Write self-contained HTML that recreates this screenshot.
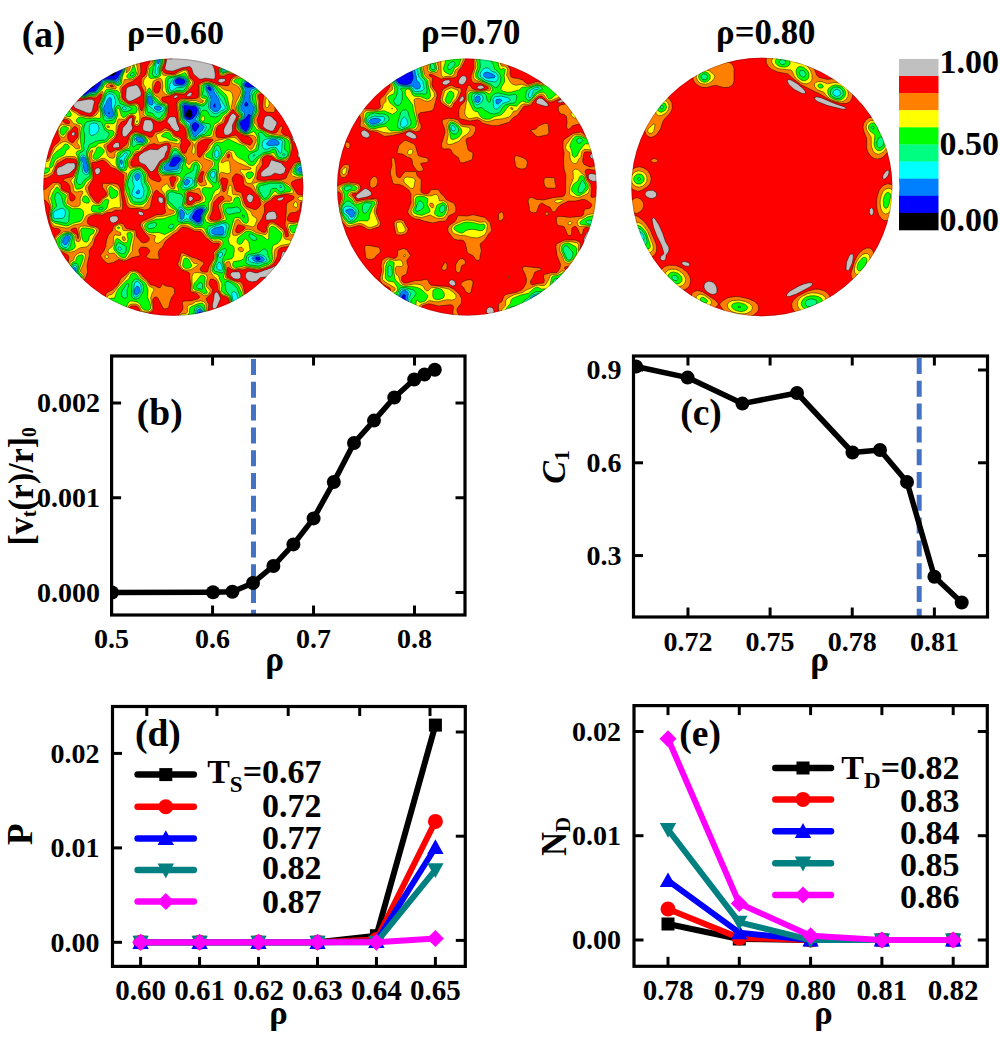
<!DOCTYPE html>
<html><head><meta charset="utf-8"><style>
html,body{margin:0;padding:0;background:#fff;width:1000px;height:1037px;overflow:hidden}
svg{display:block}
</style></head><body>
<svg width="1000" height="1037" viewBox="0 0 1000 1037">
<text x="21.8" y="47.3" font-family="Liberation Serif" font-weight="bold" font-size="37.5" text-anchor="start" >(a)</text><text x="175.5" y="44" font-family="Liberation Serif" font-weight="bold" font-size="34" text-anchor="middle" >ρ=0.60</text><text x="470.7" y="44" font-family="Liberation Serif" font-weight="bold" font-size="34.8" text-anchor="middle" >ρ=0.70</text><text x="765.8" y="44" font-family="Liberation Serif" font-weight="bold" font-size="34.8" text-anchor="middle" >ρ=0.80</text><rect x="899" y="58.90" width="39.5" height="17.41" fill="#C0C0C0"/><rect x="899" y="76.01" width="39.5" height="17.41" fill="#FF0000"/><rect x="899" y="93.12" width="39.5" height="17.41" fill="#FF8000"/><rect x="899" y="110.23" width="39.5" height="17.41" fill="#FFFF00"/><rect x="899" y="127.34" width="39.5" height="17.41" fill="#00FF00"/><rect x="899" y="144.45" width="39.5" height="17.41" fill="#00FF80"/><rect x="899" y="161.56" width="39.5" height="17.41" fill="#00FFFF"/><rect x="899" y="178.67" width="39.5" height="17.41" fill="#0080FF"/><rect x="899" y="195.78" width="39.5" height="17.41" fill="#0000FF"/><rect x="899" y="212.89" width="39.5" height="17.41" fill="#000000"/><text x="999" y="73" font-family="Liberation Serif" font-weight="bold" font-size="34" text-anchor="end" >1.00</text><text x="999" y="155" font-family="Liberation Serif" font-weight="bold" font-size="34" text-anchor="end" >0.50</text><text x="999" y="230.5" font-family="Liberation Serif" font-weight="bold" font-size="34" text-anchor="end" >0.00</text><clipPath id="k1"><ellipse cx="173.3" cy="187.2" rx="131.5" ry="130.1"/></clipPath><g clip-path="url(#k1)"><circle cx="173.3" cy="187.2" r="132.0" fill="#000000"/><path d="M189.3 109.3 191.3 110.9 192.3 115.2 191.0 117.1 188.3 117.8 186.4 116.5 185.9 114.2 187.6 110.2ZM41.5 55.4 41.5 319.0 199.6 319.2 200.9 318.3 202.0 319.2 305.1 319.0 305.1 55.4 282.7 55.3 280.9 59.7 272.3 63.1 269.0 67.2 265.3 69.5 262.4 74.5 260.9 80.2 259.3 81.7 257.3 82.4 256.4 81.5 256.8 72.9 261.0 69.5 262.8 66.5 264.2 55.6 263.6 55.2 112.3 55.2 111.7 55.6 113.2 67.2 116.5 71.9 115.5 73.9 113.6 75.3 111.6 75.9 105.0 75.7 100.6 76.6 98.1 78.9 96.9 82.2 93.3 87.2 92.3 87.8 88.0 88.4 83.6 90.8 80.4 89.2 78.9 81.9 73.2 75.5 71.3 74.1 67.0 73.0 65.8 72.2 64.2 69.2 61.0 66.2 59.5 62.9 56.4 59.9 55.4 55.4Z" fill="#0000FF" stroke="#000" stroke-width="0.55" stroke-opacity="0.85" fill-rule="evenodd"/><path d="M68.9 272.5 70.0 271.9 72.3 271.9 72.9 272.5 72.9 273.5 72.3 274.3 71.0 274.4 69.3 273.5ZM255.4 258.2 256.3 257.1 257.6 256.9 259.6 257.6 260.5 258.9 259.6 259.9 257.6 260.2 256.0 259.5ZM202.0 208.9 202.9 209.5 203.2 210.5 200.8 215.2 200.2 220.9 199.0 222.1 197.3 222.0 193.3 219.2 192.4 217.9 192.4 216.5 195.1 211.5 196.6 210.0 199.3 209.0ZM180.2 158.2 180.6 159.5 180.2 160.5 175.3 166.0 173.3 166.5 169.4 166.1 169.4 165.2 171.9 159.5 173.3 157.7 175.6 156.9 178.0 156.9ZM195.6 122.5 198.3 124.2 199.2 126.2 195.9 130.9 194.6 131.5 192.6 129.2 192.0 125.9 193.3 123.0ZM249.6 114.3 250.5 115.5 249.6 119.2 249.1 125.9 247.0 130.2 245.6 131.1 244.6 131.1 241.7 128.2 240.1 124.2 240.1 122.5 241.3 121.0 245.3 118.5 248.0 114.9ZM108.5 112.7 109.3 112.7 109.5 113.4 108.7 113.4ZM184.6 105.1 190.0 106.2 195.0 106.5 197.0 107.9 197.5 109.9 196.4 113.9 194.0 117.2 192.0 118.9 190.0 119.5 187.6 119.5 186.3 119.1 185.0 117.5 184.3 115.2 184.3 109.9 183.6 106.5ZM214.9 103.6 215.3 106.5 214.6 107.4 213.8 106.9 213.6 105.5ZM246.0 102.0 246.9 102.2 248.1 104.5 247.9 105.5 247.0 106.1 245.3 106.1 244.7 105.5 244.8 103.9ZM208.3 86.7 209.6 86.8 210.8 87.9 211.3 89.2 210.9 90.8 209.6 90.7 208.1 88.9 207.7 87.5ZM175.0 81.5 175.4 80.2 177.0 78.8 180.3 78.5 184.0 79.7 185.2 81.9 183.3 84.2 180.0 84.5 176.0 83.5ZM41.5 55.4 41.5 319.0 196.0 319.2 196.6 318.8 198.3 312.9 200.0 311.5 203.8 314.2 204.6 316.5 204.7 318.8 205.3 319.2 305.1 319.0 305.1 55.4 286.0 55.3 285.2 59.5 283.3 62.5 281.3 63.7 275.0 65.7 273.4 67.2 272.0 70.2 267.8 72.5 265.4 76.9 264.6 81.2 262.6 83.5 257.3 86.3 247.6 87.5 245.2 86.2 244.8 85.2 245.0 83.9 246.3 82.7 251.3 82.2 253.2 80.2 253.8 70.5 258.3 67.5 260.1 64.9 261.2 55.6 260.6 55.2 115.6 55.2 115.0 55.9 115.0 59.5 116.3 65.5 118.0 67.3 121.0 67.7 121.9 68.9 121.3 70.9 117.2 78.2 115.3 79.5 107.3 78.9 103.0 79.5 101.4 80.9 100.0 84.2 96.0 90.2 94.6 91.1 89.6 91.7 85.3 94.5 84.0 94.9 82.6 94.6 77.4 91.5 76.4 83.9 72.5 80.2 70.6 77.6 68.3 76.4 64.3 75.6 63.1 74.5 61.8 71.5 58.4 68.5 56.8 64.9 53.3 61.2 52.4 55.4Z" fill="#0080FF" stroke="#000" stroke-width="0.55" stroke-opacity="0.85" fill-rule="evenodd"/><path d="M137.3 286.0 139.2 287.5 140.0 290.2 138.7 293.2 136.0 295.3 134.5 294.2 134.0 291.9 134.9 288.5 136.3 286.5ZM251.9 258.5 252.6 257.2 254.6 255.9 258.3 255.5 262.6 257.0 264.6 259.5 263.6 260.7 262.3 261.3 256.6 261.9 253.6 260.7ZM68.3 235.4 69.7 236.9 68.8 240.5 66.6 244.5 64.6 245.1 62.6 242.9 62.6 240.2 64.6 236.9 67.0 235.4ZM223.3 227.5 224.2 232.9 222.6 234.9 214.3 234.5 212.3 233.7 211.6 232.9 211.2 230.5 214.0 228.3 221.6 226.3 222.6 226.6ZM181.0 209.1 183.8 211.5 184.6 213.9 183.7 218.2 182.0 219.7 180.6 218.9 180.0 215.2 179.8 210.5ZM203.0 207.7 204.5 208.9 204.8 210.2 201.8 215.5 201.3 218.2 201.6 220.5 200.6 222.8 199.0 223.5 197.0 223.3 189.7 219.2 189.2 218.2 189.7 215.9 194.6 209.2 198.3 207.9ZM138.6 189.7 139.5 190.5 139.4 193.2 138.3 193.9 136.6 193.6 136.0 192.9 136.2 191.9ZM187.6 179.3 189.5 180.5 189.8 181.9 188.0 184.5 185.6 185.5 184.4 184.2 184.4 181.9 186.0 179.7ZM137.6 173.3 139.2 174.2 139.9 176.5 138.8 179.5 137.0 180.9 135.4 179.5 134.6 176.2 135.6 174.2ZM121.3 159.3 122.3 160.9 122.1 163.9 121.4 164.8 120.3 162.2 120.4 160.2ZM82.6 156.7 84.0 157.0 85.3 158.5 87.4 164.9 88.3 169.9 87.0 172.6 85.6 172.4 84.3 170.9 83.6 168.2 83.4 163.2 81.1 159.5 81.2 157.9ZM181.8 158.2 182.2 160.9 179.2 164.2 178.5 168.2 177.6 169.3 169.3 170.5 165.6 170.3 164.4 169.5 163.8 168.2 164.4 165.9 169.3 161.9 173.0 156.3 175.3 155.3 178.0 155.3 180.0 156.3ZM266.4 143.5 269.0 140.4 272.0 139.2 275.6 139.5 278.3 141.2 279.3 142.9 278.8 144.5 277.6 145.2 268.6 145.5 267.0 144.8ZM135.7 138.2 137.3 136.9 141.0 137.4 143.3 138.9 143.9 140.9 142.3 142.4 139.3 142.0 136.3 140.5ZM154.4 106.9 155.6 105.9 158.6 106.1 161.3 107.5 161.7 108.9 159.3 110.3 157.0 110.3 154.8 108.9ZM184.0 103.6 186.0 103.7 190.3 105.2 196.3 105.7 198.8 108.2 198.4 114.2 195.0 119.5 200.0 123.7 203.6 125.9 204.3 127.2 203.0 129.5 195.3 136.7 193.7 136.5 190.9 129.2 190.1 122.9 186.0 120.5 183.8 117.5 182.3 105.5 183.0 104.2ZM109.6 97.2 110.6 97.6 111.4 98.9 111.6 106.9 113.9 113.9 113.2 116.2 111.3 117.2 108.3 117.0 106.0 115.5 104.5 113.2 103.6 109.2 103.8 106.9 106.2 102.5 107.6 98.9ZM149.0 95.7 150.5 96.5 152.8 101.2 153.2 103.9 152.0 105.1 149.6 104.7 148.1 102.5 147.6 99.5 148.1 97.2ZM207.3 85.3 209.3 85.4 211.9 86.9 213.0 88.5 214.4 92.5 218.5 98.5 221.2 107.2 218.6 110.5 216.6 111.7 213.3 111.3 210.4 108.2 210.0 106.2 211.0 99.5 210.2 96.5 206.1 88.2 206.2 86.2ZM173.2 81.2 175.3 78.4 179.0 77.3 184.6 78.7 185.8 79.9 186.6 81.9 185.0 84.9 183.6 85.7 181.3 86.2 174.0 85.3 173.0 83.5ZM223.1 69.5 224.3 68.6 225.2 69.2 224.0 70.3ZM41.5 55.4 41.3 290.2 41.7 290.8 43.0 290.7 48.3 287.9 50.0 285.9 51.6 282.2 55.2 280.2 57.4 275.5 58.6 274.7 62.3 274.3 64.1 271.2 66.0 269.7 71.3 269.3 74.3 267.5 75.2 267.6 76.6 277.9 76.2 280.5 73.0 282.7 70.3 286.5 67.0 289.2 64.3 294.5 58.3 296.9 55.6 300.1 51.6 303.2 48.6 307.5 44.8 310.5 43.8 314.2 45.4 319.0 194.6 319.2 195.4 318.5 197.6 309.9 199.0 308.9 200.6 309.5 204.5 313.5 205.2 314.9 205.7 318.8 206.3 319.2 305.1 319.0 305.3 172.5 304.6 171.9 299.6 172.1 297.8 170.2 298.2 168.5 299.6 167.1 304.6 166.9 305.3 166.2 305.1 55.4 287.4 55.3 285.9 60.9 284.0 63.5 282.0 64.7 275.6 66.7 273.0 71.2 268.7 73.5 266.8 76.9 265.7 81.9 263.3 84.5 259.6 86.8 252.3 88.7 250.8 89.7 250.0 92.5 249.3 99.2 250.0 101.9 253.6 106.9 254.0 108.5 250.9 118.5 250.1 126.5 248.5 130.2 247.0 131.7 245.6 132.2 244.0 131.9 241.6 130.2 240.0 127.9 239.0 124.2 239.6 121.2 243.6 118.2 244.6 115.5 244.3 112.9 241.4 109.9 241.0 108.5 241.2 106.2 243.8 99.5 245.6 91.5 245.6 89.9 243.3 84.9 243.9 82.9 245.0 81.8 250.6 81.4 252.4 79.9 253.0 77.2 252.8 70.5 254.0 68.9 257.6 67.0 259.0 65.2 260.3 57.5 259.9 55.3 159.6 55.2 159.0 55.9 159.6 60.9 159.0 63.2 158.0 64.1 157.0 62.5 157.3 55.9 156.6 55.2 116.6 55.2 116.0 55.9 116.0 59.9 117.2 64.9 119.0 66.3 122.3 66.8 123.2 68.2 122.6 70.5 119.7 75.5 117.8 80.9 116.6 81.5 112.3 80.2 108.0 79.9 103.6 80.6 102.4 81.5 100.8 85.2 96.0 91.7 89.6 93.0 86.3 95.1 84.0 95.9 78.0 93.2 76.4 91.9 75.4 84.2 72.0 81.2 70.0 78.3 68.3 77.3 64.3 76.7 62.4 75.5 60.8 71.9 57.7 69.2 55.8 65.2 52.6 61.9 51.4 55.4Z" fill="#00FFFF" stroke="#000" stroke-width="0.55" stroke-opacity="0.85" fill-rule="evenodd"/><path d="M233.3 291.7 235.3 292.1 236.7 293.9 239.8 303.5 239.8 306.9 238.0 308.8 235.6 308.5 234.2 305.9 231.6 293.9 232.0 292.5ZM137.3 281.3 139.0 282.3 140.6 284.5 141.5 289.2 140.7 292.2 139.4 294.2 137.0 296.7 135.6 297.2 134.3 296.7 133.6 295.9 133.0 292.2 134.4 283.9 135.6 281.9ZM219.0 262.0 220.5 262.9 222.1 266.5 222.5 269.2 221.3 270.4 218.3 269.8 216.7 268.2 217.2 264.2ZM248.3 258.5 248.8 257.2 250.0 256.1 258.0 254.5 262.0 255.1 264.0 256.0 265.8 257.9 266.6 259.9 266.0 261.2 264.6 262.0 257.0 263.4 250.3 261.9 248.6 260.2ZM222.0 252.3 222.6 253.2 222.2 255.5 221.0 257.2 219.6 257.7 218.4 256.2 218.6 254.2 220.3 252.5ZM118.4 247.3 119.3 246.9 120.6 247.5 121.6 248.9 121.2 249.9 120.0 250.4 118.6 249.5 118.0 248.2ZM69.0 234.6 70.5 235.6 71.0 237.2 68.4 244.9 66.6 247.4 64.3 247.4 62.6 246.2 61.5 244.2 61.0 241.9 61.4 239.9 62.5 237.9 65.0 235.4 66.3 234.7ZM226.2 225.2 226.7 227.2 225.8 229.5 225.4 233.9 223.6 235.9 212.3 235.7 211.0 234.9 209.7 232.9 209.1 229.9 211.0 227.9 222.0 223.5 224.0 223.7ZM64.3 209.5 65.2 210.9 65.5 212.9 64.8 216.2 64.0 217.5 62.0 218.5 58.6 218.3 55.0 218.9 53.8 218.2 53.0 213.9 54.3 211.3 61.3 208.2 63.0 208.5ZM178.9 207.5 180.0 206.9 182.3 208.2 185.0 211.2 187.4 215.0 195.0 207.9 200.0 206.9 204.3 207.3 205.4 208.5 205.6 209.9 202.4 215.9 202.0 218.2 202.3 221.2 201.6 223.2 199.0 224.4 196.6 224.1 190.0 220.8 186.6 218.5 182.6 221.1 180.3 220.7 179.0 217.5ZM280.0 185.5 281.6 186.2 281.8 186.9 281.3 187.7 280.3 187.6 279.6 186.9ZM191.6 178.3 193.0 180.5 192.8 182.5 192.0 183.9 187.6 187.5 186.0 188.0 184.0 187.5 183.1 186.2 182.8 184.2 183.7 180.9 185.0 178.9 187.3 177.5ZM137.3 171.5 139.6 172.5 141.1 174.9 141.0 181.2 144.0 190.5 143.3 195.9 142.0 197.7 140.0 198.5 137.0 198.3 134.3 197.1 132.4 195.2 131.7 193.2 134.2 186.5 132.6 180.5 132.8 176.2 134.4 173.2ZM213.6 171.4 215.0 172.5 215.3 174.5 214.5 177.2 213.0 178.1 211.3 177.2 210.3 174.9 211.4 172.5ZM82.3 154.9 84.0 155.1 85.6 156.9 88.4 165.2 89.0 171.9 88.2 173.9 87.0 174.7 84.3 174.1 82.4 171.5 82.0 164.5 80.0 158.9 80.3 156.9ZM254.6 154.7 254.3 155.8 253.2 156.1 253.4 155.0ZM182.5 157.9 183.2 159.9 183.0 161.2 180.2 164.9 179.8 168.9 178.6 170.7 177.0 171.3 165.6 171.9 164.3 171.5 162.7 170.2 162.3 167.9 163.1 165.5 169.0 161.2 171.5 156.9 173.6 154.7 175.6 153.9 177.3 154.1 180.3 155.7ZM282.5 154.3 284.3 153.7 285.3 154.9 283.6 155.8 282.7 155.2ZM126.3 152.6 127.2 153.2 127.5 154.2 124.4 158.5 123.2 166.9 122.3 168.0 121.3 168.1 120.1 167.2 119.5 165.9 119.1 158.9 120.0 157.6 122.8 155.8 124.3 153.3ZM217.0 149.7 218.8 152.2 219.0 154.9 218.2 156.9 216.3 157.8 214.8 155.9 214.6 152.9 215.4 150.5ZM263.1 140.9 265.0 139.5 271.6 138.2 274.6 138.2 281.3 139.9 282.3 141.5 281.4 152.8 280.6 153.1 279.6 152.5 276.9 148.5 275.0 147.3 272.0 147.3 267.0 149.2 264.6 149.1 263.3 148.4 262.3 146.5 262.3 143.2ZM134.6 137.5 135.3 136.6 137.3 135.9 141.3 136.7 144.2 138.5 144.8 141.2 143.0 143.1 137.6 142.7 135.6 141.7 134.6 140.5ZM95.6 123.1 97.0 123.7 98.4 125.5 99.0 127.9 98.8 130.2 97.6 132.2 95.6 134.1 93.0 135.3 91.3 135.3 90.0 134.5 89.3 133.2 89.4 125.5 90.3 124.2 92.3 123.1ZM122.4 107.9 123.0 106.9 124.3 106.5 125.6 107.2 126.2 108.5 125.6 109.4 124.3 109.9 123.0 109.2ZM183.3 103.0 186.0 103.1 190.3 104.5 196.6 105.0 199.0 106.5 200.2 109.2 199.2 115.2 197.3 118.5 197.4 119.9 200.3 123.0 204.3 124.6 206.2 126.5 206.0 128.2 203.6 132.2 195.0 138.0 193.6 137.9 192.2 136.5 188.7 124.9 184.6 120.5 183.2 117.9 181.6 104.9 182.0 103.9ZM148.3 94.5 149.6 94.1 150.8 95.2 155.3 103.8 162.0 106.1 163.8 107.2 164.2 108.5 163.3 110.8 159.0 112.2 156.6 112.0 154.6 110.9 152.0 108.2 149.0 106.2 147.5 103.5 147.0 100.9 147.5 95.9ZM109.6 93.7 112.0 94.1 113.8 95.5 115.6 100.5 115.5 103.5 114.0 107.5 114.5 115.9 113.0 117.8 110.6 118.5 106.6 117.9 104.8 116.2 103.5 113.2 102.0 106.9 105.7 96.9 107.3 94.6ZM207.0 84.7 210.6 85.3 213.3 87.2 225.2 106.9 225.2 108.2 224.3 109.5 221.0 110.8 217.0 113.4 215.0 113.5 212.6 112.7 209.8 109.9 208.5 107.2 209.3 98.5 205.0 87.5 205.2 85.9ZM186.5 79.5 187.2 80.9 187.2 82.9 186.1 84.9 184.3 86.7 182.0 87.5 176.6 87.7 172.6 90.5 171.3 90.8 170.4 90.2 169.6 88.2 169.8 84.5 172.1 80.2 174.0 78.3 176.6 77.1 181.0 76.9 184.6 77.8ZM227.1 68.2 226.6 69.5 224.6 71.1 223.0 71.4 222.0 70.5 222.2 69.2 223.6 67.8 226.0 67.3ZM41.5 55.4 41.3 287.5 42.0 288.2 45.6 286.7 47.9 284.2 49.6 279.9 54.3 278.1 57.6 274.1 61.6 273.1 64.6 269.3 71.6 268.3 74.6 265.0 75.9 265.3 76.8 266.9 76.8 274.2 79.3 277.9 78.2 282.2 74.7 284.9 72.3 288.7 69.0 290.9 66.6 296.5 65.3 297.4 60.3 298.7 57.6 302.1 53.3 305.2 50.6 309.2 47.2 312.2 46.6 314.9 48.2 319.0 194.0 319.2 194.6 318.5 196.4 309.2 197.3 307.9 198.3 307.5 200.6 308.2 204.8 312.9 205.8 314.9 206.0 318.8 206.6 319.2 305.1 319.0 305.3 173.5 304.6 172.9 299.0 173.1 297.3 172.1 296.6 170.9 296.8 168.5 298.3 166.0 301.6 165.2 304.6 165.2 305.3 164.5 305.1 55.4 287.8 55.4 287.1 60.2 285.8 62.9 283.0 65.2 276.3 67.3 274.2 71.5 269.2 74.5 267.5 77.5 266.2 82.5 264.6 84.5 260.6 87.3 252.4 90.6 250.6 96.5 250.6 100.2 251.4 102.2 254.4 106.2 255.0 109.5 251.5 118.5 251.3 123.5 250.1 128.5 248.0 131.9 245.6 132.9 242.6 131.7 240.3 129.5 238.8 126.9 238.3 124.5 239.1 120.9 242.8 117.9 243.3 116.5 242.9 113.9 240.6 110.9 239.6 108.5 240.5 104.9 243.0 98.9 244.5 91.5 242.8 86.2 242.6 84.2 243.3 82.2 244.3 81.1 250.0 81.1 251.9 79.5 252.3 78.2 252.2 70.5 253.3 68.7 256.6 67.1 258.4 65.2 259.3 61.9 260.0 55.9 259.6 55.3 161.0 55.2 160.3 55.9 160.4 62.9 157.8 67.9 157.9 73.2 157.3 74.1 156.3 74.5 155.1 73.2 156.3 60.2 156.3 55.9 155.9 55.3 117.0 55.2 116.4 55.6 116.3 57.9 117.6 64.2 119.3 65.7 123.0 66.3 124.0 68.2 119.5 77.9 118.5 82.2 116.6 82.7 113.3 81.1 110.6 80.5 104.3 81.1 103.0 82.2 101.7 85.2 98.2 90.5 96.3 92.4 90.0 93.7 84.6 96.2 82.3 96.1 76.3 92.9 75.3 90.2 75.6 87.5 74.6 83.9 72.0 81.9 69.0 78.3 63.6 77.1 62.3 76.2 60.5 72.2 57.3 69.5 55.5 65.9 52.3 62.5 51.3 58.9 51.1 55.4Z" fill="#00FF80" stroke="#000" stroke-width="0.55" stroke-opacity="0.85" fill-rule="evenodd"/><path d="M128.3 283.6 128.8 284.9 127.0 290.2 127.4 296.5 126.3 297.9 124.3 298.1 122.4 296.9 121.3 293.9 121.8 291.5 126.2 284.5 127.0 283.8ZM200.3 282.7 201.6 283.0 202.4 284.2 202.6 288.2 202.0 289.3 198.0 288.5 196.4 286.9 197.4 284.5ZM226.0 281.8 228.6 281.7 231.3 283.1 235.6 286.7 237.0 288.5 239.1 293.5 242.3 304.2 242.1 307.9 240.6 309.9 236.6 310.5 234.6 309.8 233.9 308.9 232.2 303.5 231.0 296.9 226.1 290.9 225.0 284.2 225.2 282.5ZM135.6 278.9 137.6 279.1 139.6 280.5 142.4 283.5 143.6 286.5 143.4 290.9 142.2 293.5 139.0 298.1 136.3 299.2 133.0 298.4 131.6 296.2 131.8 283.2 133.6 280.2ZM266.8 250.2 267.6 252.5 267.8 255.5 270.0 259.5 269.5 261.2 268.0 262.7 262.6 264.4 259.0 266.2 249.3 264.9 246.0 263.2 245.6 262.2 246.8 256.2 248.0 254.6 258.6 252.7 263.3 249.1 265.3 249.1ZM225.0 248.3 226.2 249.5 226.1 251.5 222.3 260.2 222.6 263.2 224.0 268.2 223.7 271.5 222.6 272.7 221.3 272.9 215.3 271.3 213.9 269.9 213.6 268.2 217.4 259.2 217.7 253.5 221.6 249.7ZM117.6 242.7 119.6 242.9 126.1 246.2 126.3 250.5 125.0 253.0 122.6 253.9 121.3 253.7 118.6 252.3 116.4 250.2 115.6 247.2ZM249.0 234.5 250.0 233.9 251.3 234.1 255.3 236.4 256.8 238.2 256.6 239.9 254.0 240.5 252.0 239.7 248.9 236.2ZM68.6 233.5 71.6 234.9 72.6 237.2 70.0 247.2 68.6 248.8 66.6 249.5 62.6 248.3 60.6 246.9 59.4 244.9 59.0 241.9 60.1 238.5 63.0 235.5 66.0 233.7ZM173.0 224.3 173.8 225.5 173.2 227.5 171.3 228.7 169.3 228.4 168.6 227.2 169.3 225.5 171.3 224.1ZM156.4 223.5 156.2 225.9 154.6 227.4 152.6 228.3 149.3 228.7 148.0 227.9 147.1 226.5 148.0 224.5 150.3 223.4 154.6 222.5ZM229.0 224.5 229.3 226.5 227.8 230.9 227.2 234.5 226.0 236.5 224.3 237.8 218.0 236.9 211.6 237.1 209.1 235.2 207.4 231.5 207.2 228.2 208.0 226.9 209.3 226.0 212.6 225.3 222.6 221.9 227.6 223.3ZM242.4 214.9 243.3 214.9 244.2 215.9 244.2 217.5 243.3 217.5 242.4 216.5ZM98.6 208.9 99.0 208.1 102.3 207.2 103.2 207.9 102.6 209.1 101.3 209.7 99.6 209.7ZM240.6 210.2 240.4 211.9 239.3 212.7 235.6 212.9 229.3 214.4 227.0 213.5 225.6 210.9 225.9 209.2 227.3 208.0 232.0 207.9 236.6 206.9 239.3 207.9ZM57.0 192.3 58.6 192.9 61.4 195.9 63.2 203.2 64.4 205.9 69.4 211.2 68.8 221.2 67.0 223.1 65.3 223.2 54.3 221.0 53.0 220.2 52.1 218.5 51.6 215.9 52.1 211.5 53.4 209.5 56.2 206.9 56.6 205.5 54.6 198.2 55.4 194.2ZM168.6 193.2 170.3 192.0 173.0 191.9 177.0 193.4 180.6 194.0 182.0 194.9 183.6 198.2 182.2 205.5 184.0 208.0 187.3 210.1 190.0 209.9 194.3 206.9 196.6 206.2 204.0 205.5 206.0 206.5 206.8 207.9 207.0 209.5 203.5 215.9 203.1 217.9 203.5 222.5 202.9 224.2 201.0 225.4 198.3 225.8 195.3 225.1 188.3 221.7 186.0 221.5 182.0 222.5 178.6 221.7 177.3 219.2 178.0 212.5 177.2 209.5 171.6 203.7 169.3 202.2 168.2 200.5 168.0 194.5ZM258.6 188.2 259.1 186.9 260.3 185.8 270.3 183.2 280.6 183.2 282.0 183.7 284.0 185.5 285.2 188.5 283.6 191.1 280.6 192.1 276.6 188.6 275.3 188.2 272.3 188.5 270.7 190.2 269.5 194.2 266.6 197.5 264.6 198.5 263.1 197.2 259.4 191.2ZM214.0 169.2 215.6 169.6 216.6 171.5 216.3 181.9 215.3 183.1 213.6 182.4 210.6 179.9 208.6 176.2 208.8 174.2 209.8 172.2 212.0 170.0ZM137.3 169.5 140.3 170.1 142.2 172.5 143.8 176.2 144.4 182.2 147.2 186.9 148.0 189.9 147.8 192.5 145.6 198.9 143.3 201.4 140.6 202.2 134.6 202.1 132.4 200.2 129.8 194.2 129.2 189.2 127.3 185.2 128.5 179.5 131.4 173.5 134.3 170.7ZM196.0 164.4 197.4 165.9 197.6 167.9 194.6 179.9 194.8 185.2 193.3 186.7 190.0 188.3 184.6 189.9 182.6 189.6 181.2 187.9 180.6 185.9 184.0 177.2 186.6 174.0 191.0 172.2 192.6 170.9 193.5 169.5 194.2 165.2 195.0 164.5ZM129.6 150.7 130.6 151.9 130.4 153.2 125.8 160.5 125.6 164.5 124.7 168.2 123.0 169.7 121.0 169.5 119.1 167.9 118.2 165.9 117.6 159.5 118.4 157.2 121.7 152.9 123.6 151.5 127.0 150.5ZM176.6 150.6 179.6 154.2 183.0 156.9 184.1 158.9 183.8 162.9 182.2 166.2 182.0 169.5 181.2 171.9 180.0 173.1 178.0 173.8 172.3 172.9 165.0 173.2 162.0 172.1 160.4 169.9 161.8 165.2 164.0 163.1 167.3 161.4 169.2 159.5 173.4 150.7 174.6 150.2ZM217.0 144.9 218.3 145.3 219.7 147.2 221.0 150.5 221.4 153.5 220.9 155.5 218.0 159.7 216.3 160.3 214.3 159.2 212.7 156.9 212.3 153.5 215.0 146.5ZM132.0 144.5 132.8 137.9 134.0 136.0 135.6 135.1 137.0 134.9 142.6 136.3 144.6 137.5 145.8 139.2 145.8 142.2 143.0 144.3 136.6 144.7 133.6 147.1 132.7 146.5ZM248.3 156.9 248.8 155.2 250.3 153.7 257.0 150.8 258.2 149.5 259.6 140.2 258.6 133.5 260.0 132.1 262.3 132.7 265.0 135.9 267.0 137.0 273.3 136.9 280.6 137.9 283.0 138.7 284.2 139.9 285.0 141.9 284.6 148.9 285.3 150.1 287.5 151.5 288.0 152.9 287.6 155.2 286.0 157.1 282.6 158.2 279.0 157.4 277.7 155.9 275.6 149.9 274.3 149.1 273.0 149.1 269.3 151.6 264.6 152.3 262.3 153.4 255.6 158.4 252.3 162.1 251.3 161.8 249.5 159.9ZM100.3 121.7 102.0 123.2 104.5 129.9 108.9 132.9 109.2 134.9 106.5 138.9 105.0 140.2 101.0 140.2 96.6 141.1 89.4 144.5 86.4 151.5 86.3 154.5 89.6 167.2 89.8 175.5 88.6 177.1 85.0 179.2 81.6 184.0 80.3 184.5 78.6 184.4 77.1 183.2 76.3 180.9 80.0 165.2 79.0 159.2 79.0 154.2 80.0 152.7 83.3 151.1 84.1 149.5 83.6 145.2 84.6 141.9 84.6 134.2 83.3 129.9 84.9 123.9 85.6 122.5 87.0 121.7 93.3 120.5ZM148.6 92.3 149.6 92.2 150.6 92.9 153.5 97.9 157.0 102.4 160.6 104.4 164.0 105.2 165.4 106.5 165.6 108.9 164.9 111.9 160.0 118.2 158.3 118.5 157.0 118.1 155.0 116.5 152.6 113.3 148.3 112.4 147.2 111.5 146.3 97.2 147.2 93.9ZM100.6 106.2 106.2 93.2 108.3 91.7 110.6 91.5 114.0 92.6 116.5 94.9 120.4 103.8 125.3 105.3 131.6 108.1 132.0 108.9 131.0 109.9 126.3 111.7 123.3 111.7 121.4 109.9 119.8 105.9 119.0 105.5 117.3 105.8 116.0 106.9 115.3 108.9 116.0 115.2 114.8 118.2 112.3 120.1 107.0 121.2 105.0 120.7 103.9 119.5ZM210.0 84.1 215.3 87.2 219.3 92.9 224.2 97.5 227.4 107.2 227.5 108.9 225.3 111.4 221.3 113.3 218.0 116.4 215.6 117.2 211.0 116.4 209.4 114.9 207.8 111.5 207.0 110.8 203.6 110.2 202.0 110.9 201.1 112.2 199.2 118.5 199.4 120.5 202.0 122.7 209.3 123.7 210.4 125.2 210.2 127.9 205.0 134.1 200.3 135.6 195.3 139.2 193.3 139.3 192.0 138.7 190.6 136.9 187.9 127.2 182.2 119.2 180.3 106.2 180.4 104.2 182.3 102.1 185.0 101.9 190.3 103.5 196.0 103.8 201.3 106.2 203.0 106.1 205.0 105.0 206.9 102.5 207.6 98.5 206.3 96.3 203.6 95.8 202.6 94.9 202.6 93.5 203.6 90.5 203.4 86.2 204.3 84.9 206.0 84.0ZM186.2 77.5 187.9 80.2 188.6 82.5 184.3 90.1 182.6 90.9 177.0 90.5 171.0 92.5 168.7 91.9 168.0 89.5 167.6 82.5 168.1 79.9 169.0 78.3 178.0 75.9 184.3 76.3ZM133.9 72.9 134.2 74.2 133.3 75.4 131.3 76.2 130.4 75.8 130.3 74.9 131.3 73.5 132.6 72.7ZM41.5 55.4 41.3 286.2 41.7 286.8 43.0 286.7 45.3 285.3 46.7 283.5 47.9 279.9 49.3 278.3 54.0 276.8 56.3 273.9 61.0 272.1 64.3 268.4 70.6 267.5 71.5 266.9 72.8 264.3 74.3 263.5 76.3 263.4 78.0 264.5 78.3 267.2 77.6 270.2 77.8 272.9 80.5 275.6 81.0 276.9 79.2 283.5 75.4 286.2 73.6 289.5 70.0 291.9 67.8 297.5 66.0 298.7 62.3 299.3 61.0 300.2 58.6 303.1 54.6 305.5 51.3 310.5 48.4 313.2 48.0 314.5 49.5 319.0 192.0 319.2 192.8 318.5 194.9 307.9 196.0 306.7 198.0 305.9 200.3 306.0 202.5 307.5 205.9 313.2 206.6 315.5 206.6 318.5 207.3 319.2 305.1 319.0 305.3 174.9 304.9 174.4 298.3 174.3 296.3 173.2 295.0 171.2 296.2 166.5 297.3 165.0 299.3 164.2 304.6 164.2 305.3 163.5 305.1 55.4 289.8 55.4 288.8 60.5 286.6 64.5 284.0 66.5 277.6 68.9 275.6 72.9 271.3 75.3 270.1 76.5 268.2 81.9 266.6 84.5 263.0 87.7 256.6 90.6 253.8 92.9 252.8 94.9 252.3 98.5 253.0 101.2 255.8 106.5 256.3 109.5 255.2 113.2 252.2 119.2 252.0 127.2 251.4 129.2 249.3 132.2 246.3 133.5 243.0 132.8 240.0 130.5 238.2 128.2 237.6 125.9 237.6 122.9 238.2 120.9 241.5 117.8 242.1 116.5 241.6 114.2 239.1 111.2 238.3 109.2 238.5 106.2 241.8 98.9 243.3 92.5 243.1 89.9 241.5 85.9 241.3 82.9 241.8 81.5 243.6 79.9 249.3 80.4 250.9 79.5 251.6 77.5 251.5 69.9 252.3 68.5 256.3 66.4 257.9 64.5 259.0 58.9 258.9 55.3 239.0 55.3 237.6 60.2 234.8 65.5 233.9 69.5 232.6 70.2 228.3 70.4 224.3 72.4 222.6 72.5 221.1 71.2 221.2 68.9 222.6 67.3 226.6 65.5 227.7 63.5 227.6 58.5 226.9 55.3 162.6 55.2 162.0 55.9 161.8 62.5 159.3 68.5 159.5 74.2 157.6 76.1 155.0 76.8 153.3 76.1 152.3 74.2 153.2 68.2 155.0 62.5 155.3 55.9 154.9 55.3 118.0 55.2 117.3 55.9 117.3 59.5 118.2 63.5 119.6 64.7 123.6 65.6 124.8 67.5 124.5 69.5 120.5 78.2 120.3 81.5 119.5 83.5 117.3 84.3 112.6 81.7 106.0 81.7 104.1 82.9 100.8 88.5 96.6 93.3 94.6 94.3 90.3 94.7 84.6 96.9 82.0 96.7 76.0 93.5 74.8 91.9 74.9 87.5 74.1 84.5 70.8 81.9 68.6 78.9 63.3 77.7 61.6 76.5 59.8 72.5 56.5 69.9 54.8 66.2 51.6 62.9 50.4 55.4Z" fill="#00FF00" stroke="#000" stroke-width="0.55" stroke-opacity="0.85" fill-rule="evenodd"/><path d="M201.3 275.3 203.6 275.4 205.2 277.2 204.6 285.9 205.2 288.2 207.3 292.2 206.6 293.5 205.6 294.1 204.0 293.8 199.6 291.1 195.0 289.9 193.4 288.2 193.6 285.2 194.4 282.9 196.9 280.5 200.0 276.2ZM184.6 258.3 186.6 258.0 188.8 259.5 191.5 264.9 191.6 266.2 190.6 267.4 188.6 268.3 186.0 268.5 183.1 266.9 182.6 264.9 183.8 259.5ZM131.0 232.6 132.2 233.9 132.3 236.9 128.8 251.9 125.6 257.2 124.3 257.9 122.3 257.7 119.3 255.9 114.0 249.9 113.6 248.2 115.2 240.5 116.0 239.2 117.3 238.6 119.0 239.3 123.0 242.5 124.3 242.9 126.3 242.5 127.3 241.5 128.0 239.2 126.8 233.5 128.0 232.7ZM57.1 238.5 61.0 235.1 65.3 232.7 68.6 232.5 71.6 233.5 74.2 236.2 74.3 241.2 75.3 245.5 75.0 247.5 73.0 249.6 68.6 250.9 64.3 250.3 59.3 248.3 57.4 246.5 56.9 245.2 56.3 240.9ZM82.3 228.0 85.6 227.9 92.6 229.1 94.5 230.5 93.6 233.2 89.5 235.9 88.6 240.5 86.6 242.1 84.0 241.7 82.4 239.5 80.6 230.5 81.0 228.9ZM117.5 227.5 119.0 226.7 119.7 228.2 118.3 228.8 117.5 228.2ZM281.5 232.9 282.0 235.9 280.5 240.2 277.6 243.4 273.4 245.3 272.5 246.9 272.0 250.9 272.6 258.9 271.1 262.5 269.3 264.3 259.0 268.1 244.3 265.9 235.3 267.8 232.9 266.5 232.6 263.9 233.6 261.6 240.0 260.6 243.0 259.3 243.9 258.2 245.4 253.5 250.2 250.2 248.8 242.2 246.3 239.1 245.3 239.0 244.3 239.6 242.0 243.2 240.3 244.3 238.6 244.2 237.1 242.5 237.0 240.2 237.8 237.9 245.0 232.1 247.0 231.1 250.0 231.1 256.3 234.3 262.3 235.8 267.3 239.7 268.6 238.9 269.0 230.5 269.7 227.9 271.0 226.5 272.6 226.2 275.3 227.3ZM108.8 199.9 108.8 201.5 106.9 208.2 103.6 211.3 100.3 212.5 93.3 211.9 91.5 210.9 91.5 206.9 92.6 205.3 93.6 204.9 97.3 205.5 99.6 205.3 101.3 204.2 103.4 200.9 105.3 199.5 107.6 199.2ZM83.6 196.3 85.6 195.7 87.9 197.2 89.6 200.5 89.0 202.8 86.3 203.2 83.3 201.9 82.4 200.5 82.3 198.9ZM109.6 186.7 111.6 186.7 114.0 189.3 117.2 190.9 118.0 194.2 116.3 197.1 112.6 198.5 111.0 198.3 110.2 197.5 108.6 188.9ZM56.6 186.9 57.9 187.2 61.0 192.0 64.6 194.0 66.1 195.5 66.3 196.9 65.1 199.9 65.0 201.9 67.0 205.5 72.6 208.7 80.0 208.5 81.3 209.0 82.8 210.5 83.6 212.9 83.4 215.9 82.2 219.2 80.3 221.4 73.6 223.1 68.3 225.7 65.6 225.9 55.0 223.3 51.8 220.9 50.6 216.5 50.6 212.5 52.6 206.2 50.6 198.2 53.2 191.9ZM256.6 185.9 258.6 183.5 270.6 181.5 281.0 181.9 283.6 183.0 289.0 186.9 290.7 189.2 291.0 190.5 290.0 191.8 286.0 192.1 279.6 194.1 277.6 193.6 275.6 191.6 274.3 191.3 269.0 198.2 266.3 200.1 264.0 200.5 262.1 199.2 257.4 191.2 256.6 188.9ZM252.0 171.9 253.4 173.5 253.0 175.9 250.3 178.5 248.3 178.6 246.7 176.9 246.0 174.5 246.2 173.5 248.3 172.1ZM137.3 167.9 141.0 168.7 143.3 170.9 145.4 173.9 146.2 181.5 148.9 185.9 150.6 191.5 150.2 193.5 146.5 201.2 144.0 203.7 140.6 204.9 134.3 204.6 130.8 202.5 126.2 191.5 125.6 188.5 125.6 184.5 126.5 179.9 129.4 172.2 131.3 170.3ZM100.6 147.2 103.8 149.9 104.3 151.2 104.0 152.5 99.0 158.0 96.6 159.3 94.3 159.3 93.1 157.9 93.0 155.9 95.6 150.9 96.6 147.9 98.0 146.9ZM68.0 144.7 69.2 146.5 69.2 148.2 65.8 150.9 64.8 154.2 63.3 155.5 59.0 157.3 56.0 159.2 54.7 160.9 52.8 166.2 51.3 167.6 50.0 167.7 49.6 166.9 49.9 164.2 53.2 154.9 56.6 151.5 62.0 147.7 64.6 144.3 66.0 143.9ZM144.6 136.3 147.5 139.9 147.5 141.9 146.7 143.2 144.3 145.1 140.7 146.3 138.6 149.4 135.3 150.3 133.5 151.9 131.1 156.5 128.6 158.9 127.5 160.9 127.3 167.2 126.3 170.1 124.6 171.0 122.6 171.2 119.6 170.0 117.3 167.2 116.0 163.2 116.0 159.9 117.5 152.9 122.0 150.6 129.2 148.1 130.0 146.2 130.9 138.2 133.0 135.1 135.0 134.1 137.0 133.9 142.0 135.1ZM161.5 135.5 165.0 132.5 168.6 132.3 170.2 133.5 172.6 137.8 177.0 139.8 177.4 140.8 176.3 141.2 169.6 140.0 165.6 137.5 162.3 137.0ZM67.3 126.9 68.6 128.2 68.2 129.2 64.0 134.8 63.0 135.2 61.6 134.8 60.6 133.5 60.0 131.2 60.8 127.9 63.6 126.2ZM137.4 120.7 137.4 121.9 136.7 122.3 136.5 121.2ZM203.3 115.5 201.8 116.5 200.8 118.9 201.4 120.7 202.6 121.2 204.0 120.8 204.6 119.5 204.4 117.2ZM117.6 90.7 119.2 92.5 119.8 98.5 120.8 100.5 128.3 105.4 134.6 105.5 136.0 106.0 137.3 109.2 136.6 112.2 135.3 113.4 129.3 113.7 124.6 117.3 123.0 117.4 121.4 115.9 119.4 109.2 117.7 108.3 116.8 109.5 117.6 115.2 114.8 122.9 113.0 123.9 106.3 123.5 105.2 124.0 104.9 126.2 106.3 128.8 108.6 130.0 112.3 130.4 113.8 131.5 114.2 132.9 113.6 134.9 112.3 136.5 109.0 138.9 106.6 142.0 98.6 143.6 96.0 146.5 91.3 147.8 89.8 149.2 88.1 152.9 87.6 155.2 90.6 168.2 91.3 173.5 91.2 177.2 90.0 178.9 86.4 181.5 82.6 187.7 79.6 188.9 76.6 189.3 75.5 187.9 74.0 181.9 78.6 165.2 77.8 157.9 76.0 153.2 77.0 151.3 81.0 149.9 81.8 148.9 80.3 140.9 80.6 131.5 82.3 125.9 81.6 124.1 78.3 123.4 77.0 122.5 76.3 120.9 76.6 119.5 78.0 117.8 80.6 116.9 87.6 118.5 95.0 117.9 99.9 118.3 100.6 116.9 100.6 112.9 99.5 106.2 105.4 90.5 106.6 89.5 108.6 89.2ZM149.3 87.8 150.2 88.5 154.1 96.5 157.3 98.9 160.6 103.0 165.0 104.2 166.8 106.2 166.3 111.9 165.2 115.2 163.3 118.1 160.3 120.1 158.3 120.2 156.3 119.6 151.6 116.5 146.6 115.3 145.1 113.5 145.0 110.2 145.6 107.2 145.3 98.2 146.5 92.5 148.0 89.2ZM210.0 83.1 217.0 86.4 226.1 94.9 227.1 96.9 229.4 106.5 229.4 109.2 227.0 112.5 223.0 115.5 219.0 121.4 214.1 124.5 211.1 134.2 210.3 135.4 201.0 136.7 195.6 140.6 193.6 141.0 191.0 139.6 189.2 137.9 188.0 131.2 186.9 128.2 184.8 124.9 181.4 121.9 180.5 120.2 180.0 111.9 179.0 106.9 179.1 103.5 180.6 101.7 184.0 100.5 191.0 102.2 196.6 102.5 201.0 104.3 204.0 103.4 205.2 101.9 205.9 99.5 205.0 98.3 202.0 97.9 200.8 96.2 201.1 86.5 202.3 84.9 205.3 83.1ZM185.6 72.9 190.6 82.9 185.6 91.2 182.6 92.5 176.6 91.9 170.3 93.9 168.3 93.7 167.0 92.9 166.0 90.5 165.3 83.9 165.4 79.5 166.6 77.2 168.6 76.1 174.3 75.9 182.0 74.0 184.3 72.7ZM41.5 55.4 41.4 83.1 44.6 84.3 47.7 89.0 53.3 92.3 54.6 94.2 56.0 97.9 59.6 100.0 62.0 103.4 65.6 104.3 66.8 105.2 68.7 109.5 71.0 113.2 71.3 114.9 71.0 115.9 70.0 116.7 66.6 116.3 64.9 114.5 63.2 109.9 54.0 104.7 50.3 99.9 42.0 97.2 41.3 97.9 41.3 167.2 42.0 167.9 49.0 167.9 49.8 168.5 49.4 170.9 47.6 172.7 45.0 173.5 42.0 173.5 41.3 174.2 41.3 285.2 42.3 285.7 44.9 284.2 47.0 279.2 48.6 277.3 53.3 275.9 56.3 272.7 60.6 271.1 63.6 267.6 70.0 266.5 72.0 262.7 75.7 260.8 76.7 257.2 77.6 256.1 81.6 254.7 82.8 255.3 83.3 256.5 83.1 258.9 79.0 270.2 79.2 272.5 81.9 274.5 82.6 276.2 80.6 283.5 79.6 284.8 76.5 286.9 74.3 290.5 70.7 292.9 68.3 298.9 67.0 299.7 62.6 300.5 59.6 303.8 55.0 306.9 52.8 310.5 49.4 314.2 49.5 315.9 50.7 319.0 106.9 319.1 107.2 318.5 106.7 315.5 105.0 310.2 105.0 307.5 107.7 300.2 109.6 298.4 114.6 298.1 115.8 293.9 118.1 289.2 125.6 281.2 129.0 278.9 130.8 274.5 132.6 273.1 134.6 273.3 136.6 274.5 140.0 278.9 145.0 282.5 146.0 283.9 148.0 289.9 147.3 296.9 150.0 302.9 150.6 305.5 150.5 308.5 149.6 309.7 148.3 310.3 144.0 310.1 142.1 308.5 140.1 304.5 138.0 302.4 134.0 301.2 130.3 301.0 128.2 303.2 125.2 309.2 120.4 312.5 119.3 315.5 119.0 318.5 119.4 319.1 180.0 319.2 180.7 318.8 182.3 315.8 186.3 316.0 188.2 314.9 189.4 312.5 189.8 308.2 190.6 307.0 197.0 304.1 200.6 303.2 203.0 303.5 204.3 304.9 205.1 309.2 207.1 313.9 207.3 318.5 208.0 319.2 305.1 319.0 305.3 229.5 304.9 228.9 303.6 229.1 295.6 232.7 292.6 232.9 290.7 231.2 289.6 227.2 289.8 225.9 291.0 225.1 295.0 224.9 304.6 221.9 305.3 221.2 305.2 176.3 303.6 175.9 299.0 176.3 294.0 174.1 292.8 172.5 293.1 170.5 296.0 164.5 298.0 163.3 304.6 163.2 305.3 162.5 305.1 55.4 297.5 55.4 296.8 61.2 295.6 63.0 292.0 64.5 288.3 67.8 284.0 69.9 281.3 74.7 276.7 76.3 275.6 78.5 275.2 81.5 274.3 82.7 270.0 84.3 267.5 87.9 265.3 89.5 257.3 92.3 255.6 94.9 257.3 111.2 256.6 113.5 253.2 119.2 253.0 122.2 253.6 124.9 256.6 129.5 262.6 130.9 269.3 135.2 282.0 136.8 287.6 139.2 288.8 140.9 290.0 146.2 289.6 152.5 288.2 156.5 285.6 158.8 281.0 159.5 278.6 159.1 277.3 158.2 273.6 152.5 270.0 153.5 265.3 153.8 262.6 155.1 258.3 158.9 254.6 164.5 253.3 165.4 251.6 165.5 248.6 164.8 245.0 161.1 238.3 157.6 236.1 155.5 234.5 151.9 233.0 150.6 228.3 149.9 226.3 150.7 223.8 154.9 220.2 159.5 218.3 163.9 218.6 170.5 218.0 174.5 218.0 179.9 219.6 186.2 219.4 187.5 218.3 189.1 216.0 190.1 214.8 191.2 213.0 194.5 211.3 199.5 208.6 203.2 208.7 209.9 205.1 216.2 204.8 218.5 205.7 221.2 207.0 222.3 210.3 223.2 213.3 223.2 221.6 220.8 225.6 220.3 226.3 218.9 223.8 212.5 222.6 206.5 222.9 204.9 223.6 204.0 225.6 203.2 232.0 203.2 233.4 201.9 234.4 198.2 236.6 196.9 238.0 197.1 239.6 198.5 241.2 205.5 245.8 210.9 247.4 214.2 248.3 217.9 248.3 221.2 247.6 222.5 246.3 223.4 243.6 222.7 241.3 219.5 239.0 217.7 235.6 217.7 233.9 219.2 230.5 231.2 229.8 235.5 228.3 239.5 229.4 244.2 233.0 246.0 234.1 247.9 234.3 250.9 233.4 256.2 232.0 258.7 225.6 260.1 224.4 261.2 224.0 262.5 225.3 268.9 225.3 271.2 223.8 275.5 223.8 278.2 225.0 279.3 229.6 280.4 237.3 284.2 239.2 287.2 242.1 293.9 245.3 305.2 245.1 309.2 243.6 313.5 242.6 314.4 239.6 312.1 235.0 311.4 233.1 309.9 229.6 296.9 227.6 295.3 224.0 293.7 221.7 291.2 221.2 288.5 222.0 286.2 221.8 283.5 219.7 279.5 218.6 275.9 217.3 274.5 214.0 273.5 212.2 271.2 212.2 266.9 216.1 258.5 216.4 253.5 222.8 244.5 223.0 242.2 222.0 240.2 219.0 238.9 213.6 239.2 211.0 238.5 207.5 235.5 204.7 229.2 203.6 228.0 202.3 227.5 194.6 227.4 189.6 224.3 187.3 223.5 183.6 223.5 178.3 224.6 173.6 230.1 164.6 234.5 159.0 232.5 151.6 232.9 148.3 232.1 147.0 231.2 145.4 228.9 144.4 225.5 145.6 223.5 148.3 222.1 157.0 219.1 164.0 218.7 166.6 217.4 174.3 215.1 175.8 214.1 176.4 212.9 175.8 210.2 171.3 207.5 167.2 203.2 166.0 193.2 167.0 190.9 169.0 189.9 172.3 189.9 177.3 191.1 178.4 190.7 178.6 189.5 177.0 185.2 180.2 180.9 181.0 178.9 180.8 177.5 179.3 176.3 174.0 174.5 164.6 174.5 162.3 174.0 160.0 172.5 159.0 170.2 159.9 166.5 161.6 163.5 168.4 159.2 170.4 154.5 171.1 150.9 172.3 149.0 174.3 148.2 177.6 149.0 180.6 153.5 184.3 156.9 185.3 159.2 185.5 164.9 188.3 168.7 190.2 168.7 192.0 164.2 195.0 162.1 196.3 162.0 197.6 162.7 199.8 165.5 199.8 168.2 196.0 179.5 197.1 186.2 194.0 188.5 186.3 190.8 184.4 192.9 185.3 199.5 184.0 205.5 185.0 206.7 186.3 207.3 189.6 207.5 205.0 201.8 205.6 200.5 205.4 197.2 202.1 192.2 202.2 188.9 204.0 187.5 211.3 187.9 212.9 186.9 212.4 185.5 207.6 179.5 206.7 176.5 207.6 173.2 208.8 171.2 214.2 165.9 214.5 162.5 212.0 159.4 206.3 157.1 205.5 155.2 206.2 153.9 210.8 149.9 214.3 143.5 217.0 142.2 222.0 142.4 226.6 139.7 229.6 139.5 239.0 144.1 244.3 145.9 246.0 147.2 248.3 150.5 249.6 151.3 252.6 150.8 255.5 148.9 257.0 144.2 257.6 138.5 256.9 135.9 254.8 132.2 253.3 131.7 247.6 134.2 244.0 134.0 240.3 131.9 237.1 127.9 236.6 124.9 237.2 121.9 238.0 119.9 240.7 117.2 241.0 115.9 240.5 114.5 236.9 110.5 236.3 107.9 236.8 104.9 239.9 99.2 241.8 93.9 242.0 90.5 241.0 87.9 238.9 84.5 234.3 82.1 233.7 80.9 235.3 79.2 239.3 78.2 243.3 78.2 248.6 79.5 250.2 78.9 251.0 76.9 250.8 69.5 252.3 67.3 255.6 65.9 257.0 64.5 258.3 58.2 258.1 55.4 240.4 55.3 239.8 58.9 236.5 65.5 235.8 70.2 235.2 71.2 233.0 72.2 228.3 71.8 222.6 73.9 220.4 72.5 220.0 69.9 221.0 67.5 225.0 65.1 226.1 63.5 226.0 55.9 225.6 55.3 164.0 55.2 163.3 55.9 163.0 62.5 160.3 68.9 161.0 72.9 160.8 75.5 159.0 77.1 156.6 78.0 151.0 78.5 149.1 77.5 148.6 74.9 149.9 67.9 152.7 64.9 153.8 62.5 153.8 55.4 132.3 55.2 131.8 55.6 132.2 58.9 136.6 73.2 135.9 75.2 134.3 77.0 131.6 78.3 129.3 78.5 127.3 77.8 126.6 75.9 131.4 70.2 133.0 66.2 132.5 63.9 129.8 57.9 129.6 55.6 129.0 55.2 118.6 55.2 118.0 56.2 119.0 62.5 120.0 63.6 124.3 64.7 125.4 65.9 126.0 67.9 122.5 76.2 121.5 83.2 120.6 84.5 118.3 85.9 116.3 85.2 112.3 82.7 107.3 82.7 104.8 84.5 102.3 89.2 96.0 95.1 94.0 95.9 89.6 96.1 84.6 97.5 81.6 97.4 75.0 93.9 74.0 91.5 74.0 86.5 73.2 84.9 70.3 82.5 68.3 79.7 62.6 78.4 61.3 77.5 59.2 73.2 56.0 70.5 54.2 66.9 50.9 63.2 50.0 59.5 49.8 55.4Z" fill="#FFFF00" stroke="#000" stroke-width="0.55" stroke-opacity="0.85" fill-rule="evenodd"/><path d="M194.3 272.8 198.0 272.5 203.3 273.5 205.6 274.3 207.0 275.9 207.3 277.9 206.3 282.9 206.4 286.5 209.6 289.9 210.2 291.2 208.5 294.2 206.6 295.6 204.3 295.7 199.6 292.6 193.6 291.1 192.2 289.9 192.0 276.5 193.1 273.9ZM181.9 256.9 183.0 255.7 184.3 255.5 188.3 256.9 190.0 258.2 193.0 262.5 194.3 263.4 197.3 263.8 198.0 264.5 197.9 265.2 191.0 269.7 186.6 270.2 183.6 269.5 181.4 267.5 180.3 264.5ZM106.6 255.1 107.9 255.3 108.6 256.9 108.2 257.9 107.0 258.5 105.6 258.1 105.0 256.9 105.4 255.9ZM238.2 248.2 238.3 249.9 240.0 251.6 242.3 251.7 243.4 250.9 243.4 248.9 242.0 247.5 240.0 247.2ZM122.4 236.7 122.2 237.9 122.8 239.9 124.0 240.8 124.9 240.7 125.6 239.2 125.0 237.5 124.0 236.7ZM96.4 229.5 96.5 231.9 93.4 236.9 91.9 241.2 87.0 246.8 80.6 247.7 78.6 248.5 74.6 251.2 70.6 252.2 65.0 251.7 57.6 248.9 56.0 246.9 55.0 242.5 55.6 238.2 58.3 235.4 63.6 231.9 68.0 231.5 73.6 233.7 75.5 235.9 76.2 240.9 78.3 241.9 79.9 240.9 80.6 238.9 79.0 230.2 79.1 227.9 80.3 226.3 85.0 225.9 94.3 227.8ZM119.3 224.5 121.8 225.9 122.5 229.2 123.4 230.5 132.3 231.1 133.8 231.9 134.3 233.2 134.0 238.9 132.3 247.2 132.4 250.9 127.2 258.2 124.6 259.5 122.0 259.1 117.6 257.1 115.3 253.9 114.0 253.0 109.0 253.5 108.0 251.5 108.4 249.5 111.6 247.2 113.2 244.5 113.7 235.9 115.3 234.9 119.0 235.5 121.1 234.9 120.6 232.6 116.3 230.7 115.0 228.5 115.2 227.2 116.3 225.9ZM295.6 201.7 297.0 202.5 297.6 205.2 297.4 206.9 296.3 207.6 294.6 207.1 293.3 205.2 294.1 202.9ZM199.6 188.4 198.0 188.3 193.0 190.3 188.0 191.1 186.4 192.0 185.6 193.9 186.0 200.5 185.2 203.9 186.0 205.7 187.3 206.2 191.3 206.0 196.3 202.9 199.3 202.3 202.2 200.5 203.0 198.5 202.8 196.9 200.8 192.9ZM252.5 184.2 253.3 183.3 258.6 181.9 263.3 181.9 271.0 180.5 281.6 180.9 289.3 185.0 293.0 190.2 293.5 192.2 292.0 193.5 286.3 193.2 278.6 195.2 274.3 195.0 267.6 200.7 265.3 201.7 263.3 201.9 261.4 200.5 259.6 196.2 256.0 191.2 254.6 187.5ZM156.0 135.2 157.3 133.9 161.6 132.5 165.3 130.4 169.0 130.7 171.0 132.2 173.6 136.4 179.0 138.7 180.2 140.5 180.2 141.9 179.3 143.2 178.0 143.9 166.3 141.2 159.6 142.7 158.2 141.5ZM107.1 125.7 107.0 126.9 107.6 127.7 109.4 127.5 109.0 125.9ZM70.0 125.9 71.0 126.9 70.7 128.9 67.4 132.2 65.0 136.5 63.3 137.4 61.0 136.7 59.1 133.9 58.3 129.5 59.6 126.2 62.6 124.5ZM42.0 99.2 41.3 99.9 41.3 159.5 41.7 160.1 47.3 161.5 48.6 161.1 49.6 159.9 51.2 155.2 55.2 147.9 59.6 143.8 62.3 142.3 65.0 141.5 67.0 142.0 72.3 145.4 75.6 148.6 78.3 148.9 79.6 148.4 79.8 146.5 77.2 142.9 77.1 141.9 79.0 138.2 79.3 131.5 80.3 126.5 79.6 125.5 73.3 123.4 71.0 119.9 69.6 118.9 64.3 117.0 63.3 115.9 61.3 111.0 52.3 106.4 48.6 101.3ZM266.6 97.8 268.3 99.2 269.3 103.2 268.7 106.5 267.0 107.9 265.7 107.2 265.1 105.2 265.4 99.2ZM105.8 86.2 106.6 87.4 114.3 88.9 116.0 88.5 116.8 87.5 113.6 84.3 110.6 83.2 107.3 84.0ZM210.3 82.4 220.0 86.6 224.3 89.8 229.6 91.0 231.3 92.2 232.4 94.2 233.0 98.9 231.1 108.2 230.2 110.5 228.3 113.2 223.8 117.2 222.0 121.9 217.0 124.7 215.5 126.2 213.5 131.9 213.2 135.2 212.2 136.7 210.3 137.5 204.6 137.2 201.6 137.7 199.6 138.9 195.6 142.9 194.5 144.9 195.2 149.9 194.8 152.9 194.0 154.1 193.0 154.2 192.1 153.2 192.0 150.9 193.5 143.9 192.5 142.2 187.6 137.9 187.1 131.2 184.8 126.2 180.6 122.9 179.5 121.2 179.0 113.2 177.6 105.2 177.8 103.5 179.6 101.0 183.6 99.5 190.0 100.5 196.0 100.5 201.0 102.6 203.0 102.1 203.4 100.6 200.7 99.4 199.6 96.9 199.8 85.9 201.3 84.1 205.6 82.1ZM304.6 55.2 299.2 55.4 299.0 60.2 297.8 63.9 296.3 65.1 292.6 66.5 289.6 69.4 285.6 71.3 284.0 75.2 283.0 76.5 278.3 77.9 277.5 79.2 277.2 82.5 276.0 84.5 271.3 86.0 269.0 89.2 266.3 91.1 258.6 92.9 257.4 93.9 257.0 95.2 258.2 101.9 258.3 111.9 257.7 113.9 254.4 118.9 254.0 120.9 254.6 123.2 256.5 125.2 258.3 128.4 263.3 130.3 269.6 133.8 282.3 135.8 288.6 138.0 289.8 139.9 291.3 145.9 290.4 153.5 288.8 157.2 285.3 160.1 279.6 160.2 276.6 159.0 272.3 155.0 266.3 154.5 263.3 155.7 260.8 158.2 259.4 162.9 256.4 166.9 255.6 174.5 254.9 176.9 251.8 182.9 250.0 183.5 247.3 183.1 246.0 182.2 244.2 175.9 240.4 171.5 240.0 170.5 241.6 169.2 244.3 169.9 249.6 169.6 250.9 169.1 251.1 168.0 238.3 162.8 235.3 161.0 232.6 158.2 231.2 152.6 229.0 151.5 227.3 152.0 225.2 155.9 222.1 159.5 221.2 162.2 221.4 162.8 222.3 162.9 226.3 160.9 228.3 161.0 229.6 161.9 230.5 171.9 229.6 173.1 227.6 173.8 221.3 172.2 219.7 173.5 219.0 179.5 221.0 186.2 220.7 190.5 219.2 193.5 215.6 195.3 214.4 196.9 211.1 203.9 210.7 210.2 207.8 216.2 207.6 218.2 208.4 220.2 210.0 221.5 214.3 221.9 218.6 221.0 223.7 218.5 223.7 216.9 220.9 207.2 220.8 204.9 223.6 201.9 226.3 201.2 229.6 201.5 231.4 200.5 231.4 196.9 228.0 195.6 227.1 194.5 228.8 186.9 229.6 185.5 230.6 185.1 231.8 186.5 232.3 192.5 233.0 194.5 238.3 195.1 240.0 196.2 241.4 198.9 243.4 205.9 246.0 208.3 250.8 211.5 252.4 215.5 256.0 217.9 257.0 219.9 254.8 225.5 252.6 226.9 243.3 224.5 241.6 223.2 239.3 220.0 238.0 219.5 236.4 219.8 235.2 221.5 232.5 230.9 232.3 233.2 233.0 235.1 234.3 235.5 237.0 235.3 240.6 233.7 245.6 229.9 248.0 229.2 251.0 229.6 256.3 232.7 264.6 234.5 266.0 234.4 267.4 232.5 267.8 228.2 268.8 225.9 270.6 224.1 272.6 223.8 275.3 225.1 282.3 230.9 283.2 232.2 283.8 237.2 284.7 238.7 286.6 239.6 290.0 240.1 291.3 241.2 291.2 242.2 289.3 243.9 281.0 245.4 275.6 248.6 274.3 251.2 274.1 259.2 272.4 262.9 269.6 265.5 262.0 268.4 257.0 268.9 246.6 267.2 234.6 269.1 232.6 268.5 231.4 267.5 229.6 261.8 228.0 261.5 225.8 262.5 225.6 265.2 226.3 270.5 225.3 275.2 225.7 277.9 238.3 283.0 240.1 284.9 241.8 288.2 246.6 304.9 246.6 308.2 244.6 316.5 244.6 318.5 245.3 319.2 304.6 319.2 305.3 318.5 305.3 231.5 304.9 230.9 303.6 231.1 295.6 234.7 291.6 234.7 289.6 232.9 287.6 226.2 287.8 224.5 289.3 223.4 294.3 223.5 304.9 220.5 305.3 219.9 305.2 201.3 299.3 200.3 297.8 198.9 298.4 197.5 299.6 196.7 305.2 196.1 305.2 177.3 304.3 176.9 300.0 177.9 298.0 177.7 292.6 175.9 291.4 174.9 291.0 173.5 291.6 170.2 295.3 163.9 297.3 162.7 304.6 162.2 305.3 161.5 305.3 55.9ZM134.4 55.3 134.0 55.9 134.5 58.5 136.7 64.9 138.0 71.9 137.4 75.2 134.3 78.3 131.6 79.7 124.4 79.6 123.3 83.2 120.1 87.2 119.7 88.5 121.0 93.9 120.8 97.9 122.3 100.3 129.0 104.7 135.3 104.2 136.6 104.7 138.0 106.2 140.0 116.2 139.4 122.2 137.6 124.7 135.3 124.4 134.4 122.2 135.8 116.9 134.3 115.2 131.6 114.5 128.3 115.7 124.3 119.4 118.6 118.9 117.8 120.2 116.2 126.5 116.0 132.2 114.9 135.5 113.6 137.5 110.3 139.9 108.0 142.8 104.3 144.7 103.7 145.9 106.2 150.5 107.4 155.9 109.6 157.6 113.0 158.4 115.0 156.9 115.0 153.2 116.0 151.3 121.0 150.0 127.9 147.1 130.0 137.2 131.3 135.2 133.6 133.6 136.0 132.9 143.0 134.7 145.6 136.1 149.6 139.6 150.4 140.9 150.0 141.9 146.0 145.3 142.4 147.3 140.6 150.2 139.3 151.1 135.6 151.8 134.4 152.9 132.5 156.9 128.9 160.9 128.6 166.2 130.0 168.4 138.6 166.9 141.0 167.5 143.6 169.5 146.8 173.9 147.5 180.9 150.4 185.5 152.2 190.2 152.2 193.2 147.1 203.2 143.3 207.3 136.0 206.9 129.6 204.7 128.1 202.5 126.8 197.2 124.9 192.2 124.3 187.9 125.0 181.5 126.8 175.2 126.8 173.3 119.3 170.7 115.6 167.1 112.0 165.2 108.6 161.2 104.6 158.3 102.0 158.3 95.3 161.2 93.0 160.5 91.3 157.9 91.5 153.9 92.8 150.9 92.6 150.1 92.0 150.0 90.8 150.9 89.7 152.9 89.0 157.2 91.0 165.9 92.3 176.9 91.5 179.2 85.8 186.2 85.4 189.2 87.2 193.2 93.0 202.1 96.3 204.0 99.3 204.1 100.4 203.2 103.0 199.2 107.9 196.2 108.3 193.9 106.6 188.2 107.1 186.2 109.6 184.8 112.6 184.9 117.6 187.9 118.8 189.5 119.6 193.2 120.5 206.5 119.0 207.9 115.0 207.5 112.6 208.1 107.0 210.6 102.0 213.7 95.0 213.2 88.6 214.4 86.0 216.2 83.1 221.5 81.0 223.5 73.6 225.1 68.6 227.7 66.0 228.1 54.6 225.9 52.8 224.5 51.0 221.5 50.0 217.9 50.0 211.9 51.2 206.5 48.9 199.9 48.6 196.9 50.8 190.2 53.1 187.9 55.3 184.3 57.3 184.1 59.2 185.5 61.2 190.5 66.6 193.4 67.6 194.5 68.0 197.9 66.8 201.9 67.6 203.5 71.6 206.3 74.6 207.1 77.6 206.7 79.8 205.2 80.3 203.9 80.2 198.2 82.7 193.2 82.9 191.6 81.6 190.9 76.3 192.1 74.4 191.5 73.5 189.9 73.1 185.2 70.8 181.2 71.1 179.9 74.2 176.9 77.4 167.5 78.0 163.9 76.9 158.5 76.0 157.3 74.3 156.6 66.3 156.5 61.3 158.3 56.8 161.2 51.6 172.8 47.3 175.0 41.5 175.4 41.4 284.7 43.0 284.6 44.3 283.5 46.4 278.9 48.3 276.7 53.0 275.1 56.0 272.0 60.0 270.5 63.3 266.9 69.2 265.7 70.4 261.9 73.5 260.1 74.7 256.5 77.0 254.0 80.0 252.7 83.3 252.6 84.9 253.9 85.6 255.9 84.1 261.9 80.3 270.9 80.7 271.8 83.5 274.2 84.0 275.5 81.2 284.2 80.3 285.5 77.1 287.5 75.3 290.9 71.4 293.3 69.0 299.5 67.6 300.3 63.0 301.3 60.3 304.2 55.7 307.2 53.0 311.5 50.4 314.5 51.2 318.5 52.0 319.2 105.2 319.1 105.6 317.2 103.3 308.9 106.9 297.2 108.6 295.3 112.0 294.3 113.6 292.9 117.1 287.9 124.6 279.5 129.6 272.9 131.6 271.7 133.6 271.5 136.0 272.2 138.0 273.5 141.3 278.2 146.3 281.5 149.0 286.1 153.7 288.5 153.8 290.2 151.6 294.5 150.7 297.9 152.3 307.5 152.0 308.9 150.6 311.0 149.3 311.6 146.0 311.9 143.0 311.4 141.0 309.9 139.6 306.5 138.3 305.0 135.3 303.9 131.0 304.1 128.8 305.5 126.3 310.2 121.4 313.9 120.6 316.2 120.7 319.1 178.6 319.2 179.2 318.8 180.0 315.9 181.6 313.9 185.6 313.7 187.2 312.5 187.6 311.2 187.3 307.2 188.3 305.3 192.6 303.9 195.6 301.7 200.6 300.9 203.6 301.5 206.0 303.9 206.3 309.2 207.8 313.9 208.4 319.1 240.9 319.1 241.3 318.5 240.8 316.2 239.3 313.5 238.0 312.7 234.3 312.2 232.4 310.2 229.2 297.9 227.3 296.3 223.0 294.7 221.2 292.9 219.4 289.5 219.3 284.5 218.6 281.9 216.8 278.9 212.6 275.2 210.8 271.9 210.6 268.2 212.7 262.2 215.2 258.2 215.4 253.5 221.2 244.5 221.3 242.9 220.6 241.6 219.0 240.9 213.3 241.0 207.3 237.2 203.4 231.2 201.6 229.6 194.3 229.1 186.6 225.3 183.0 224.9 180.0 226.0 176.3 229.9 165.3 237.7 160.3 242.0 158.3 243.1 156.3 243.1 154.8 241.9 154.3 240.5 155.4 236.5 155.2 235.6 148.6 234.1 146.6 232.9 143.0 227.2 142.5 224.5 144.6 222.3 152.6 219.2 157.0 216.7 163.3 216.2 169.6 214.7 173.6 213.3 174.6 212.2 174.0 210.8 168.6 208.9 167.4 207.5 166.0 202.5 165.1 195.5 163.8 192.5 161.6 190.2 161.3 188.9 161.8 187.5 163.3 185.9 166.6 183.8 167.8 184.3 169.2 187.2 170.3 188.1 172.6 188.9 174.9 188.7 175.2 184.2 178.0 180.2 178.1 177.9 176.3 176.3 172.3 175.2 162.3 175.3 159.3 173.5 158.0 170.5 159.0 166.5 161.0 163.2 167.8 158.9 169.4 155.2 170.2 150.5 172.3 147.4 175.0 146.5 177.3 147.1 179.0 148.5 181.4 153.2 185.0 155.9 185.9 157.2 186.8 162.9 188.0 164.3 189.3 164.3 192.6 161.4 195.0 160.5 198.3 161.2 201.0 163.9 202.2 165.9 202.2 167.5 199.7 171.5 196.8 179.9 197.4 182.5 199.6 185.2 201.0 185.9 203.3 185.9 206.4 184.8 206.5 183.5 204.6 178.5 204.8 176.5 207.2 171.5 211.8 166.2 212.6 164.2 212.4 162.2 211.3 161.0 206.0 159.3 204.3 158.2 203.6 156.9 203.8 154.9 205.3 152.5 208.8 148.9 210.4 145.5 214.0 142.1 216.6 140.7 226.0 138.5 234.0 137.3 236.0 138.2 240.6 143.0 246.3 145.3 250.0 149.3 251.3 149.4 252.8 148.2 256.0 141.5 256.3 139.2 255.5 136.9 253.6 135.7 251.0 135.1 246.3 135.1 242.6 134.1 238.3 131.1 236.4 128.5 236.0 125.2 236.6 121.9 240.0 115.9 239.5 114.5 235.7 110.9 235.0 105.5 235.7 102.9 240.2 93.9 240.8 91.2 239.0 87.2 236.6 85.3 232.3 83.5 231.6 81.2 233.0 78.7 238.6 76.9 242.0 76.9 248.3 78.7 249.6 78.4 250.3 76.5 250.1 69.2 251.3 67.3 255.6 65.1 256.6 63.9 257.6 58.5 257.6 55.4 241.4 55.3 240.4 59.9 237.4 65.9 236.2 71.9 233.3 73.2 228.0 72.7 224.6 74.6 222.3 75.1 220.6 74.2 219.6 72.9 219.3 69.5 220.4 67.2 224.3 64.5 225.2 63.2 225.0 55.9 224.6 55.3 164.7 55.3 163.8 63.2 161.3 68.2 161.5 71.2 163.1 75.1 165.3 75.5 169.0 74.9 174.6 75.0 183.3 70.6 185.6 70.3 187.4 71.9 189.0 78.2 192.2 81.5 192.6 82.9 191.9 84.5 188.8 87.9 187.1 90.9 184.6 92.9 181.0 93.2 177.0 92.6 170.6 94.7 167.6 94.9 165.3 94.0 162.5 90.9 163.0 85.5 162.4 81.2 161.3 78.9 160.3 78.5 158.0 78.8 153.4 80.9 152.3 84.5 152.3 90.2 153.4 93.2 155.0 95.5 158.6 97.5 161.3 102.1 166.0 103.6 167.2 104.5 167.6 105.9 167.3 111.2 165.5 117.2 161.6 120.6 158.3 121.2 156.0 120.5 151.0 117.4 145.3 116.2 143.8 114.9 143.3 113.5 145.0 105.5 144.6 97.9 146.0 89.9 145.6 87.2 143.4 84.2 143.3 81.9 143.9 79.9 146.8 75.9 148.7 66.9 151.6 63.9 152.8 61.9 152.9 55.6 152.3 55.2ZM119.4 55.3 119.0 55.9 119.3 59.5 120.0 61.9 121.3 62.7 124.6 63.5 126.6 65.5 127.0 68.5 126.0 72.5 127.0 72.5 129.5 70.2 130.4 67.5 130.1 64.9 127.8 59.2 127.2 55.6 126.6 55.2ZM41.5 55.4 41.5 81.7 45.9 83.3 48.6 87.9 54.6 91.5 57.6 97.1 61.0 98.6 63.3 102.1 67.3 103.3 71.3 110.5 75.6 113.0 78.0 115.1 88.0 117.2 92.6 116.9 96.0 115.2 98.8 111.5 98.8 105.2 103.1 94.5 103.0 91.9 102.3 91.5 100.3 92.4 95.3 96.7 89.6 96.9 84.0 98.2 81.6 98.1 75.6 95.3 73.4 92.5 73.3 86.9 72.6 85.2 70.0 83.2 67.6 80.1 62.6 79.1 60.6 77.9 58.6 73.5 55.6 71.2 53.6 67.2 50.8 64.2 49.6 61.2 49.1 55.4Z" fill="#FF8000" stroke="#000" stroke-width="0.55" stroke-opacity="0.85" fill-rule="evenodd"/><path d="M253.7 290.5 257.6 288.4 259.2 288.4 260.3 291.5 261.6 293.4 266.2 295.2 266.6 296.2 265.8 298.2 264.6 298.2 262.0 295.5 257.6 294.3 254.0 291.8ZM210.6 279.1 209.2 281.9 209.0 284.2 212.3 289.5 212.4 291.5 211.3 293.5 206.6 297.9 206.0 299.2 208.8 304.5 208.0 310.9 209.2 319.0 239.4 319.0 239.4 316.5 238.5 314.5 237.3 313.7 233.3 312.9 231.7 311.2 228.3 298.5 226.6 297.2 222.3 295.7 220.2 293.2 217.8 288.9 217.1 282.9 216.2 280.9 213.0 279.1ZM305.1 242.1 300.6 241.2 297.0 241.4 292.3 244.7 289.0 246.4 282.6 247.2 280.3 248.0 278.2 250.2 277.4 256.5 274.0 263.2 270.0 266.5 261.0 269.7 256.6 269.9 247.3 268.5 243.0 269.9 238.3 269.5 234.3 270.2 231.6 269.5 228.3 267.3 227.6 267.6 226.6 274.9 227.1 277.1 233.6 280.3 240.6 282.1 242.2 283.5 243.1 285.5 245.6 297.5 248.0 304.9 248.0 308.2 246.0 317.2 246.2 319.0 278.2 319.1 278.4 318.2 277.8 316.9 274.0 313.9 272.7 312.2 269.5 305.9 269.7 304.9 270.3 304.7 271.9 305.3 273.7 308.2 276.6 309.9 279.3 313.5 281.0 313.9 284.6 312.9 288.3 313.3 289.4 314.9 289.7 319.1 305.1 319.0ZM70.7 229.7 71.3 231.1 76.3 234.2 77.2 235.5 77.6 238.2 78.4 238.5 78.3 234.2 76.5 228.5 75.3 227.9 73.6 228.1ZM245.2 227.2 241.6 225.4 238.3 224.7 237.3 225.5 235.6 229.9 235.8 231.9 237.3 232.9 239.6 232.6 244.6 228.8ZM304.9 202.5 301.6 202.2 300.4 202.7 300.0 208.2 298.3 210.7 295.0 212.4 291.0 212.7 289.2 213.9 287.2 217.9 287.0 219.2 287.6 220.5 290.0 221.7 294.3 222.2 305.1 219.0 305.3 203.2ZM41.7 199.3 41.3 199.9 41.3 283.2 42.0 283.8 43.8 282.5 45.7 277.9 47.3 276.0 52.6 274.1 55.6 271.0 59.0 269.7 62.6 266.1 67.9 264.8 69.0 256.9 68.0 255.0 61.3 251.5 57.0 250.3 55.0 247.9 53.6 242.2 54.2 238.2 55.3 236.2 59.6 232.5 60.5 230.5 59.0 228.9 54.0 228.0 51.8 226.5 49.8 221.9 49.0 217.5 49.0 211.9 49.9 207.5 49.5 205.5 47.6 202.5 45.3 200.3ZM223.0 196.3 221.6 196.1 218.0 197.7 213.4 202.9 212.4 211.2 209.7 217.5 210.0 218.9 211.3 220.3 217.0 220.3 219.3 219.5 221.1 217.9 221.0 215.2 218.5 207.5 218.3 205.5 219.3 203.5 224.0 199.2 224.2 198.2ZM293.9 196.3 288.3 194.5 285.0 194.5 275.3 196.5 273.3 197.5 270.6 200.3 265.0 203.7 264.0 205.5 264.6 208.5 264.4 212.2 261.6 218.9 257.8 224.5 257.3 226.5 257.7 229.2 262.6 232.2 265.3 232.3 266.1 231.2 266.8 226.5 268.5 223.5 270.6 222.1 273.6 222.3 283.3 228.9 284.4 230.9 285.5 236.2 286.6 236.9 288.2 236.5 288.6 235.5 287.4 230.5 285.0 224.9 286.3 211.9 286.3 206.2 287.1 202.9 293.3 199.2 294.2 197.9ZM187.2 193.2 186.6 203.5 187.3 204.6 191.6 204.5 196.0 200.9 199.0 200.4 200.6 199.2 201.0 197.9 200.6 196.5 198.3 194.1 190.3 191.9 188.3 192.2ZM304.9 178.3 295.0 180.1 291.5 182.2 291.3 183.9 292.0 185.9 297.6 194.3 302.3 195.2 305.2 194.8 305.3 178.9ZM222.3 177.7 220.9 178.9 220.6 180.5 222.1 185.2 222.8 191.2 224.0 192.1 225.8 190.2 228.0 180.9 227.5 179.5 226.3 178.5ZM173.0 176.5 170.6 177.1 169.6 178.5 171.1 185.5 172.3 186.8 173.1 186.5 174.0 182.9 176.1 179.2 175.3 177.3ZM235.0 174.3 232.6 177.2 232.1 179.5 235.4 190.2 236.6 191.3 240.0 192.1 241.6 193.2 244.5 203.2 246.6 206.7 253.6 209.3 255.6 209.5 257.0 209.1 259.6 206.5 261.0 204.2 259.4 198.5 258.1 195.9 251.0 188.4 244.7 185.5 243.5 183.5 243.2 177.9 242.0 175.9 238.3 174.0 236.3 173.8ZM203.3 171.3 202.0 171.3 201.0 172.2 198.2 178.9 198.2 181.2 200.0 182.4 201.6 182.5 202.5 181.5 202.6 176.5 204.0 172.2ZM92.0 162.6 91.6 163.5 92.0 167.5 93.6 176.5 92.6 180.2 88.3 187.2 89.2 192.5 90.4 195.2 95.3 201.5 97.3 202.7 98.6 202.7 102.0 198.2 105.6 196.1 106.6 194.9 106.2 192.2 102.5 187.2 102.3 185.2 103.0 182.9 105.6 183.5 113.3 183.2 117.3 184.2 119.2 185.9 120.4 188.9 122.6 202.2 122.7 208.2 122.2 209.5 121.0 210.4 115.6 210.0 111.6 212.3 106.6 212.7 102.6 215.1 95.3 214.5 90.6 215.9 88.4 217.5 87.3 220.5 87.4 222.9 88.3 224.2 90.6 225.7 95.0 226.5 97.6 227.7 99.0 229.2 99.3 230.9 98.5 232.9 95.4 237.2 93.0 245.2 89.1 250.5 89.3 255.2 87.0 265.2 87.6 271.5 86.5 275.9 83.2 281.2 81.9 285.2 78.1 288.2 76.0 291.7 72.1 294.2 69.9 300.2 68.0 301.3 63.6 302.1 61.3 304.9 56.2 308.2 51.7 314.9 52.4 318.8 53.0 319.2 104.2 319.1 104.1 316.2 102.0 308.9 106.1 293.9 107.6 292.3 112.3 290.0 116.3 286.5 118.2 283.9 121.0 278.3 126.0 274.5 129.6 271.0 131.6 270.2 133.6 270.2 137.3 271.3 140.6 273.7 143.6 277.2 146.9 279.9 150.3 284.7 154.0 285.4 159.0 287.9 160.6 287.2 161.6 284.9 162.6 284.1 166.0 286.1 172.3 286.9 174.4 289.2 174.5 293.5 171.6 297.2 169.5 303.5 169.0 306.5 167.3 308.5 164.6 308.9 163.0 308.1 158.1 298.2 156.3 297.0 155.0 297.0 153.7 297.9 152.8 299.5 152.6 301.2 153.6 307.9 153.0 310.2 151.6 312.0 148.3 313.2 142.3 312.7 140.1 311.2 138.7 307.9 137.3 306.3 136.0 305.9 131.3 306.0 129.8 306.9 127.0 311.5 122.6 314.5 121.8 319.0 177.6 319.1 179.0 314.5 182.9 309.5 183.0 306.2 182.3 302.9 182.8 301.6 185.0 300.9 190.0 300.9 197.6 299.0 199.5 297.5 199.3 296.2 197.6 294.1 195.6 293.0 192.0 292.3 190.6 290.9 190.3 288.9 191.0 284.2 189.6 277.9 189.7 273.2 189.0 272.5 182.0 270.1 178.0 265.2 177.8 263.5 179.2 260.5 180.6 254.2 181.6 252.9 183.0 252.7 192.6 257.5 196.3 258.5 202.6 261.7 203.7 262.9 203.8 263.9 200.5 267.9 200.1 269.9 201.0 270.9 203.3 272.0 207.0 272.1 207.8 271.2 208.6 267.5 213.8 257.9 213.6 252.5 218.1 247.5 219.4 244.9 219.4 243.6 218.3 243.0 213.6 243.2 212.3 242.7 205.6 237.5 202.2 232.9 200.3 231.5 194.3 231.0 188.6 228.1 183.0 226.9 181.0 227.9 177.3 232.1 172.6 235.1 165.2 241.5 162.4 247.2 159.6 249.5 158.5 251.5 158.2 254.5 159.2 258.2 158.6 259.2 150.3 258.9 147.3 257.7 146.2 256.2 148.9 253.2 149.6 251.2 149.3 249.9 147.3 247.8 143.0 247.0 140.6 247.6 139.2 248.9 138.8 251.2 140.2 254.9 139.0 256.1 131.6 257.7 126.0 260.7 123.6 260.9 118.6 259.6 113.3 262.6 108.3 263.4 106.3 262.8 101.6 257.9 100.5 255.2 103.6 251.5 105.8 246.2 106.5 240.2 108.4 234.9 112.2 230.9 113.3 227.5 114.6 225.5 118.6 223.3 121.0 223.2 123.0 223.9 124.1 224.9 125.2 227.5 126.3 228.6 135.0 230.3 135.8 231.5 136.4 236.2 141.3 242.1 143.3 242.9 147.3 242.1 148.9 240.5 149.4 237.9 144.5 232.5 140.9 226.9 140.4 225.2 140.9 222.9 142.6 221.2 156.6 214.7 162.0 214.5 164.9 213.3 165.6 211.9 165.0 208.2 165.0 199.2 163.5 195.3 160.0 193.1 157.3 190.6 156.0 190.2 154.4 191.9 152.5 196.5 150.4 206.5 148.6 209.0 147.0 209.7 144.3 209.9 138.6 208.5 132.0 208.5 129.0 207.9 126.4 204.9 123.3 191.9 123.3 179.5 124.0 175.9 123.5 174.5 115.3 168.8 111.0 167.4 106.0 161.9 103.6 160.3 101.0 160.4 95.3 162.5ZM66.0 158.5 57.6 163.5 55.7 166.9 53.3 174.2 47.3 177.9 41.5 179.1 41.3 189.9 41.7 190.4 45.6 189.0 53.3 182.5 58.0 182.4 60.8 184.2 61.8 188.9 62.6 190.1 69.2 192.9 70.0 199.9 71.0 201.0 72.6 201.2 74.7 199.5 75.3 197.5 75.0 196.2 70.5 191.9 70.0 186.9 68.8 184.2 67.0 182.3 64.0 181.1 63.4 180.2 65.0 178.4 72.0 176.7 73.2 175.9 76.4 168.2 77.0 162.9 76.3 160.2 75.0 158.9ZM228.6 153.9 227.7 154.5 227.1 156.5 227.4 157.5 228.3 157.9 229.2 157.5 229.8 156.2 229.4 154.3ZM170.6 144.9 169.0 143.5 166.3 142.9 160.0 144.9 157.3 144.7 154.0 143.5 148.3 145.2 141.3 151.3 135.4 153.9 130.8 161.9 130.9 165.5 132.6 166.5 139.3 165.9 141.6 166.6 147.2 171.9 149.2 176.9 150.6 178.5 153.0 180.1 158.6 181.9 160.0 181.5 161.0 180.5 161.2 179.2 157.2 172.2 157.5 168.2 160.4 162.5 163.0 160.6 166.3 159.1 167.6 157.5 170.7 146.2ZM212.9 139.5 209.6 138.9 205.3 139.0 200.6 140.9 198.6 142.5 197.3 145.2 197.3 154.5 198.3 156.8 200.0 157.4 201.1 156.5 203.6 152.5 206.8 148.9 208.7 144.2 213.0 140.2ZM75.0 126.5 73.6 126.9 71.6 129.9 68.8 132.5 67.6 135.5 67.8 138.5 68.8 140.5 70.3 142.0 72.3 142.9 73.8 142.2 75.1 139.9 77.2 137.9 78.0 135.9 77.7 128.9 77.0 127.5ZM62.8 120.2 63.0 121.5 64.6 122.8 68.0 123.9 69.5 123.2 69.4 121.2 68.0 119.9 65.0 119.2ZM42.0 118.9 41.3 119.5 41.3 157.5 41.7 158.1 47.3 159.2 48.7 158.2 53.5 146.5 59.3 141.2 60.2 139.2 57.8 134.2 56.4 126.5 55.3 124.5 50.6 120.9 46.3 119.5ZM232.6 109.4 229.0 114.2 225.8 117.2 224.5 121.9 223.6 123.2 218.3 125.7 217.0 127.2 215.6 132.5 216.4 136.5 218.0 137.7 222.3 137.9 228.3 136.9 234.0 135.2 235.6 135.3 237.6 136.5 242.0 142.1 249.3 145.1 250.3 145.0 251.9 143.2 252.5 141.2 252.2 139.9 250.8 137.9 248.6 136.3 244.3 135.7 241.3 134.5 237.3 131.5 235.7 129.2 235.3 127.9 235.6 123.2 238.9 115.9 235.3 112.2 233.8 109.9ZM109.8 85.3 110.0 86.1 111.0 86.7 113.4 86.7 113.2 85.9 112.0 85.0ZM159.0 81.3 157.3 81.3 156.1 82.2 153.9 86.9 153.8 90.9 154.5 92.1 156.0 93.1 157.6 93.1 158.8 92.2 160.4 88.2 160.4 83.2ZM304.9 80.6 300.0 80.5 297.3 81.1 294.1 82.9 292.5 86.2 289.5 88.9 287.2 93.9 283.3 96.2 281.0 100.1 278.0 100.9 276.3 102.2 275.0 105.9 274.9 111.2 273.6 112.5 267.0 112.2 264.4 110.9 263.1 108.5 262.6 106.2 263.6 94.9 262.0 93.8 259.6 94.0 258.6 94.9 258.3 96.5 259.6 101.5 259.3 106.2 260.0 110.5 259.4 113.5 257.0 119.9 258.9 126.9 260.0 127.9 268.6 132.1 272.0 133.2 274.3 133.2 276.6 132.4 280.0 126.9 281.0 126.1 281.9 126.1 282.4 127.5 281.3 131.9 281.6 132.9 283.6 134.8 288.3 136.2 290.2 137.9 292.4 144.9 292.6 148.2 290.3 156.5 287.6 160.5 286.0 161.9 278.0 160.7 276.0 159.7 273.0 157.1 270.6 156.1 267.0 155.5 263.3 157.2 262.0 159.5 262.5 164.5 257.8 171.9 256.6 178.5 257.6 180.1 265.0 180.5 270.3 179.5 277.3 179.9 284.3 179.0 286.1 177.9 288.7 171.9 294.0 163.3 298.0 161.5 304.6 161.5 305.2 161.1 305.2 117.6 293.6 114.4 292.2 113.5 294.2 110.9 295.4 107.2 299.0 103.9 299.7 98.5 301.0 97.9 304.6 98.2 305.2 97.8 305.3 81.2ZM256.9 55.6 256.3 55.2 242.4 55.3 241.8 59.2 238.4 66.2 237.8 71.5 236.6 73.5 234.3 74.5 228.6 73.9 224.3 76.1 221.3 76.2 220.0 75.5 219.0 74.2 218.3 69.9 219.6 66.9 223.0 64.3 224.2 62.5 223.6 55.3 172.6 55.2 170.6 56.5 168.6 55.3 165.7 55.3 164.7 62.9 162.3 68.5 162.4 70.2 163.7 72.2 165.6 73.4 173.3 74.2 175.3 73.6 179.0 70.9 184.6 69.0 187.0 69.5 188.8 71.9 190.0 77.5 194.0 81.2 194.2 82.5 193.7 84.5 188.6 90.5 185.0 93.8 182.3 94.5 176.0 93.5 169.6 96.0 162.1 97.3 161.6 99.5 162.4 101.2 167.3 103.0 168.6 105.2 168.3 111.5 167.4 115.9 165.6 118.9 163.0 121.1 161.0 122.1 157.6 122.2 150.0 118.1 143.0 117.3 141.6 118.5 139.9 124.5 138.0 126.2 136.6 126.5 134.6 125.5 133.4 123.9 134.3 117.2 133.3 116.1 131.3 115.6 128.6 116.9 125.3 120.5 121.0 122.3 118.5 125.9 117.1 133.5 115.9 136.5 114.3 138.9 106.9 146.2 107.1 148.2 108.4 150.9 109.6 152.1 111.0 152.5 115.3 150.0 119.6 149.3 121.6 148.4 126.8 143.9 129.4 135.9 131.3 133.9 134.3 131.9 137.0 131.7 145.0 134.6 149.0 137.1 151.3 137.2 152.5 136.5 155.0 132.3 161.3 130.8 164.3 128.3 165.6 127.9 171.6 130.9 174.6 135.4 179.3 137.2 180.8 138.5 181.5 139.9 181.6 142.2 180.1 145.9 180.1 147.2 182.4 152.5 184.0 153.3 185.3 153.3 186.0 152.5 187.6 148.2 190.0 144.9 190.5 142.9 186.2 138.2 186.3 132.9 184.9 128.5 183.0 125.9 179.4 123.5 178.5 121.9 176.3 104.5 177.4 101.2 180.0 99.1 183.3 98.3 191.6 98.9 197.6 98.1 198.2 97.2 198.6 94.2 198.6 84.9 200.6 82.9 205.0 81.1 208.0 80.9 210.6 81.4 219.3 84.9 227.0 85.9 229.0 84.9 230.2 80.5 231.4 78.2 235.0 76.1 237.3 75.5 242.0 75.5 247.0 77.3 248.8 77.3 249.3 76.2 249.0 70.5 249.5 68.2 251.3 66.0 254.3 64.9 256.0 63.2ZM150.3 55.2 141.2 55.4 140.3 62.2 140.8 71.2 140.4 74.2 137.6 77.2 132.0 81.7 127.3 83.5 122.4 87.2 121.8 88.9 122.0 96.9 123.0 99.2 128.3 103.4 130.6 103.6 135.6 102.9 138.0 103.7 139.4 105.9 140.6 110.2 141.6 111.1 142.6 109.9 144.0 105.2 143.6 99.2 144.3 92.2 141.2 85.5 141.3 80.2 142.1 77.5 144.9 75.5 146.1 73.2 147.1 66.9 150.7 60.2 151.0 55.9ZM41.5 55.4 41.5 80.4 47.0 82.3 49.6 86.9 55.6 90.5 58.6 95.8 62.3 97.6 64.3 100.7 68.6 102.5 71.0 107.9 72.6 109.7 76.6 111.3 80.6 114.3 89.6 116.2 93.3 115.1 97.5 109.9 97.8 105.2 100.8 98.5 101.6 95.2 101.4 93.9 100.3 94.0 96.6 97.5 94.6 98.2 90.0 97.5 82.0 98.9 74.6 95.7 72.8 93.5 72.3 91.2 72.6 87.9 71.9 85.9 69.0 83.5 67.0 80.8 62.6 80.0 60.3 78.8 57.9 74.2 55.0 71.9 52.8 67.9 50.1 64.9 48.9 61.9 48.1 55.4Z" fill="#FF0000" stroke="#000" stroke-width="0.55" stroke-opacity="0.85" fill-rule="evenodd"/><path d="M216.3 291.9 215.2 292.5 214.1 294.9 213.6 299.5 212.3 304.9 212.6 307.9 214.0 308.9 215.6 308.5 216.8 307.5 220.6 298.5 218.8 294.2 217.3 292.3ZM230.5 273.2 230.3 274.5 231.1 276.5 234.0 278.8 238.0 279.2 240.0 278.4 240.7 277.5 240.8 274.9 240.0 272.9 239.0 271.7 232.6 271.9ZM245.4 274.5 245.4 277.2 246.8 279.5 248.6 280.9 252.0 281.9 256.3 281.3 260.3 277.6 266.0 277.0 272.0 275.2 273.6 275.3 274.8 276.2 277.0 280.5 280.5 283.2 282.0 287.5 287.3 291.4 294.3 293.5 298.0 297.1 300.3 297.2 305.2 295.8 305.1 280.7 299.0 281.3 296.6 278.5 293.3 276.5 290.3 272.7 284.3 271.6 282.2 268.9 281.2 264.9 281.6 263.6 288.3 263.1 290.2 261.9 291.1 260.2 290.8 255.5 289.3 252.9 288.0 252.1 283.6 251.5 282.1 252.5 280.0 260.5 280.2 262.5 279.3 263.6 272.0 267.5 257.6 272.7 255.6 272.9 250.6 271.4 248.3 271.4 246.6 272.5ZM109.6 217.6 109.7 220.5 112.0 222.7 113.6 222.9 116.0 222.1 118.2 219.9 118.2 217.9 116.6 216.0 112.3 216.1ZM275.8 212.9 274.6 211.8 272.3 211.2 268.0 212.3 265.8 215.5 265.9 219.5 266.6 220.1 276.0 219.5 276.8 216.5ZM138.2 212.2 138.2 213.5 140.0 215.3 142.3 215.5 143.4 214.5 143.4 213.2 142.0 211.9 139.6 211.3ZM284.1 197.3 283.0 196.9 278.6 198.1 277.4 198.9 277.0 199.9 278.0 200.8 280.6 200.7 283.3 199.1ZM159.3 197.0 158.1 198.2 158.2 200.5 159.6 202.7 161.6 203.4 163.2 201.9 163.2 198.9 162.0 197.3ZM190.0 195.9 188.8 197.2 188.6 199.5 189.4 201.1 190.6 201.3 192.6 199.9 193.3 198.5 192.0 196.7ZM249.3 194.0 247.0 196.2 246.6 198.5 248.3 201.9 250.3 202.7 252.4 201.2 253.6 197.5 252.6 195.5ZM98.3 167.7 95.6 168.5 94.6 170.9 95.7 173.9 97.0 174.7 99.0 173.9 100.6 171.2 100.2 168.9ZM74.8 163.5 73.6 162.9 67.3 163.1 62.0 166.1 58.0 167.6 57.0 168.9 56.4 171.2 57.0 174.5 58.0 175.4 59.6 175.5 68.0 174.1 70.0 173.0 74.6 168.5 75.3 166.2ZM285.8 168.5 281.3 163.0 271.6 159.9 270.6 160.9 268.3 166.5 263.3 170.2 261.1 172.5 260.7 175.2 262.0 176.7 264.0 176.9 271.0 175.7 274.6 173.2 280.0 174.5 283.3 173.4 284.8 171.9ZM298.7 152.5 297.4 154.5 297.8 157.1 301.0 158.2 305.1 158.0 305.3 151.9 304.9 151.1 301.0 151.1ZM167.7 146.2 166.6 145.3 165.0 145.3 161.3 146.9 157.6 149.7 150.3 149.2 144.6 151.6 140.3 154.4 139.0 155.9 138.6 157.2 139.0 161.2 140.6 162.9 145.3 164.9 150.0 171.1 151.0 171.7 152.3 171.5 154.8 169.2 159.7 161.2 164.5 157.2 165.6 153.2 167.8 149.2ZM119.2 143.2 117.3 142.3 115.3 142.8 113.1 144.9 112.6 147.1 114.0 147.9 118.6 147.6 119.6 146.2ZM293.3 134.7 292.4 135.9 292.3 138.2 292.8 140.5 294.0 142.5 302.3 146.8 305.1 147.3 305.1 133.1 299.6 132.9 295.3 133.7ZM74.3 131.9 72.6 132.3 71.6 133.5 71.4 134.5 72.3 135.7 73.6 135.7 74.7 134.9 75.0 132.9ZM145.6 119.7 143.8 121.5 142.6 127.2 142.8 129.2 143.6 130.4 145.3 131.3 150.0 132.1 151.6 131.1 153.2 128.9 153.3 124.9 152.8 122.9 151.6 120.9 150.3 119.9ZM131.6 117.6 129.4 118.5 126.1 124.2 122.6 127.9 122.0 132.9 122.6 135.5 123.6 136.6 125.0 136.9 126.6 136.1 132.3 129.2 132.6 127.5 131.6 124.2 132.3 118.5ZM170.3 116.8 168.2 118.9 167.1 120.9 167.2 121.9 169.3 123.9 171.4 127.5 174.0 130.2 176.0 131.4 178.0 131.3 179.3 129.9 179.5 128.5 177.2 123.5 176.0 118.2 174.3 116.7ZM267.0 115.7 264.6 117.5 262.8 125.9 264.0 127.7 266.6 129.5 270.3 130.9 272.3 131.1 273.9 129.9 276.6 124.5 276.9 121.9 274.3 119.8 271.6 116.7 269.3 115.7ZM233.3 113.3 232.0 113.7 229.8 116.5 227.9 121.5 224.2 127.9 223.6 130.5 223.8 132.9 224.4 134.2 225.6 135.1 227.6 135.2 231.0 133.5 232.4 131.2 232.5 125.2 236.5 116.9 236.1 115.6ZM94.5 101.5 93.6 100.3 91.6 99.3 88.0 99.2 76.0 101.4 73.8 102.9 73.3 104.9 74.0 106.9 76.0 108.5 86.6 112.7 89.6 113.2 91.0 112.7 92.2 111.2ZM173.6 97.5 174.3 98.1 175.6 98.0 177.6 97.0 178.2 95.9 177.6 95.3 175.3 95.3 173.8 96.5ZM192.1 92.9 191.0 92.2 189.6 92.6 187.0 94.5 186.5 96.1 188.0 96.8 190.0 96.3 191.7 94.9ZM137.0 85.3 135.6 84.9 129.3 86.4 127.3 87.5 126.3 88.9 125.6 97.2 126.5 99.2 128.3 100.9 130.3 101.2 132.6 100.5 140.0 96.4 141.0 95.2 141.3 93.2 140.2 89.9 138.4 86.5ZM218.0 80.9 218.6 82.1 221.3 82.9 224.3 81.7 225.4 80.5 225.5 79.5 224.6 78.7 221.3 78.5 218.6 79.3ZM166.8 59.5 164.8 68.2 165.7 69.7 167.6 70.7 172.6 71.2 182.3 67.7 189.6 66.5 191.4 67.9 193.4 73.9 199.3 78.9 201.0 79.2 205.6 78.2 213.3 79.2 214.3 78.9 215.2 77.9 215.3 74.5 214.4 68.9 213.3 66.2 209.7 60.9 208.6 55.3 174.6 55.2 172.0 58.5 170.6 58.9 167.6 58.5Z" fill="#C0C0C0" stroke="#000" stroke-width="0.55" stroke-opacity="0.85" fill-rule="evenodd"/></g><ellipse cx="173.3" cy="187.2" rx="133.5" ry="132.1" fill="none" stroke="#fff" stroke-width="7"/><ellipse cx="173.3" cy="187.2" rx="129.7" ry="128.29999999999998" fill="none" stroke="#300" stroke-width="0.6" stroke-opacity="0.45"/><clipPath id="k2"><ellipse cx="466.85" cy="187.1" rx="131.25" ry="130.0"/></clipPath><g clip-path="url(#k2)"><circle cx="466.85" cy="187.1" r="131.75" fill="#000000"/><path d="M402.0 70.8 402.8 72.0 402.8 74.7 402.0 75.9 401.4 75.0ZM335.3 55.5 335.3 318.8 598.6 318.8 598.6 55.5 391.1 55.3 390.4 56.0 390.7 58.0 389.8 58.7 387.8 58.0 387.7 55.8 387.1 55.3Z" fill="#0000FF" stroke="#000" stroke-width="0.55" stroke-opacity="0.85" fill-rule="evenodd"/><path d="M404.4 294.2 405.4 295.7 405.0 300.4 403.8 302.3 401.4 303.3 400.8 302.4 402.2 295.7 403.1 294.5ZM335.3 55.5 335.3 318.8 551.1 319.0 552.1 317.7 551.7 313.4 550.4 311.8 546.5 309.7 545.4 306.7 542.6 303.4 540.0 297.7 540.8 297.2 545.6 301.0 547.2 305.7 549.8 308.5 552.8 309.0 556.1 308.0 557.0 308.4 556.6 315.0 559.5 319.0 598.6 318.8 598.6 55.5 415.4 55.3 414.8 55.8 412.1 68.3 412.1 72.0 413.2 76.7 412.9 79.3 410.8 83.2 406.8 84.7 400.1 83.9 398.4 82.7 394.4 77.7 395.8 72.7 394.7 70.3 389.8 64.9 387.8 63.9 383.1 63.2 381.9 62.3 381.4 60.7 382.4 56.0 382.0 55.4Z" fill="#0080FF" stroke="#000" stroke-width="0.55" stroke-opacity="0.85" fill-rule="evenodd"/><path d="M406.1 290.7 408.0 292.4 408.4 293.7 406.8 302.7 401.1 307.2 398.4 311.0 396.4 311.4 395.2 310.0 395.2 307.4 398.6 300.7 400.5 293.0 402.4 290.8 403.8 290.4ZM346.1 210.1 349.4 209.0 351.8 209.1 353.1 209.8 354.8 212.4 354.0 215.7 352.4 217.3 351.1 217.5 348.7 214.4 345.8 212.0 345.5 211.0ZM369.4 121.7 369.7 120.3 370.8 119.2 374.8 118.0 378.4 118.6 380.4 119.5 380.8 120.3 379.1 122.3 373.1 124.3 370.8 123.6ZM496.4 103.7 495.8 100.7 496.4 99.4 499.8 99.0 501.9 100.0 501.7 101.0 498.1 104.2 497.1 104.3ZM477.4 95.7 479.4 96.3 480.4 98.7 479.6 101.7 477.8 102.7 476.1 102.0 475.1 100.0 475.7 97.0ZM483.2 74.7 484.4 72.8 487.4 72.0 493.8 74.6 495.0 75.7 495.2 76.7 494.1 77.9 487.1 78.3 484.4 77.0ZM335.3 55.5 335.3 318.8 548.4 319.0 549.0 318.6 549.1 316.7 548.4 314.7 544.0 312.0 542.5 308.4 539.6 305.0 538.4 302.7 537.1 302.0 533.1 302.6 531.9 301.7 531.3 300.4 531.4 298.0 533.1 296.2 542.1 293.7 543.4 294.2 545.1 296.7 547.6 298.7 549.2 304.4 550.8 306.2 552.4 306.7 557.1 305.2 559.8 306.0 560.6 307.7 559.9 314.4 563.5 319.0 598.6 318.8 598.6 55.5 418.4 55.3 417.7 56.0 414.6 69.3 416.4 77.3 416.6 80.0 419.6 83.0 420.4 86.7 419.7 88.3 417.8 89.0 415.4 88.8 412.4 86.2 401.1 85.3 397.8 84.0 392.9 78.0 394.6 73.3 394.0 71.3 389.1 65.6 387.8 64.9 382.8 64.2 380.8 62.7 380.4 60.7 381.4 56.3 381.0 55.4Z" fill="#00FFFF" stroke="#000" stroke-width="0.55" stroke-opacity="0.85" fill-rule="evenodd"/><path d="M407.4 289.8 409.4 291.4 410.8 293.7 409.0 298.4 408.2 303.0 406.8 304.7 401.8 308.4 398.8 312.6 397.4 313.0 395.8 312.6 393.9 310.7 393.9 307.4 397.6 300.0 400.1 291.0 401.1 289.8 403.1 289.0ZM345.1 206.7 347.1 206.0 350.4 206.6 353.8 208.2 355.4 210.0 356.1 212.0 355.9 214.4 354.2 218.0 352.4 219.8 350.4 220.1 349.4 219.6 347.7 216.0 343.7 213.0 343.1 211.0 343.2 209.0ZM452.1 125.6 453.4 125.8 455.3 128.0 455.2 129.7 453.8 131.0 452.2 130.6 451.3 129.0 451.2 126.7ZM404.4 117.1 407.0 119.7 407.9 123.3 405.8 126.2 403.8 127.2 402.1 127.3 400.6 125.7 400.7 122.3 402.2 118.7ZM367.8 121.0 368.0 119.7 369.4 118.2 374.4 116.0 378.8 116.7 382.8 116.6 384.1 117.1 384.8 118.3 384.4 120.3 382.1 122.9 373.8 125.3 371.4 125.2 370.1 124.6 368.6 123.0ZM510.0 99.0 510.3 100.0 509.4 101.2 502.8 103.5 497.1 109.1 495.1 109.1 493.7 107.7 493.1 99.3 493.6 98.0 494.8 96.9 500.8 96.0 507.4 97.6ZM477.1 94.0 481.8 95.1 483.1 97.7 482.8 100.0 481.9 102.0 477.8 104.8 476.8 104.8 475.4 103.7 473.8 100.0 474.3 95.7 475.8 94.3ZM538.4 87.5 539.0 88.3 538.1 89.3 534.4 89.8 533.6 90.3 531.6 96.3 530.1 97.8 529.1 97.6 528.4 95.7 529.0 93.0 530.4 90.3 535.8 87.2ZM480.7 72.3 483.1 69.3 485.1 67.9 488.1 67.9 491.8 71.2 495.4 72.6 496.8 73.7 498.1 76.7 497.7 79.7 496.1 81.6 494.8 82.0 486.1 80.6 480.6 76.7 480.1 74.3ZM335.3 55.5 335.3 318.8 545.4 319.0 546.0 318.6 545.8 317.4 542.1 314.7 539.1 309.4 536.1 306.2 532.4 305.8 531.1 305.0 530.2 303.7 529.8 301.4 530.4 297.4 532.4 295.2 542.8 292.4 544.1 292.8 545.9 295.6 548.7 297.7 549.6 303.0 550.8 305.0 552.8 305.5 557.8 304.0 560.8 304.0 562.7 305.0 563.5 307.0 562.9 313.0 567.5 319.0 598.6 318.8 598.6 55.5 419.8 55.3 419.2 55.8 417.4 64.7 417.1 70.0 419.0 77.0 423.0 81.7 424.1 88.7 423.4 90.0 422.1 90.8 416.1 91.7 414.4 91.2 412.4 88.0 410.4 86.8 399.1 85.9 397.1 84.7 392.2 78.7 392.2 77.0 393.9 73.3 393.3 71.3 388.4 65.8 386.1 65.0 382.4 64.8 380.3 63.0 379.9 61.0 380.7 55.4Z" fill="#00FF80" stroke="#000" stroke-width="0.55" stroke-opacity="0.85" fill-rule="evenodd"/><path d="M413.8 290.2 415.8 292.4 416.0 294.0 414.1 297.0 411.4 299.7 410.6 303.7 409.4 305.7 403.8 310.0 402.0 313.4 400.1 315.1 396.8 315.7 393.1 314.0 391.3 311.0 391.4 307.4 394.7 300.7 396.5 295.4 399.8 288.4 401.1 287.7 405.8 287.7ZM389.8 265.2 390.8 265.7 391.6 267.0 392.4 273.4 391.7 276.0 390.1 277.1 388.5 276.4 387.8 274.7 388.0 267.4 388.6 266.0ZM565.1 245.8 566.8 245.8 568.1 246.7 572.6 252.0 573.0 254.0 572.6 256.7 571.1 259.0 569.8 259.9 568.1 260.0 566.9 259.0 563.0 250.4 563.2 247.7ZM443.4 204.8 444.9 206.4 444.9 209.7 443.4 212.0 441.4 212.9 439.5 211.0 439.6 208.0 441.4 205.7ZM371.1 203.1 371.6 204.7 368.2 210.7 365.8 213.1 363.4 213.0 362.4 210.4 362.4 206.4 363.2 204.4 364.4 203.3 366.8 202.7ZM346.8 201.1 348.8 201.1 350.1 201.8 357.1 207.7 358.3 209.7 358.8 212.4 357.4 217.0 355.1 220.0 352.1 221.8 349.8 221.9 347.8 221.0 343.6 215.4 342.0 212.0 341.8 208.4 342.5 206.0 344.4 203.0ZM421.1 201.0 423.3 203.7 423.8 205.7 423.5 207.7 420.1 210.4 417.1 211.4 416.1 211.1 415.4 209.7 417.8 202.7 419.4 201.0ZM351.7 187.0 352.0 187.7 351.4 188.6 347.1 190.8 345.8 190.8 344.1 189.0 344.8 187.0 347.1 186.0 349.8 185.8ZM582.8 180.5 585.4 184.4 585.9 186.7 583.1 191.4 581.1 192.8 579.4 193.0 578.4 192.0 578.1 190.7 578.6 187.4 581.9 180.7ZM579.4 138.0 581.4 138.5 582.8 140.4 581.1 142.5 578.8 143.3 577.2 142.4 576.8 140.4 577.4 139.0ZM451.1 123.6 452.1 123.3 454.1 124.1 458.2 127.7 458.8 129.7 458.6 131.0 457.4 133.0 456.1 134.0 452.8 134.1 450.5 131.4 449.5 126.7 450.0 124.7ZM366.1 121.3 366.2 118.7 367.4 116.7 370.4 114.3 374.4 113.0 380.1 114.0 382.1 113.7 385.8 114.6 388.0 116.0 389.1 118.3 389.0 120.0 388.1 121.3 384.1 124.0 373.1 127.0 371.1 126.8 368.8 125.3 366.6 122.7ZM405.1 109.7 406.4 110.1 408.1 112.0 409.0 116.0 410.9 121.0 411.1 124.0 409.1 126.6 401.8 129.7 398.2 128.0 397.4 126.0 397.4 123.7 400.8 112.3 402.8 110.1ZM471.4 98.3 471.9 94.7 473.1 93.6 475.1 93.0 483.4 93.0 484.8 93.5 486.2 95.7 487.4 101.0 489.1 102.3 490.2 101.7 490.9 98.3 492.4 95.7 494.1 94.2 496.4 93.2 498.8 93.0 508.8 95.3 514.8 94.3 516.1 94.8 516.8 96.0 516.0 101.0 514.8 102.9 509.4 103.6 505.4 105.1 503.3 106.7 500.6 111.0 498.8 112.8 493.8 114.0 490.1 113.3 484.4 109.9 481.4 107.4 477.4 108.3 475.4 107.9 474.1 106.0ZM542.2 87.7 542.3 89.3 535.8 92.7 532.8 97.3 530.4 99.8 528.1 100.6 526.6 99.3 525.4 96.7 526.5 91.0 528.8 88.5 535.4 85.7 539.4 85.9ZM431.8 62.9 433.4 63.7 434.9 66.7 435.0 68.7 433.8 69.9 431.8 69.6 430.7 68.0 430.6 64.3ZM454.1 61.6 455.2 63.3 454.6 65.0 450.4 69.5 449.4 69.8 448.2 69.2 447.4 67.3 449.0 64.0 451.4 61.8ZM335.3 55.5 335.3 318.8 507.4 319.0 508.1 318.4 507.8 311.4 508.4 309.0 509.4 307.8 511.1 306.9 517.4 305.8 521.4 304.2 524.1 300.4 527.4 298.4 532.1 293.5 535.4 291.9 544.8 291.2 547.2 294.2 550.2 296.4 550.4 301.0 551.5 303.6 553.8 303.9 558.0 302.2 558.8 300.7 558.0 298.7 556.4 296.5 553.4 294.4 552.6 292.7 553.0 281.4 553.9 279.4 555.8 278.4 559.4 278.4 561.4 279.2 563.0 281.0 564.4 285.6 568.4 287.2 571.8 291.7 576.4 293.5 579.4 297.0 581.8 297.8 589.1 302.4 593.1 309.2 596.8 310.4 598.6 310.2 598.8 226.7 598.1 226.0 595.1 226.0 587.1 223.4 585.8 222.0 587.1 220.4 589.8 220.0 596.1 222.5 598.4 222.8 598.8 222.4 598.6 55.5 489.2 55.4 488.9 58.7 493.4 64.3 494.1 68.3 499.1 72.7 500.8 76.3 500.8 80.3 499.7 83.7 497.8 86.7 495.4 87.9 490.1 83.9 485.8 82.3 479.1 78.2 477.8 76.7 477.6 73.7 480.4 67.0 479.8 60.7 480.4 56.0 480.0 55.4 421.8 55.3 421.2 55.8 419.8 63.0 419.8 67.0 421.8 76.7 424.8 79.7 425.9 81.7 427.1 90.0 426.8 93.0 425.1 94.3 421.1 93.7 415.8 94.0 413.2 92.7 411.3 89.0 410.1 87.9 401.1 88.0 400.6 89.0 402.4 92.3 402.4 99.0 400.6 104.0 398.1 105.6 395.4 104.6 393.5 101.0 396.6 95.3 398.0 88.3 391.3 79.0 391.3 77.3 393.0 73.7 393.0 72.3 388.1 66.5 385.8 65.7 382.4 65.5 379.8 63.7 379.1 61.3 380.0 55.4Z" fill="#00FF00" stroke="#000" stroke-width="0.55" stroke-opacity="0.85" fill-rule="evenodd"/><path d="M553.8 298.6 552.8 299.7 553.0 301.0 553.8 301.4 554.8 301.0 555.2 300.0ZM433.3 290.0 434.4 289.1 437.1 288.4 439.8 288.6 441.8 289.5 443.9 292.7 444.4 295.0 444.0 297.0 442.4 298.4 439.4 299.4 436.4 299.7 434.4 299.0 433.1 297.4 432.8 296.0 432.8 291.4ZM564.8 243.2 568.1 243.0 570.4 243.8 575.4 246.5 576.9 248.7 576.7 254.0 573.1 259.0 569.4 261.8 567.8 261.8 565.6 260.4 561.4 250.7 561.1 248.4 561.8 246.0 563.1 244.1ZM454.0 228.7 454.5 226.7 455.8 225.8 463.4 222.6 466.4 222.0 472.4 222.4 480.1 224.4 483.1 224.0 484.4 224.5 485.1 225.7 484.7 228.4 482.4 230.5 479.4 230.7 474.1 229.4 470.1 229.4 466.1 230.4 463.1 232.8 461.4 233.2 457.4 231.8 454.8 230.0ZM444.8 203.0 446.6 205.7 446.8 209.4 444.6 214.7 443.4 215.8 441.4 216.4 438.8 216.4 436.1 215.6 434.7 214.0 434.4 212.4 436.8 205.4 438.1 204.4 442.8 202.6ZM416.4 196.9 420.1 196.0 425.1 196.9 427.6 198.4 428.0 199.7 427.1 204.0 429.9 210.0 430.0 211.4 429.4 212.3 421.8 215.4 416.1 214.1 413.8 212.7 412.9 210.4 415.2 205.4 415.4 198.7ZM343.4 185.9 345.8 184.8 349.8 184.4 354.8 185.9 356.7 187.0 357.0 188.7 356.1 190.0 355.1 190.6 352.1 190.7 350.1 191.4 348.6 192.7 347.8 194.7 348.2 196.7 352.0 199.4 354.0 203.0 355.1 204.0 358.1 204.1 365.8 201.4 372.8 201.0 374.7 202.0 375.0 204.4 372.5 208.0 369.5 215.4 369.2 219.0 368.1 220.6 367.1 221.0 361.1 220.7 358.1 221.2 352.4 223.5 349.4 223.7 348.1 223.2 344.3 219.7 341.3 213.0 340.5 209.4 341.0 206.4 343.4 201.7 344.4 198.0 343.9 193.0 341.8 188.4 342.2 187.0ZM582.4 175.5 584.0 176.7 585.5 181.4 588.2 185.0 588.3 188.0 586.4 191.0 584.4 192.8 579.8 195.5 577.1 195.6 572.2 191.7 571.4 189.7 571.7 188.0 573.6 184.0 578.0 181.0 579.6 176.7 580.8 175.8ZM451.4 121.7 453.8 122.3 458.4 125.3 461.0 128.7 461.8 131.4 461.0 134.4 458.8 137.0 456.8 138.3 452.8 139.6 451.1 139.0 450.4 137.7 449.9 133.7 448.4 128.4 448.8 123.7 450.1 122.2ZM450.8 91.0 452.1 91.5 453.6 93.0 454.1 96.0 450.3 103.3 448.8 104.1 446.4 102.7 445.1 99.7 447.6 93.0 449.1 91.5ZM492.8 56.0 493.6 58.6 496.8 60.5 497.7 61.7 499.5 68.6 501.1 69.2 504.1 68.4 505.4 69.7 504.1 75.7 504.8 79.3 504.5 82.0 501.5 87.0 500.9 89.3 502.4 90.9 507.1 92.3 510.8 92.2 519.1 89.9 522.1 87.2 528.1 86.9 536.1 84.3 544.8 86.0 553.1 84.6 556.4 82.3 559.8 81.3 561.6 79.9 564.1 74.3 567.6 68.7 570.4 66.0 571.0 63.7 569.8 56.0 569.1 55.3 493.4 55.3ZM335.3 55.5 335.3 318.8 370.4 319.0 371.3 313.7 374.3 310.7 376.1 308.0 380.4 305.6 386.4 297.8 390.8 296.0 393.8 293.2 396.7 291.7 397.4 289.7 397.3 287.4 394.6 282.7 393.8 282.1 388.1 281.0 386.4 279.7 385.3 277.7 385.7 266.0 387.2 262.0 389.1 260.5 392.4 261.4 394.2 262.7 393.8 271.4 395.0 278.7 395.9 280.5 400.8 285.2 403.4 286.4 412.4 286.4 418.4 287.9 421.1 289.2 427.8 295.4 427.4 297.7 425.4 300.7 424.1 301.6 420.1 302.4 419.1 302.0 417.4 300.0 416.3 300.7 415.8 306.7 414.3 310.7 414.1 313.0 416.3 318.4 417.1 319.0 505.0 319.0 505.4 318.4 505.1 312.4 505.6 310.0 507.0 307.4 510.2 303.7 511.2 300.0 512.4 298.4 520.1 295.2 528.4 293.3 533.8 288.5 536.4 287.2 537.8 287.2 541.4 289.0 545.4 288.9 548.4 291.0 549.4 291.0 550.1 289.0 550.1 284.0 551.9 277.0 553.4 275.9 557.4 275.5 562.8 272.7 564.1 272.8 565.3 273.7 566.4 277.7 567.8 279.0 569.4 279.1 573.8 277.7 575.1 278.1 575.7 279.0 576.5 284.4 578.8 287.7 584.1 293.2 587.1 294.5 590.8 297.8 596.4 299.8 598.6 299.8 598.8 228.7 598.4 228.1 593.8 227.4 586.4 225.0 581.1 224.6 580.2 224.0 579.8 222.7 581.1 220.8 587.8 216.8 598.7 214.6 598.8 147.7 598.4 147.1 594.4 146.5 588.4 143.9 585.4 143.8 584.2 144.7 579.6 150.7 577.0 156.0 574.4 157.4 572.4 155.7 571.6 150.7 569.8 146.0 570.5 143.4 573.4 138.0 575.8 136.0 580.8 136.2 588.1 139.7 596.4 140.7 598.7 140.3 598.6 55.5 587.6 55.5 587.6 61.7 584.9 67.0 582.8 68.5 578.8 69.2 575.8 72.2 572.2 74.3 569.4 79.0 564.8 81.2 559.8 87.3 557.9 93.0 551.1 98.8 549.4 99.0 548.1 98.3 546.0 94.3 544.4 92.9 542.4 92.3 539.8 92.6 537.4 93.8 529.1 102.4 526.4 102.5 522.8 101.1 520.8 102.0 516.4 106.2 510.1 105.3 508.0 106.7 503.4 113.0 500.8 115.0 494.4 116.6 490.1 119.1 485.8 119.3 483.1 118.6 481.4 117.5 479.9 115.7 478.0 111.9 474.8 111.2 473.1 110.0 468.1 100.0 468.2 94.7 469.8 92.6 472.1 92.0 484.8 91.7 489.4 93.9 491.2 92.3 492.4 89.3 491.8 87.3 490.1 85.5 477.8 79.3 475.8 77.3 475.4 74.3 477.8 66.7 475.6 55.5 462.3 55.5 459.0 65.3 454.4 68.3 452.0 74.0 449.8 74.8 444.8 72.0 443.2 69.0 445.2 62.7 446.2 55.5 433.0 55.5 433.0 58.3 435.9 64.3 436.8 69.0 436.3 70.3 435.1 71.4 432.1 71.7 430.1 70.7 429.2 69.3 427.9 55.8 422.8 55.4 421.1 64.7 423.4 76.0 428.0 80.7 428.1 84.3 430.2 92.7 430.5 96.3 429.4 98.3 427.1 99.3 420.4 96.6 414.1 96.2 412.6 95.0 409.8 89.4 407.8 89.0 405.6 89.8 405.1 91.0 405.5 95.0 412.6 104.7 413.4 109.7 416.4 121.0 416.4 124.3 415.6 126.7 414.1 128.1 408.1 128.6 401.4 131.0 390.8 130.9 388.8 129.7 386.7 126.8 385.4 126.3 374.4 128.7 370.4 128.6 368.2 127.0 364.6 122.0 364.4 119.3 366.0 113.3 367.1 112.5 384.1 110.7 392.4 114.3 395.8 112.3 397.3 110.3 396.4 108.3 389.9 102.7 388.0 98.3 388.1 97.0 389.1 95.8 393.6 93.9 394.8 90.3 394.2 86.7 390.4 79.0 390.6 77.0 392.0 74.0 392.0 72.7 387.8 67.2 385.4 66.3 381.8 66.1 379.3 64.3 378.4 62.0 379.2 55.5Z" fill="#FFFF00" stroke="#000" stroke-width="0.55" stroke-opacity="0.85" fill-rule="evenodd"/><path d="M405.1 254.5 405.6 255.4 404.8 256.6 403.8 256.6 403.9 255.0ZM560.5 245.0 562.8 242.5 564.8 241.7 570.4 241.7 576.8 242.8 578.3 244.4 578.4 249.7 579.2 252.7 580.8 255.4 580.6 256.4 575.8 258.2 570.1 263.0 568.8 263.4 566.4 263.0 563.8 260.4 562.4 256.0 560.0 251.4 559.4 248.7ZM397.4 222.5 400.4 222.0 402.3 223.0 405.3 228.7 405.3 230.4 404.1 231.9 402.1 232.7 399.4 232.7 397.8 231.7 396.4 225.4 396.5 223.7ZM567.9 223.0 568.8 221.8 570.1 221.4 571.4 221.8 572.0 222.7 571.4 224.0 569.8 224.7 568.4 224.3ZM451.4 228.4 452.8 225.7 455.1 224.1 462.4 220.8 466.8 220.0 472.4 220.4 480.1 222.3 484.8 221.8 486.6 223.0 487.4 225.4 486.5 231.4 485.0 234.4 481.4 236.6 477.1 238.0 470.4 237.2 464.4 235.4 460.4 235.4 454.8 233.9 452.3 232.0ZM430.2 203.2 429.6 204.7 430.6 206.7 431.8 207.8 433.0 207.8 433.8 206.4 433.3 204.0 432.1 203.1ZM554.7 201.4 555.8 200.0 558.8 199.4 562.1 199.4 563.0 200.4 561.8 201.6 558.1 203.0 555.8 202.8ZM414.2 196.0 417.1 194.4 419.8 194.4 428.4 196.0 431.4 195.8 435.4 194.4 437.1 194.8 438.2 196.4 439.5 200.9 443.8 200.9 446.1 202.1 447.5 204.0 448.4 208.7 447.9 211.4 446.0 215.7 443.8 217.8 441.1 218.4 436.1 217.9 430.1 215.0 421.4 217.6 414.4 216.2 412.3 214.4 411.1 211.7 411.2 210.0 413.4 206.0 414.0 203.7 413.4 198.4ZM340.4 186.7 343.4 184.7 348.1 183.4 356.8 184.9 358.0 185.7 358.8 188.0 357.6 190.7 355.8 191.9 351.1 192.3 349.4 194.4 349.9 196.0 352.8 198.0 354.9 202.0 356.1 202.8 366.1 200.4 373.4 199.7 375.8 200.7 376.8 203.0 374.3 209.4 374.1 212.4 377.9 221.7 378.1 223.4 377.4 224.7 374.8 226.2 370.8 227.4 368.1 227.2 363.4 224.3 360.1 223.4 356.1 223.9 350.4 225.7 348.4 225.6 347.1 224.7 342.7 219.7 339.8 210.4 340.0 206.4 342.6 200.7 343.1 198.0 342.2 192.0 339.2 188.7ZM405.1 177.5 407.4 177.0 412.8 177.7 414.6 179.0 415.1 180.4 413.9 187.0 413.1 188.3 412.1 188.6 410.4 187.9 404.2 182.4 403.7 179.7ZM575.8 169.0 578.4 169.8 580.8 172.6 584.6 175.4 586.4 180.7 589.1 184.0 590.0 187.0 589.2 191.0 587.8 193.6 580.8 196.8 577.4 197.7 571.4 195.9 570.2 194.7 569.4 192.7 570.0 186.7 573.4 178.4 572.9 171.0 573.8 169.8ZM345.8 167.4 346.7 168.7 345.9 172.7 344.8 174.3 343.4 174.6 342.0 173.0 342.2 170.4 343.8 168.4ZM411.4 149.1 412.9 150.7 412.5 153.0 410.8 154.8 408.8 154.8 407.6 153.4 407.8 151.4 409.4 149.5ZM469.7 128.1 470.0 130.4 467.6 133.7 462.4 137.1 459.1 141.1 452.1 144.1 449.1 144.6 447.2 143.7 446.8 142.0 448.3 134.4 447.1 127.7 447.1 124.3 448.8 121.2 450.8 120.3 453.1 120.6 457.8 123.2 461.8 126.4 468.1 127.3ZM391.8 107.9 391.8 108.7 392.6 108.9ZM510.8 107.6 510.8 109.0 512.7 109.8 513.0 109.0 512.6 108.0 511.8 107.4ZM451.4 87.8 457.8 90.3 458.7 92.0 456.2 98.3 452.9 101.7 451.3 105.3 449.4 106.2 447.1 105.1 443.8 102.3 442.7 100.7 442.4 99.0 444.6 91.3 446.4 89.8ZM500.4 63.7 501.5 66.1 504.8 66.2 507.2 68.0 507.7 70.0 506.6 75.3 510.2 82.0 512.1 83.9 515.8 85.3 521.4 84.3 526.4 85.7 528.8 85.7 535.8 83.3 543.8 84.7 550.4 84.0 552.4 83.3 555.4 81.1 558.8 79.9 560.6 78.3 566.2 67.7 569.2 65.0 569.4 61.7 568.4 55.8 567.8 55.3 504.8 55.3 504.2 55.8 503.5 59.0 501.2 61.7ZM335.3 55.5 335.3 318.8 369.0 319.0 370.2 312.7 374.8 307.0 380.1 304.0 385.1 297.0 389.8 294.9 392.8 291.5 395.0 290.0 395.3 288.7 394.4 287.5 384.8 281.8 382.5 279.4 382.4 276.7 383.8 270.7 383.6 265.0 386.0 260.4 388.1 259.0 395.1 260.4 400.1 260.0 402.0 261.4 403.0 264.4 402.6 265.7 401.4 266.5 396.8 266.3 395.7 267.4 395.2 270.0 396.0 274.0 398.4 276.4 400.2 281.7 402.8 284.8 406.1 285.4 414.1 284.0 419.8 284.5 423.1 286.2 425.3 290.0 427.1 291.0 428.4 290.6 431.4 287.8 439.4 287.0 448.8 289.1 453.8 292.7 455.8 295.0 456.0 297.7 454.1 299.5 451.8 300.0 446.8 299.7 438.1 301.7 435.1 301.7 429.4 300.4 425.1 303.0 420.8 304.5 419.4 306.0 418.7 308.7 416.5 310.7 415.7 312.4 416.2 315.0 418.4 319.0 502.0 319.0 502.4 318.4 501.3 310.0 505.4 306.0 505.8 300.7 506.8 298.7 513.8 294.8 522.8 292.4 525.8 290.4 536.1 285.5 538.1 285.0 541.8 285.7 544.8 285.3 545.8 284.4 548.8 279.4 550.4 275.4 552.8 274.4 557.1 274.2 562.1 270.9 564.1 271.2 566.1 272.4 568.4 277.2 569.8 277.4 573.8 276.2 576.1 276.8 577.3 278.4 577.8 284.0 584.4 291.6 587.8 293.2 591.8 296.6 596.8 298.5 598.6 298.5 598.7 229.1 593.8 228.4 586.4 226.0 579.8 226.5 577.5 224.4 577.1 222.0 578.8 219.1 583.1 217.8 587.4 214.8 598.7 212.6 598.8 150.0 598.1 149.4 591.4 150.0 585.8 149.4 583.8 149.6 582.0 151.4 581.0 156.4 578.4 159.7 577.3 162.7 575.1 163.7 572.8 162.9 571.2 161.4 570.1 158.0 569.5 152.4 566.4 150.0 565.4 147.7 566.2 144.7 572.4 136.4 575.1 134.6 580.8 134.9 585.4 137.4 589.4 138.4 596.8 139.4 598.7 139.0 598.6 114.2 589.4 113.2 588.1 114.0 585.4 117.1 581.1 118.7 574.1 117.9 571.8 116.3 571.0 114.7 571.1 113.3 572.4 111.9 577.0 111.6 577.9 106.3 581.8 103.0 583.6 99.7 587.0 96.7 588.8 94.2 590.8 93.4 595.1 94.0 598.7 93.6 598.6 64.2 596.1 64.3 593.4 65.3 590.7 67.3 588.4 70.9 582.4 72.8 580.1 77.9 575.4 79.8 569.0 87.6 565.4 88.7 563.6 90.0 561.8 95.0 560.1 96.6 551.4 100.5 549.8 100.7 547.1 99.3 543.8 94.8 541.8 94.0 539.8 94.2 535.8 97.0 529.4 103.8 527.8 104.3 524.1 103.8 521.4 104.8 517.4 110.2 516.1 110.9 513.5 111.2 511.1 115.3 508.8 116.9 503.1 118.7 494.8 119.6 489.4 121.3 486.1 121.3 483.4 120.6 479.1 118.1 476.8 117.3 470.4 118.6 468.4 118.2 466.1 116.7 464.8 114.0 464.8 111.3 466.8 99.7 466.8 95.0 467.4 92.7 468.4 91.4 470.1 90.7 477.4 91.3 484.1 90.7 489.1 91.0 490.3 90.3 490.8 89.0 490.4 87.3 489.4 86.3 481.8 82.3 476.4 80.4 473.7 78.0 473.6 74.3 476.1 66.7 474.2 55.5 464.3 55.5 463.9 58.0 460.7 65.3 459.1 67.5 455.2 70.3 453.9 75.0 451.4 76.3 447.1 76.3 443.4 77.0 442.2 76.6 441.3 75.0 440.8 60.3 441.4 55.5 435.4 55.3 434.8 55.8 435.0 58.0 438.2 66.0 438.4 69.3 436.8 72.3 433.4 73.0 429.4 72.1 428.0 70.7 425.8 56.0 425.4 55.4 424.5 55.4 422.8 63.7 422.8 66.3 424.4 74.3 425.8 76.5 429.8 79.7 430.3 87.0 434.1 92.7 434.5 94.0 434.2 96.7 431.1 100.2 428.1 101.3 424.8 100.9 421.4 99.1 418.4 98.2 415.8 98.6 414.0 99.7 415.1 108.0 418.1 123.3 417.9 126.3 416.1 129.0 413.8 130.0 410.4 129.4 407.8 129.6 401.4 132.0 389.4 133.0 383.8 132.5 376.1 130.0 371.4 130.0 369.1 129.3 366.8 127.3 363.5 123.3 363.1 118.3 363.7 113.3 365.1 111.3 367.4 110.7 371.1 111.0 378.1 110.3 380.4 109.7 382.3 108.3 383.3 104.3 386.0 101.3 386.0 96.3 388.4 93.0 391.8 90.3 392.6 89.0 392.2 85.7 389.4 78.7 391.3 73.7 391.0 72.3 387.4 67.8 385.4 67.0 381.1 66.5 378.9 65.0 377.8 62.0 378.8 56.7 378.4 55.4Z" fill="#FF8000" stroke="#000" stroke-width="0.55" stroke-opacity="0.85" fill-rule="evenodd"/><path d="M417.8 313.4 419.4 318.4 420.1 319.0 453.8 319.0 454.4 318.4 452.8 312.7 453.5 306.7 452.8 305.4 450.8 304.7 438.4 306.0 430.4 303.9 427.8 303.9 422.4 305.8 421.6 307.0 421.0 310.4 418.2 312.4ZM470.4 279.7 472.4 280.7 473.1 282.7 471.0 292.0 470.1 293.1 468.8 293.4 465.8 291.7 463.6 287.4 461.4 285.4 460.8 284.0 461.4 282.8 464.1 281.1 467.1 279.9ZM508.4 276.1 509.4 277.0 508.4 278.2 507.5 277.4ZM445.8 262.5 447.1 264.7 446.9 268.4 445.4 270.1 443.1 270.2 442.0 269.4 441.9 267.4 444.4 263.0ZM462.8 258.8 465.0 260.4 465.6 263.0 464.8 264.2 461.6 265.7 460.5 271.0 459.1 272.5 457.8 273.0 456.0 271.0 455.4 267.4 455.9 264.4 457.3 261.7 459.1 259.7 460.4 258.8ZM364.6 247.0 366.1 245.5 368.8 245.4 378.1 247.2 380.0 249.0 380.3 251.7 379.1 253.5 376.5 255.4 374.1 258.5 371.4 259.4 368.1 259.2 366.4 258.3 365.6 257.0ZM395.8 220.5 398.1 219.7 401.1 219.7 403.1 220.4 404.2 221.4 405.8 225.0 408.1 228.7 407.4 231.7 405.4 233.9 401.8 235.0 398.1 235.0 395.8 233.7 394.1 225.0 394.2 222.4ZM458.4 215.6 467.4 216.0 473.1 214.7 484.8 217.4 490.2 222.7 491.7 230.7 488.6 234.0 485.0 239.7 480.4 243.7 480.1 245.0 481.4 250.7 480.1 255.7 479.9 258.7 478.4 260.5 476.4 260.2 473.1 255.8 468.8 253.5 467.2 252.0 465.6 244.0 463.8 240.8 461.4 240.0 457.4 240.0 454.8 239.3 453.4 238.4 448.2 232.0 447.8 228.7 448.7 225.7 454.8 221.7 456.2 219.7 457.1 217.0ZM546.8 212.1 548.1 212.5 548.8 213.7 548.1 215.0 546.1 215.5 544.8 214.0 545.4 212.8ZM501.4 212.0 503.2 213.0 503.8 216.7 503.0 219.4 500.4 220.7 499.4 220.4 498.6 219.4 498.4 215.0 499.2 213.0ZM544.2 178.4 546.4 177.4 554.1 177.8 554.7 178.7 554.8 181.4 556.0 186.4 555.6 187.6 554.8 188.2 547.4 188.0 545.8 187.3 544.6 185.4 543.8 182.0ZM375.1 176.5 376.4 177.4 377.3 179.0 377.8 181.4 377.2 184.0 376.3 186.0 373.8 187.8 371.8 187.9 370.6 187.0 369.9 185.7 370.0 180.7 372.1 177.7 373.8 176.6ZM588.1 169.1 585.8 169.9 585.1 171.7 587.5 180.0 590.2 183.0 591.2 185.0 591.8 188.0 590.8 196.0 591.4 197.2 592.8 197.6 594.8 196.9 598.8 193.4 598.8 171.7 598.1 171.0ZM348.1 164.6 349.2 165.7 349.4 167.7 347.8 174.4 344.8 177.4 341.8 177.4 340.5 176.0 339.8 173.7 340.2 169.4 341.8 167.0 344.1 165.0 346.1 164.4ZM392.1 158.0 393.4 157.6 394.6 159.4 395.8 165.7 396.1 172.7 396.6 175.4 397.8 177.3 399.4 177.7 400.8 177.2 403.8 172.7 405.8 171.6 415.4 171.6 416.2 172.4 417.3 176.0 421.3 179.7 420.8 190.7 421.5 192.4 423.4 193.5 426.4 194.0 428.7 193.2 430.5 190.4 431.8 189.5 436.8 189.4 438.8 190.1 441.0 193.7 443.8 196.0 446.4 199.8 453.1 202.8 454.6 204.0 455.8 207.7 455.8 211.0 454.8 213.0 448.8 215.8 446.3 220.0 445.1 221.1 439.4 221.4 433.1 223.0 423.8 221.1 420.1 219.6 414.8 218.8 410.8 216.4 408.0 213.0 407.8 211.0 411.1 203.0 410.9 193.7 408.8 190.0 402.4 185.5 399.1 184.4 394.8 184.2 392.8 182.7 390.4 174.0 390.4 171.4 392.0 165.0 391.4 159.4ZM515.2 156.1 516.8 155.7 522.4 157.4 526.4 159.7 527.4 162.7 526.6 166.7 525.8 167.9 524.1 168.8 521.1 169.0 518.4 168.3 516.4 167.0 515.6 165.7 514.4 158.4ZM598.7 151.1 595.4 151.0 590.4 152.0 585.8 151.8 584.8 152.1 583.9 153.4 582.7 160.0 582.9 162.4 584.1 164.4 589.8 167.0 592.4 166.8 594.8 165.5 598.7 161.6ZM346.8 141.9 348.8 142.5 350.0 144.4 350.0 147.0 348.4 148.6 346.8 148.3 345.3 145.7 345.2 143.4ZM404.4 140.6 406.4 140.6 413.8 143.8 415.3 145.7 418.2 155.4 420.1 156.5 426.8 157.9 428.2 159.4 428.2 161.0 426.8 162.4 421.1 163.2 420.5 163.8 423.2 168.4 423.2 170.0 422.1 171.0 419.4 171.4 416.6 170.6 412.8 164.7 412.0 159.7 411.0 158.3 407.1 156.9 402.8 154.1 398.1 153.5 397.0 152.4 398.9 145.4ZM548.3 124.7 548.8 132.7 548.1 134.0 546.8 134.9 537.8 136.8 535.8 135.7 533.1 132.7 530.2 130.4 535.8 129.0 538.8 125.8 544.4 123.6 547.1 123.5ZM443.4 119.4 448.4 118.3 453.4 118.6 458.1 120.1 460.2 123.0 462.4 124.6 471.1 125.0 473.4 125.5 475.3 126.7 475.8 128.0 475.5 130.4 473.6 134.7 471.1 137.0 466.8 138.4 465.8 140.0 468.0 149.7 469.1 150.9 471.8 152.1 473.0 153.7 472.4 158.7 471.1 160.3 463.1 162.8 461.1 162.8 459.7 161.4 458.3 157.4 453.1 154.0 450.7 149.5 448.8 148.7 444.1 149.0 442.2 148.0 441.4 146.0 441.8 143.4 445.1 132.4 444.6 128.7 442.1 122.0 442.4 120.7ZM451.8 85.3 455.4 87.2 460.1 87.9 461.2 89.0 461.4 91.0 459.0 97.0 457.0 100.3 454.2 103.0 452.6 107.0 451.4 108.0 450.1 108.2 447.8 107.3 442.4 103.7 440.7 101.7 440.1 99.7 442.0 91.3 443.2 89.0 449.8 85.6ZM506.1 56.0 505.8 63.0 510.2 69.3 510.1 74.7 510.9 76.7 512.8 77.8 518.4 78.6 522.4 79.9 526.4 83.6 528.4 84.3 535.8 81.7 537.8 81.7 542.8 83.0 549.1 82.7 551.4 82.0 554.8 79.6 557.8 78.6 560.2 76.0 564.6 66.7 567.1 64.7 568.0 63.0 566.8 56.0 566.1 55.3 506.8 55.3ZM598.6 65.9 596.4 65.9 593.8 67.0 591.9 68.7 589.8 72.3 584.1 74.1 581.8 79.0 580.4 80.0 576.8 81.2 572.3 86.3 570.8 89.0 565.2 91.0 563.4 95.7 561.1 98.1 553.4 101.6 550.4 102.3 547.4 101.2 542.4 96.4 541.1 96.0 538.8 96.4 535.1 99.3 530.8 104.9 528.1 105.8 524.8 105.9 523.4 106.7 517.6 115.0 513.1 117.7 509.1 122.2 497.8 125.7 492.4 125.7 483.1 123.4 479.4 120.5 477.4 119.7 470.1 121.0 460.4 118.8 459.0 117.0 458.8 111.7 459.4 108.0 460.2 106.0 464.1 102.3 465.2 100.3 465.7 92.3 467.6 86.3 468.4 85.2 470.1 85.2 472.1 88.6 475.8 90.0 481.1 90.3 487.8 89.1 488.6 88.3 487.8 86.9 482.4 84.1 480.1 83.3 474.4 83.1 473.1 82.6 471.8 81.0 471.1 78.7 471.1 76.0 474.1 67.3 473.1 56.0 472.4 55.3 466.3 55.5 465.0 60.7 461.6 67.0 458.2 71.3 457.1 76.0 455.8 77.3 453.1 78.0 447.1 78.0 441.1 79.0 432.1 74.6 430.1 74.3 429.0 74.8 429.2 75.7 431.8 77.4 432.6 78.7 431.8 84.3 432.9 87.7 436.2 91.7 437.0 94.7 436.8 96.7 433.9 108.0 432.8 110.0 430.8 111.1 420.1 112.8 418.6 114.0 418.4 116.3 419.6 122.0 421.0 125.0 421.1 127.7 419.8 130.4 417.8 131.5 415.4 131.7 409.1 130.4 402.4 133.1 392.8 135.4 384.4 136.4 377.1 132.2 369.8 131.1 364.8 128.1 360.6 126.7 360.1 125.3 360.8 119.7 360.2 116.7 357.4 111.8 355.8 110.8 351.4 109.9 348.7 106.5 344.4 104.6 343.0 101.7 341.4 100.3 335.3 99.6 335.2 185.6 335.8 186.0 337.8 185.8 343.4 183.2 348.4 182.0 356.8 183.3 359.1 184.1 360.4 186.7 360.3 188.7 359.3 190.7 356.8 193.0 352.4 193.8 351.7 195.0 354.6 198.0 355.9 200.4 357.1 201.0 364.4 199.4 374.8 198.4 376.8 199.1 378.0 201.0 378.2 203.4 376.1 211.0 376.6 213.7 380.4 222.4 380.3 225.0 378.8 226.9 370.4 229.7 367.8 229.5 362.4 226.3 359.1 225.4 349.8 227.9 346.8 227.2 341.1 220.4 338.4 209.4 339.0 205.4 341.4 199.0 341.0 193.7 339.1 191.9 335.8 191.7 335.2 192.1 335.3 318.8 367.9 318.8 368.5 312.4 372.0 308.4 373.8 305.4 378.8 303.0 383.4 296.4 385.1 295.0 388.8 293.5 390.2 291.4 390.4 289.4 389.8 288.0 382.4 283.7 380.2 280.4 380.1 277.4 381.8 270.4 381.1 266.0 381.7 261.0 384.1 258.5 386.8 257.2 388.4 257.0 393.8 258.4 396.1 257.7 397.3 256.0 397.6 251.0 398.8 250.1 403.8 248.4 406.7 249.7 410.6 255.4 407.0 260.0 406.8 261.0 408.1 266.7 406.7 273.4 405.4 274.8 402.5 275.8 401.6 277.4 401.6 280.0 402.6 282.0 404.1 283.0 406.8 283.0 415.4 280.7 420.8 280.4 426.4 279.2 428.0 280.4 429.6 284.0 431.1 285.2 447.1 286.4 449.8 287.1 453.8 289.2 459.0 293.7 461.6 298.7 461.4 303.0 457.6 307.7 456.9 309.7 457.5 312.4 461.1 319.0 499.9 318.8 500.1 317.0 498.4 309.0 498.4 305.0 499.4 303.0 502.0 301.4 503.9 296.0 505.8 294.5 516.4 292.2 521.4 290.0 523.2 288.4 525.7 284.0 526.4 281.7 526.4 278.4 525.0 274.0 522.6 269.4 522.9 267.1 525.1 266.4 540.7 268.2 541.1 269.0 540.4 270.2 537.1 270.9 534.6 272.4 532.8 277.7 530.7 280.7 530.4 282.7 531.2 284.4 532.4 285.0 537.8 283.4 543.4 283.0 544.4 280.7 543.4 276.0 544.1 274.5 551.4 272.7 556.4 272.5 557.8 271.7 559.7 268.7 560.4 266.4 560.4 264.0 557.0 255.4 555.8 246.7 556.4 244.4 557.1 243.5 564.8 240.0 575.1 240.0 579.4 241.7 580.8 244.4 580.1 248.4 580.3 250.4 581.2 252.0 583.3 254.0 584.0 256.4 582.4 259.0 576.1 260.0 570.1 266.2 565.4 266.7 564.6 267.4 564.6 268.7 567.6 271.4 569.8 275.1 575.4 274.7 578.0 276.0 579.1 278.7 578.8 281.4 579.5 283.7 585.5 290.2 588.8 291.8 592.1 295.0 596.4 296.8 598.6 297.2 598.7 230.4 592.8 229.4 587.4 227.6 585.1 227.5 583.4 229.0 582.6 233.7 581.1 234.7 579.5 233.4 577.6 228.4 576.1 226.8 574.8 226.4 572.8 227.2 571.8 228.4 571.6 233.7 571.0 235.0 570.1 235.6 568.8 235.5 567.2 234.0 564.4 227.0 563.1 226.2 558.1 225.6 557.0 223.7 556.4 221.0 556.5 218.0 558.1 216.4 562.1 216.4 569.4 217.4 580.4 216.4 582.4 215.8 583.7 214.0 584.2 210.0 585.4 209.2 589.4 208.3 590.8 207.4 591.8 205.4 591.4 203.7 587.8 200.9 584.4 199.4 582.4 199.4 575.4 201.0 568.4 201.1 560.1 205.2 557.6 207.7 555.6 211.0 553.8 212.0 551.9 211.0 550.8 208.4 549.8 207.1 546.8 206.0 542.1 203.0 540.8 203.5 539.2 205.0 536.7 211.7 535.4 212.6 533.4 212.7 531.1 212.0 529.4 210.4 529.1 206.0 528.1 201.7 528.4 199.0 530.4 197.4 532.1 197.6 536.4 199.4 543.4 200.0 554.4 197.4 561.8 196.8 563.8 196.0 564.8 195.0 565.4 192.4 565.8 175.4 564.1 168.7 563.4 161.0 564.1 153.0 563.1 148.4 563.1 141.4 564.1 139.4 573.1 133.4 580.4 132.1 581.8 132.5 584.8 135.2 587.4 136.4 595.8 137.7 598.7 137.3 598.6 116.2 592.8 115.7 589.8 115.9 587.4 118.7 581.8 122.8 579.8 123.8 572.4 125.8 569.8 128.7 568.1 129.3 567.2 128.7 566.5 126.7 567.1 122.0 566.5 116.7 564.8 114.8 561.1 113.9 559.8 113.0 558.6 110.7 558.1 108.0 558.6 106.4 560.4 105.2 567.8 103.3 571.4 104.0 573.4 103.6 577.1 99.3 579.4 97.7 583.6 91.0 588.1 88.5 594.1 80.6 598.6 78.2ZM335.3 55.5 335.3 86.5 339.4 87.2 351.4 101.1 355.4 102.6 362.1 108.8 375.1 109.3 378.1 108.8 379.8 107.9 380.4 106.7 379.8 101.0 380.1 99.3 384.5 95.0 390.0 86.7 389.9 84.3 388.4 80.0 388.6 76.7 389.9 73.3 386.4 68.5 380.4 67.5 377.8 65.3 376.8 62.3 377.6 55.5Z" fill="#FF0000" stroke="#000" stroke-width="0.55" stroke-opacity="0.85" fill-rule="evenodd"/><path d="M489.1 307.1 487.0 308.7 486.4 310.7 486.6 312.4 488.8 314.8 491.4 314.8 493.5 313.0 494.0 311.4 493.6 309.4 492.1 307.4ZM449.8 280.4 448.8 282.4 449.8 284.6 452.8 286.0 455.0 285.6 455.7 283.7 454.4 280.8 451.8 279.8ZM588.1 231.3 586.5 233.0 583.6 239.0 584.0 242.0 585.4 243.8 588.8 245.4 591.8 248.8 595.1 250.2 598.4 250.6 598.8 250.0 598.7 231.8 591.8 231.0ZM371.4 192.7 368.8 189.9 366.1 188.6 364.8 188.6 356.4 194.9 355.9 196.7 356.8 198.0 358.1 198.7 366.4 197.1 370.4 195.6 371.3 194.4ZM588.7 174.4 588.2 176.0 588.6 178.4 590.1 180.2 593.1 181.4 598.6 181.1 598.8 175.4 598.4 174.7 590.8 173.4ZM598.6 152.6 596.4 152.4 591.4 153.8 589.9 155.7 590.5 158.0 593.1 159.0 598.6 157.5ZM405.7 133.7 405.5 134.7 406.1 135.6 412.1 138.8 415.1 138.9 416.4 137.7 416.3 136.0 415.4 134.7 411.1 131.9 408.1 131.8ZM361.8 131.0 361.0 132.4 361.0 134.0 363.1 136.9 366.8 138.0 369.2 136.7 369.8 135.4 369.5 134.0 366.8 131.2 364.1 130.0ZM536.5 100.3 536.2 102.7 537.4 103.9 546.1 106.6 548.2 105.7 548.2 104.7 547.1 103.0 542.1 98.4 539.1 98.1ZM463.1 96.3 462.1 96.3 460.6 97.7 459.0 101.0 459.2 102.1 461.4 101.8 463.4 100.3 464.1 98.3ZM477.0 87.3 478.1 88.8 480.4 89.3 483.1 88.6 484.2 87.3 483.4 86.2 481.4 85.3 478.4 85.7ZM450.4 81.0 448.8 79.8 445.8 79.9 443.1 81.2 442.4 82.0 442.2 83.3 443.8 84.8 446.4 84.9 449.1 83.3 450.2 82.0ZM465.1 76.0 462.8 75.6 460.0 77.7 458.4 81.0 458.6 82.7 459.4 83.9 461.4 84.7 463.1 84.6 465.6 82.0 466.8 79.0 466.1 77.0ZM598.6 67.2 596.8 67.3 594.1 68.5 590.8 73.6 585.2 75.4 582.8 80.3 577.8 82.5 571.8 90.6 566.4 92.1 563.4 98.3 558.1 101.1 557.3 102.5 560.4 102.7 567.1 101.0 571.4 101.3 572.8 100.7 574.4 98.3 577.6 95.7 582.1 88.3 586.8 86.3 590.8 80.7 594.1 77.6 598.6 75.8Z" fill="#C0C0C0" stroke="#000" stroke-width="0.55" stroke-opacity="0.85" fill-rule="evenodd"/></g><ellipse cx="466.85" cy="187.1" rx="133.25" ry="132.0" fill="none" stroke="#fff" stroke-width="7"/><ellipse cx="466.85" cy="187.1" rx="129.45" ry="128.2" fill="none" stroke="#300" stroke-width="0.6" stroke-opacity="0.45"/><clipPath id="k3"><ellipse cx="761.85" cy="187.0" rx="132.0" ry="130.7"/></clipPath><g clip-path="url(#k3)"><circle cx="761.85" cy="187.0" r="132.5" fill="#00FFFF"/><path d="M639.0 232.0 641.0 232.3 643.0 234.5 644.0 237.2 643.9 239.5 643.3 240.3 641.3 240.1 639.0 237.5 638.0 234.5 638.3 232.8ZM834.7 89.8 837.3 89.4 839.9 90.8 840.7 93.5 839.7 95.5 836.7 96.5 834.0 95.2 832.9 93.2 832.9 92.2ZM629.5 54.7 629.5 319.3 894.2 319.3 894.2 54.7Z" fill="#00FF80" stroke="#000" stroke-width="0.55" stroke-opacity="0.85" fill-rule="evenodd"/><path d="M738.1 306.6 739.7 306.2 740.5 306.8 740.5 307.4 739.0 307.8 738.1 307.2ZM805.3 302.8 805.8 301.5 807.3 300.0 810.7 298.8 815.0 299.5 816.5 300.6 817.0 301.8 816.5 303.5 815.0 305.0 810.7 306.8 808.0 306.6 806.7 306.0 805.7 304.8ZM671.9 276.8 673.3 275.4 675.3 275.4 677.5 276.8 678.3 278.8 676.7 280.6 674.7 280.6 672.1 278.8ZM637.3 228.8 639.3 228.5 640.7 229.0 644.6 233.5 646.1 237.2 647.0 241.2 646.9 243.5 646.0 244.6 644.0 244.7 641.3 243.3 637.8 239.2 636.2 235.8 635.7 233.2 635.9 230.8ZM637.5 178.5 639.3 177.6 640.4 178.5 640.4 179.5 639.7 180.3 638.7 180.4 637.5 179.5ZM881.0 136.8 883.5 138.5 884.3 141.8 882.8 145.8 879.7 147.8 878.3 147.4 877.3 146.2 876.7 142.5 878.2 138.5ZM871.8 126.6 872.7 126.2 873.6 126.6 874.1 127.5 873.6 128.8 872.7 129.1 871.8 128.5 871.3 127.5ZM662.3 105.4 663.4 106.2 663.5 107.5 662.7 108.7 661.3 109.0 660.3 107.8 660.3 106.8 661.3 105.6ZM832.3 88.3 834.3 87.3 837.0 87.0 839.7 87.8 841.3 88.9 842.8 90.8 843.3 92.8 843.2 94.5 841.9 96.8 839.7 98.3 836.3 98.5 832.3 96.6 830.7 94.5 830.3 93.2 830.8 90.2ZM702.0 74.6 704.0 73.8 706.3 74.6 707.5 76.2 707.2 78.5 705.0 79.8 702.3 79.4 701.0 77.2 701.1 75.8ZM800.3 70.6 803.0 70.3 805.2 72.2 806.0 74.5 804.7 76.9 802.7 77.2 800.2 75.5 799.3 72.5ZM779.1 61.2 781.0 59.6 783.3 59.6 785.3 60.8 785.9 62.8 784.3 64.4 781.3 64.4 779.4 62.8ZM629.5 54.7 629.5 319.3 894.2 319.3 894.2 54.7Z" fill="#00FF00" stroke="#000" stroke-width="0.55" stroke-opacity="0.85" fill-rule="evenodd"/><path d="M731.8 305.2 732.7 304.0 734.7 303.0 738.7 302.5 744.7 304.2 746.7 305.8 747.7 307.8 746.9 309.5 745.0 310.8 742.3 311.5 739.7 311.5 736.0 310.6 733.0 308.8 731.8 307.2ZM700.2 298.5 701.7 297.2 704.0 297.6 707.2 300.2 707.4 301.8 706.3 302.8 705.0 303.2 702.7 302.4 700.5 300.5ZM801.2 303.8 801.8 301.2 803.3 298.9 806.3 296.9 810.3 295.8 814.7 295.8 818.7 296.7 821.0 298.0 822.3 300.2 822.1 302.8 820.3 305.2 815.7 308.4 809.3 310.2 805.0 309.1 802.2 306.8ZM668.5 274.5 670.7 272.6 673.3 271.9 678.0 273.2 681.6 276.8 682.1 278.8 681.8 281.2 679.3 283.4 676.7 284.1 672.0 282.8 668.4 279.2 667.8 276.5ZM865.3 257.4 866.5 258.5 867.0 259.8 865.9 264.8 863.7 268.2 861.7 270.0 859.3 270.8 858.3 270.6 857.2 268.8 857.0 266.8 858.4 262.5 862.3 258.0 863.7 257.4ZM636.3 225.7 638.3 225.5 641.0 226.6 644.0 229.5 646.4 233.2 650.3 245.2 650.3 247.2 649.0 248.9 646.3 249.0 641.7 246.2 639.0 243.8 635.8 239.2 634.3 235.2 633.7 230.2 634.3 227.8ZM888.3 192.2 890.4 193.8 890.7 196.2 888.8 205.2 887.3 207.8 886.0 208.5 884.7 207.8 883.5 205.8 883.3 200.2 884.2 196.5 885.5 193.8 887.0 192.6ZM637.3 174.0 641.0 174.1 642.9 175.5 644.1 177.8 644.3 179.2 643.6 181.5 640.7 184.0 637.0 183.9 635.1 182.5 633.8 180.2 633.7 178.5 634.4 176.5ZM871.3 123.0 873.7 123.0 875.7 124.2 877.3 126.5 878.8 131.5 884.0 134.4 886.2 137.5 886.7 140.8 885.6 145.2 883.3 148.8 880.3 150.7 877.3 150.6 875.1 148.2 874.0 144.2 874.9 135.2 874.0 134.0 870.7 131.8 868.5 128.8 868.7 125.5ZM662.7 102.2 665.3 103.5 666.7 106.8 665.9 109.2 664.7 110.8 661.0 112.4 658.1 110.8 657.1 107.5 657.7 105.5 659.0 103.6 661.3 102.3ZM828.7 88.2 831.7 85.9 835.7 84.8 840.7 85.9 843.0 87.5 844.8 89.8 845.7 92.8 844.9 96.5 842.3 99.3 840.0 100.2 837.0 100.2 832.7 98.8 829.3 96.2 827.9 93.5 827.7 90.2ZM817.9 85.2 819.3 84.0 821.0 84.0 822.9 85.2 823.3 86.8 822.3 88.0 820.0 88.2 818.1 86.8ZM700.0 73.2 703.0 71.8 705.3 71.8 707.3 72.6 710.1 75.2 710.1 78.8 708.3 80.8 706.3 82.0 704.0 82.2 701.7 81.4 699.5 79.5 698.6 77.5 698.8 75.2ZM797.7 67.3 800.0 66.5 803.3 67.0 807.5 70.5 808.8 73.2 809.0 76.5 808.2 78.5 806.7 80.0 804.3 80.8 802.0 80.4 799.3 78.7 797.5 76.5 796.3 73.5 796.0 70.2ZM775.4 60.5 776.7 58.6 779.0 57.4 781.3 56.9 784.3 57.4 788.6 59.8 789.8 61.5 790.2 63.8 789.0 65.5 787.0 66.6 784.7 67.2 780.3 66.7 777.7 65.4 775.8 63.5ZM629.5 54.7 629.5 319.3 894.2 319.3 894.2 54.7Z" fill="#FFFF00" stroke="#000" stroke-width="0.55" stroke-opacity="0.85" fill-rule="evenodd"/><path d="M727.4 304.5 728.7 302.6 732.0 300.7 739.3 300.2 745.7 301.7 749.7 303.7 752.1 306.2 752.3 308.5 751.0 311.1 747.0 313.3 744.3 313.8 739.0 313.8 733.0 312.1 730.0 310.2 727.8 307.5ZM696.4 296.5 698.0 294.9 700.3 294.2 704.3 295.2 710.0 299.2 711.5 301.8 711.3 303.5 709.3 305.5 706.7 306.2 702.0 305.1 699.0 303.2 697.1 301.2 696.0 298.2ZM825.2 297.2 826.3 300.8 824.9 304.8 820.0 309.4 814.0 312.3 809.7 313.2 804.3 312.4 800.0 309.8 797.5 305.8 797.6 301.8 799.3 298.8 802.0 296.4 807.7 293.7 812.0 292.8 817.3 293.2 822.0 294.6ZM665.5 272.5 668.0 270.2 671.3 269.2 675.7 269.4 679.3 270.9 683.3 274.2 684.9 276.8 685.7 279.5 684.9 282.8 682.7 285.4 678.7 286.8 674.3 286.6 670.7 285.1 668.3 283.5 665.3 279.8 664.3 275.5ZM867.3 253.5 869.4 255.5 870.0 258.5 869.2 262.8 867.3 266.8 864.7 270.5 861.7 273.3 859.0 274.6 856.7 274.5 854.7 272.5 854.3 268.8 855.5 264.2 857.4 260.2 859.3 257.5 862.3 254.7 865.0 253.4ZM634.7 222.6 637.7 222.2 641.0 223.6 643.6 225.8 647.6 231.5 652.5 243.5 653.3 247.2 652.8 250.2 650.7 252.2 649.3 252.7 646.7 252.3 643.0 250.3 638.0 245.8 634.8 241.2 632.2 235.2 631.3 230.5 632.4 224.8ZM888.7 188.2 891.0 188.9 893.2 190.8 894.0 193.2 894.0 195.8 890.6 210.2 888.3 213.2 885.7 214.2 882.8 212.5 880.9 208.8 880.1 203.5 880.3 199.8 881.2 195.8 882.9 191.8 885.3 189.3ZM638.7 170.8 642.7 171.8 644.7 173.2 646.3 175.5 647.0 177.8 646.8 181.2 645.3 183.8 642.7 186.1 639.3 187.2 636.3 186.6 633.3 184.8 631.8 182.5 631.0 180.2 631.2 176.8 633.3 173.2 635.3 171.8ZM654.6 124.0 655.0 124.8 653.8 131.2 651.7 133.3 649.3 133.3 647.8 131.5 647.9 129.2 653.3 124.2ZM870.7 120.7 874.3 120.6 877.7 122.5 882.0 127.8 886.4 132.2 888.5 136.2 888.7 141.8 887.6 145.8 884.0 151.5 880.0 153.9 878.0 154.2 876.0 153.6 874.1 152.2 872.8 150.2 871.3 145.8 871.2 137.2 866.5 129.5 866.2 126.8 866.9 123.8 868.7 121.8ZM664.3 100.0 667.0 101.5 668.3 103.5 669.0 105.8 668.5 109.2 667.5 111.2 665.0 113.6 661.7 115.4 658.3 115.7 656.2 113.8 654.7 109.2 655.2 105.5 656.1 103.5 658.7 101.0 661.3 99.8ZM814.6 83.8 816.0 82.3 818.3 81.5 822.0 81.7 827.3 83.8 834.7 82.5 840.0 83.0 844.3 85.5 847.3 89.2 848.3 93.2 847.8 96.5 845.3 100.2 842.3 101.6 839.0 101.8 834.0 100.6 830.7 99.1 827.3 96.7 823.7 92.0 818.0 90.1 816.7 89.2 814.5 86.2ZM699.0 71.2 703.0 69.5 706.3 69.7 709.3 70.8 714.2 74.8 714.7 76.2 714.3 78.2 712.0 81.2 708.7 83.4 705.3 84.2 701.0 83.6 698.0 81.2 696.3 77.8 696.5 74.5ZM772.5 58.5 774.7 56.4 776.7 55.4 783.3 54.8 788.3 56.6 795.7 62.1 804.3 64.2 808.0 66.8 810.6 70.5 812.0 74.8 812.0 78.8 811.4 80.8 809.7 82.7 806.7 83.8 803.7 83.6 801.0 82.4 796.3 78.8 794.1 75.5 792.2 71.2 791.0 70.0 779.7 68.9 776.7 67.8 774.3 66.2 771.8 62.5 771.7 60.8ZM629.5 54.7 629.5 319.3 894.2 319.3 894.2 54.7Z" fill="#FF8000" stroke="#000" stroke-width="0.55" stroke-opacity="0.85" fill-rule="evenodd"/><path d="M719.7 304.8 720.1 303.5 722.7 300.8 728.0 297.7 735.0 296.5 739.7 296.8 748.3 298.7 754.7 301.4 757.9 304.8 758.7 308.8 757.5 311.8 753.7 315.1 749.7 316.6 741.7 317.5 733.3 316.0 727.7 313.4 723.0 309.8ZM691.8 293.8 694.0 291.6 697.7 290.5 702.7 291.9 715.3 300.2 718.1 303.5 718.1 305.2 714.0 308.4 708.7 309.8 704.3 309.2 700.0 307.8 695.7 304.8 692.4 300.8 691.3 297.2ZM829.2 295.2 830.7 299.2 830.5 303.2 829.3 306.2 827.7 308.5 823.7 312.3 817.0 316.0 811.0 317.5 806.0 317.5 802.0 316.6 799.0 315.4 795.3 312.8 792.1 307.8 791.7 303.8 793.3 300.2 798.0 296.0 808.0 291.0 815.0 289.2 819.0 289.2 824.3 290.8 827.7 293.2ZM661.2 269.5 664.7 266.6 669.0 265.2 675.7 265.4 682.3 268.2 687.3 272.5 689.6 276.2 690.7 280.2 689.6 285.5 687.0 288.6 681.3 290.8 675.3 290.8 669.3 288.9 664.0 285.2 660.7 280.5 659.6 277.5 659.3 274.2ZM870.3 248.2 873.0 250.8 874.0 254.8 872.8 261.8 870.6 267.2 866.0 273.8 862.0 277.6 857.3 280.0 853.7 279.8 851.4 277.5 851.0 273.5 854.5 261.5 856.8 256.5 859.0 253.2 863.0 249.7 866.7 248.0ZM637.7 197.8 640.3 199.0 642.5 201.2 643.5 203.2 643.7 206.2 642.5 209.2 640.7 211.2 638.3 212.8 636.0 213.5 634.0 212.7 631.9 210.5 630.5 207.8 630.0 205.2 630.8 202.2 632.3 199.8 635.3 198.0ZM650.9 160.5 652.0 159.2 654.3 158.5 657.0 159.3 657.9 160.8 656.3 162.4 654.0 162.8 651.7 162.0ZM872.7 116.8 876.3 117.4 881.7 119.2 885.0 121.8 890.4 129.8 892.3 136.8 892.3 139.5 891.2 145.5 888.5 151.2 883.7 156.6 881.0 158.2 877.7 159.0 875.0 158.7 872.3 157.4 869.7 154.8 867.8 151.8 866.7 148.2 866.7 138.5 863.9 131.5 863.0 127.8 863.5 123.8 865.7 120.2 868.7 117.9ZM667.0 97.1 670.0 99.5 671.9 102.8 672.3 107.5 671.3 111.2 669.0 114.5 664.2 119.2 662.5 122.5 660.6 128.8 657.3 133.8 655.3 135.6 652.7 137.0 650.3 137.2 648.3 136.6 645.7 134.2 644.7 129.8 646.5 123.2 650.8 113.8 651.3 107.2 652.4 103.5 655.1 99.5 659.0 96.9 664.0 96.2ZM733.3 66.2 734.0 68.8 734.0 80.5 733.5 83.2 732.0 85.5 728.7 87.3 723.7 87.5 716.3 85.5 713.0 85.7 706.7 87.5 702.0 87.2 699.0 86.1 696.7 84.5 694.5 82.2 693.2 79.5 692.7 75.5 694.1 71.5 697.0 68.4 700.3 66.7 702.7 66.2 713.3 66.6 720.3 62.9 725.0 61.7 729.7 62.6 731.9 64.2ZM629.5 54.7 629.3 171.2 635.7 167.4 639.7 166.8 643.7 167.9 647.3 170.3 649.9 173.8 651.0 177.5 651.0 180.5 649.9 183.8 648.0 186.3 642.3 189.9 639.7 190.9 637.7 191.2 634.0 190.1 629.4 186.6 629.3 220.0 632.7 216.6 635.7 215.6 638.0 216.7 642.7 220.2 646.4 224.2 650.3 230.2 655.8 243.5 656.7 246.8 656.5 251.5 654.3 255.2 652.3 256.6 650.0 257.2 646.7 256.6 641.7 253.9 636.3 248.8 632.4 243.2 629.3 236.2 629.5 319.3 894.2 319.3 894.3 211.9 892.9 215.5 890.0 219.2 887.3 220.7 884.3 220.6 882.0 219.2 879.1 215.5 877.5 211.5 876.7 207.2 876.7 199.8 877.3 196.2 879.1 190.5 881.0 187.5 884.3 184.9 887.7 183.8 891.3 184.4 893.9 185.6 894.3 185.2 894.2 54.7 792.4 54.6 797.0 57.1 804.3 59.6 809.0 62.5 812.5 66.2 814.9 70.5 816.9 75.5 819.0 77.4 827.7 79.4 835.3 78.5 838.7 78.9 843.7 80.4 847.7 83.2 851.3 88.2 852.7 94.5 852.2 97.5 850.8 100.5 849.0 102.3 846.0 103.5 840.7 103.5 831.3 100.8 821.7 94.9 801.7 85.0 795.0 80.2 788.0 73.9 777.7 72.0 771.7 69.4 768.3 66.5 766.2 62.8 766.2 58.8 768.9 54.9 768.7 54.5Z" fill="#FF0000" stroke="#000" stroke-width="0.55" stroke-opacity="0.85" fill-rule="evenodd"/><path d="M812.5 283.5 811.3 282.8 808.7 282.8 803.7 284.0 799.0 285.9 790.0 291.1 787.1 293.8 786.5 295.8 787.3 296.4 789.3 296.5 796.3 294.1 809.3 287.3 812.0 285.2ZM706.3 282.0 704.8 283.5 704.0 285.5 704.1 287.8 705.1 289.8 707.7 292.3 710.3 293.8 712.7 294.5 715.3 294.0 716.7 292.5 717.0 291.2 716.8 287.8 715.5 284.8 713.0 282.3 711.0 281.4 708.7 281.2ZM681.5 262.5 682.3 264.4 685.3 266.0 688.3 266.2 689.9 265.2 689.5 263.6 687.0 262.0 683.7 261.5ZM852.3 253.9 850.7 254.2 849.2 255.8 846.5 262.2 846.0 268.8 847.0 270.8 848.0 270.7 849.5 269.2 852.2 263.2 853.3 257.8 853.2 254.8ZM652.8 217.8 652.1 219.8 653.5 227.2 656.8 235.8 661.6 245.5 663.9 253.2 663.3 254.4 660.8 256.2 660.2 258.5 661.3 260.3 663.7 260.7 665.8 259.2 666.1 255.2 668.5 251.8 669.0 249.8 668.8 247.2 665.6 241.8 662.8 233.5 658.9 224.8 655.0 218.8 653.7 217.8ZM871.3 207.8 869.6 209.2 869.3 212.8 870.3 214.8 871.7 215.4 873.1 214.2 873.7 211.5 872.9 208.8ZM645.3 192.8 645.1 194.5 646.3 196.5 649.7 198.2 652.0 198.5 654.0 198.0 655.3 197.2 656.5 195.5 656.5 193.5 655.8 192.2 653.0 190.3 648.7 190.4 646.7 191.3ZM888.3 170.4 887.3 170.3 886.0 171.2 883.4 174.5 882.7 176.8 882.8 178.5 883.3 179.2 885.3 178.8 887.9 175.8 889.0 172.8 888.9 171.2ZM814.1 97.9 815.7 100.2 818.0 101.8 827.7 105.6 842.7 109.2 845.3 109.0 846.1 108.4 844.7 106.9 835.7 104.0 821.0 97.7 816.7 96.8ZM787.5 80.2 787.3 81.5 788.6 84.2 794.3 89.6 801.7 93.3 804.3 93.7 805.5 93.1 805.3 91.5 803.7 89.2 797.3 83.7 791.0 80.0 788.7 79.5Z" fill="#C0C0C0" stroke="#000" stroke-width="0.55" stroke-opacity="0.85" fill-rule="evenodd"/></g><ellipse cx="761.85" cy="187.0" rx="134.0" ry="132.7" fill="none" stroke="#fff" stroke-width="7"/><ellipse cx="761.85" cy="187.0" rx="130.2" ry="128.89999999999998" fill="none" stroke="#300" stroke-width="0.6" stroke-opacity="0.45"/><clipPath id="cb"><rect x="111.6" y="356" width="353.4" height="259"/></clipPath><line x1="253.5" y1="358" x2="253.5" y2="614" stroke="#4472C4" stroke-width="5" stroke-dasharray="16 6.8" stroke-dashoffset="-1"/><g clip-path="url(#cb)"><polyline points="112.0,592.5 213.0,592.2 232.4,591.8 253.0,583.0 273.4,566.0 293.4,544.4 313.6,518.4 333.8,482.0 354.0,443.0 374.0,420.6 394.3,397.5 414.2,379.5 424.5,374.5 434.8,369.8" fill="none" stroke="#000" stroke-width="5.5" stroke-linejoin="round" stroke-linecap="round"/><circle cx="112.0" cy="592.5" r="7.0" fill="#000"/><circle cx="213.0" cy="592.2" r="7.0" fill="#000"/><circle cx="232.4" cy="591.8" r="7.0" fill="#000"/><circle cx="253.0" cy="583.0" r="7.0" fill="#000"/><circle cx="273.4" cy="566.0" r="7.0" fill="#000"/><circle cx="293.4" cy="544.4" r="7.0" fill="#000"/><circle cx="313.6" cy="518.4" r="7.0" fill="#000"/><circle cx="333.8" cy="482.0" r="7.0" fill="#000"/><circle cx="354.0" cy="443.0" r="7.0" fill="#000"/><circle cx="374.0" cy="420.6" r="7.0" fill="#000"/><circle cx="394.3" cy="397.5" r="7.0" fill="#000"/><circle cx="414.2" cy="379.5" r="7.0" fill="#000"/><circle cx="424.5" cy="374.5" r="7.0" fill="#000"/><circle cx="434.8" cy="369.8" r="7.0" fill="#000"/></g><rect x="111.6" y="356" width="353.4" height="259" fill="none" stroke="#000" stroke-width="3.2"/><line x1="212.57" y1="615" x2="212.57" y2="605.5" stroke="#000" stroke-width="3"/><line x1="212.57" y1="356" x2="212.57" y2="365.5" stroke="#000" stroke-width="3"/><line x1="313.53999999999996" y1="615" x2="313.53999999999996" y2="605.5" stroke="#000" stroke-width="3"/><line x1="313.53999999999996" y1="356" x2="313.53999999999996" y2="365.5" stroke="#000" stroke-width="3"/><line x1="414.5100000000001" y1="615" x2="414.5100000000001" y2="605.5" stroke="#000" stroke-width="3"/><line x1="414.5100000000001" y1="356" x2="414.5100000000001" y2="365.5" stroke="#000" stroke-width="3"/><line x1="111.6" y1="592.5" x2="121.1" y2="592.5" stroke="#000" stroke-width="3"/><line x1="465" y1="592.5" x2="455.5" y2="592.5" stroke="#000" stroke-width="3"/><line x1="111.6" y1="497.75" x2="121.1" y2="497.75" stroke="#000" stroke-width="3"/><line x1="465" y1="497.75" x2="455.5" y2="497.75" stroke="#000" stroke-width="3"/><line x1="111.6" y1="403.0" x2="121.1" y2="403.0" stroke="#000" stroke-width="3"/><line x1="465" y1="403.0" x2="455.5" y2="403.0" stroke="#000" stroke-width="3"/><text x="111.6" y="648" font-family="Liberation Serif" font-weight="bold" font-size="28" text-anchor="middle" >0.5</text><text x="212.57" y="648" font-family="Liberation Serif" font-weight="bold" font-size="28" text-anchor="middle" >0.6</text><text x="313.53999999999996" y="648" font-family="Liberation Serif" font-weight="bold" font-size="28" text-anchor="middle" >0.7</text><text x="414.5100000000001" y="648" font-family="Liberation Serif" font-weight="bold" font-size="28" text-anchor="middle" >0.8</text><text x="100" y="601.8" font-family="Liberation Serif" font-weight="bold" font-size="28" text-anchor="end" >0.000</text><text x="100" y="507.05" font-family="Liberation Serif" font-weight="bold" font-size="28" text-anchor="end" >0.001</text><text x="100" y="412.3" font-family="Liberation Serif" font-weight="bold" font-size="28" text-anchor="end" >0.002</text><text x="274.7" y="671" font-family="Liberation Serif" font-weight="bold" font-size="35" text-anchor="middle" >ρ</text><text x="136.8" y="425.3" font-family="Liberation Serif" font-weight="bold" font-size="37.5" text-anchor="start" >(b)</text><text transform="translate(33,545.5) rotate(-90) scale(0.97,1)" font-family="Liberation Serif" font-weight="bold" font-size="35" text-anchor="start">[v<tspan font-size="21" dy="3">t</tspan><tspan dy="-3">(r)/r]</tspan><tspan font-size="20" dy="2.5">0</tspan></text><clipPath id="cc"><rect x="633.5" y="356" width="354.0" height="261"/></clipPath><line x1="919.2" y1="358" x2="919.2" y2="616" stroke="#4472C4" stroke-width="5" stroke-dasharray="16 6.8"/><g clip-path="url(#cc)"><polyline points="636.0,366.5 687.6,377.6 742.4,403.6 797.0,393.0 852.5,452.5 880.0,450.0 907.0,482.0 934.4,576.8 961.7,602.5" fill="none" stroke="#000" stroke-width="5.5" stroke-linejoin="round" stroke-linecap="round"/><circle cx="636.0" cy="366.5" r="7.0" fill="#000"/><circle cx="687.6" cy="377.6" r="7.0" fill="#000"/><circle cx="742.4" cy="403.6" r="7.0" fill="#000"/><circle cx="797.0" cy="393.0" r="7.0" fill="#000"/><circle cx="852.5" cy="452.5" r="7.0" fill="#000"/><circle cx="880.0" cy="450.0" r="7.0" fill="#000"/><circle cx="907.0" cy="482.0" r="7.0" fill="#000"/><circle cx="934.4" cy="576.8" r="7.0" fill="#000"/><circle cx="961.7" cy="602.5" r="7.0" fill="#000"/></g><rect x="633.5" y="356" width="354.0" height="261" fill="none" stroke="#000" stroke-width="3.2"/><line x1="687.96" y1="617" x2="687.96" y2="607.5" stroke="#000" stroke-width="3"/><line x1="687.96" y1="356" x2="687.96" y2="365.5" stroke="#000" stroke-width="3"/><line x1="770.1000000000001" y1="617" x2="770.1000000000001" y2="607.5" stroke="#000" stroke-width="3"/><line x1="770.1000000000001" y1="356" x2="770.1000000000001" y2="365.5" stroke="#000" stroke-width="3"/><line x1="852.2400000000002" y1="617" x2="852.2400000000002" y2="607.5" stroke="#000" stroke-width="3"/><line x1="852.2400000000002" y1="356" x2="852.2400000000002" y2="365.5" stroke="#000" stroke-width="3"/><line x1="934.3800000000003" y1="617" x2="934.3800000000003" y2="607.5" stroke="#000" stroke-width="3"/><line x1="934.3800000000003" y1="356" x2="934.3800000000003" y2="365.5" stroke="#000" stroke-width="3"/><line x1="633.5" y1="555.58" x2="643.0" y2="555.58" stroke="#000" stroke-width="3"/><line x1="987.5" y1="555.58" x2="978.0" y2="555.58" stroke="#000" stroke-width="3"/><line x1="633.5" y1="462.79" x2="643.0" y2="462.79" stroke="#000" stroke-width="3"/><line x1="987.5" y1="462.79" x2="978.0" y2="462.79" stroke="#000" stroke-width="3"/><line x1="633.5" y1="370.0" x2="643.0" y2="370.0" stroke="#000" stroke-width="3"/><line x1="987.5" y1="370.0" x2="978.0" y2="370.0" stroke="#000" stroke-width="3"/><text x="687.96" y="651" font-family="Liberation Serif" font-weight="bold" font-size="28" text-anchor="middle" >0.72</text><text x="770.1000000000001" y="651" font-family="Liberation Serif" font-weight="bold" font-size="28" text-anchor="middle" >0.75</text><text x="852.2400000000002" y="651" font-family="Liberation Serif" font-weight="bold" font-size="28" text-anchor="middle" >0.78</text><text x="934.3800000000003" y="651" font-family="Liberation Serif" font-weight="bold" font-size="28" text-anchor="middle" >0.81</text><text x="621.5" y="564.88" font-family="Liberation Serif" font-weight="bold" font-size="28" text-anchor="end" >0.3</text><text x="621.5" y="472.09000000000003" font-family="Liberation Serif" font-weight="bold" font-size="28" text-anchor="end" >0.6</text><text x="621.5" y="379.3" font-family="Liberation Serif" font-weight="bold" font-size="28" text-anchor="end" >0.9</text><text x="819.5" y="671" font-family="Liberation Serif" font-weight="bold" font-size="35" text-anchor="middle" >ρ</text><text x="680.2" y="425" font-family="Liberation Serif" font-weight="bold" font-size="37.5" text-anchor="start" >(c)</text><text transform="translate(564.5,483.8) rotate(-90)" font-family="Liberation Serif" font-weight="bold" font-style="italic" font-size="34" text-anchor="start">C<tspan font-size="22" dy="4.5" font-style="normal">1</tspan></text><clipPath id="cd"><rect x="112.5" y="706.5" width="352.8" height="259.9"/></clipPath><g clip-path="url(#cd)"><polyline points="140.6,942.3 199.6,942.3 258.5,942.3 317.5,942.3 376.4,935.7 435.4,725.1" fill="none" stroke="#000000" stroke-width="6" stroke-linejoin="round" stroke-linecap="round"/><rect x="134.1" y="935.8" width="13.0" height="13.0" fill="#000000"/><rect x="193.1" y="935.8" width="13.0" height="13.0" fill="#000000"/><rect x="252.0" y="935.8" width="13.0" height="13.0" fill="#000000"/><rect x="311.0" y="935.8" width="13.0" height="13.0" fill="#000000"/><rect x="369.9" y="929.2" width="13.0" height="13.0" fill="#000000"/><rect x="428.9" y="718.6" width="13.0" height="13.0" fill="#000000"/><polyline points="140.6,942.3 199.6,942.3 258.5,942.3 317.5,942.3 376.4,939.5 435.4,821.4" fill="none" stroke="#FF0000" stroke-width="6" stroke-linejoin="round" stroke-linecap="round"/><circle cx="140.6" cy="942.3" r="7.5" fill="#FF0000"/><circle cx="199.6" cy="942.3" r="7.5" fill="#FF0000"/><circle cx="258.5" cy="942.3" r="7.5" fill="#FF0000"/><circle cx="317.5" cy="942.3" r="7.5" fill="#FF0000"/><circle cx="376.4" cy="939.5" r="7.5" fill="#FF0000"/><circle cx="435.4" cy="821.4" r="7.5" fill="#FF0000"/><polyline points="140.6,942.3 199.6,942.3 258.5,942.3 317.5,942.3 376.4,941.4 435.4,847.5" fill="none" stroke="#0000FF" stroke-width="6" stroke-linejoin="round" stroke-linecap="round"/><polygon points="140.6,934.1 148.8,948.9 132.4,948.9" fill="#0000FF"/><polygon points="199.6,934.1 207.8,948.9 191.4,948.9" fill="#0000FF"/><polygon points="258.5,934.1 266.7,948.9 250.3,948.9" fill="#0000FF"/><polygon points="317.5,934.1 325.7,948.9 309.3,948.9" fill="#0000FF"/><polygon points="376.4,933.2 384.6,947.9 368.2,947.9" fill="#0000FF"/><polygon points="435.4,839.3 443.6,854.0 427.2,854.0" fill="#0000FF"/><polyline points="140.6,942.3 199.6,942.3 258.5,942.3 317.5,942.3 376.4,942.3 435.4,869.8" fill="none" stroke="#008080" stroke-width="6" stroke-linejoin="round" stroke-linecap="round"/><polygon points="140.6,950.5 148.8,935.7 132.4,935.7" fill="#008080"/><polygon points="199.6,950.5 207.8,935.7 191.4,935.7" fill="#008080"/><polygon points="258.5,950.5 266.7,935.7 250.3,935.7" fill="#008080"/><polygon points="317.5,950.5 325.7,935.7 309.3,935.7" fill="#008080"/><polygon points="376.4,950.5 384.6,935.7 368.2,935.7" fill="#008080"/><polygon points="435.4,878.0 443.6,863.2 427.2,863.2" fill="#008080"/><polyline points="140.6,942.3 199.6,942.3 258.5,942.3 317.5,942.3 376.4,942.3 435.4,938.5" fill="none" stroke="#FF00FF" stroke-width="6" stroke-linejoin="round" stroke-linecap="round"/><polygon points="140.6,933.8 149.1,942.3 140.6,950.8 132.1,942.3" fill="#FF00FF"/><polygon points="199.6,933.8 208.1,942.3 199.6,950.8 191.1,942.3" fill="#FF00FF"/><polygon points="258.5,933.8 267.0,942.3 258.5,950.8 250.0,942.3" fill="#FF00FF"/><polygon points="317.5,933.8 326.0,942.3 317.5,950.8 309.0,942.3" fill="#FF00FF"/><polygon points="376.4,933.8 384.9,942.3 376.4,950.8 367.9,942.3" fill="#FF00FF"/><polygon points="435.4,930.0 443.9,938.5 435.4,947.0 426.9,938.5" fill="#FF00FF"/></g><rect x="112.5" y="706.5" width="352.8" height="259.9" fill="none" stroke="#000" stroke-width="3.2"/><line x1="140.6" y1="966.4" x2="140.6" y2="956.9" stroke="#000" stroke-width="3"/><line x1="199.56000000000006" y1="966.4" x2="199.56000000000006" y2="956.9" stroke="#000" stroke-width="3"/><line x1="258.5200000000001" y1="966.4" x2="258.5200000000001" y2="956.9" stroke="#000" stroke-width="3"/><line x1="317.48000000000013" y1="966.4" x2="317.48000000000013" y2="956.9" stroke="#000" stroke-width="3"/><line x1="376.44000000000017" y1="966.4" x2="376.44000000000017" y2="956.9" stroke="#000" stroke-width="3"/><line x1="435.4000000000002" y1="966.4" x2="435.4000000000002" y2="956.9" stroke="#000" stroke-width="3"/><line x1="146.8" y1="706.5" x2="146.8" y2="716.0" stroke="#000" stroke-width="3"/><line x1="217" y1="706.5" x2="217" y2="716.0" stroke="#000" stroke-width="3"/><line x1="288.2" y1="706.5" x2="288.2" y2="716.0" stroke="#000" stroke-width="3"/><line x1="359.7" y1="706.5" x2="359.7" y2="716.0" stroke="#000" stroke-width="3"/><line x1="430" y1="706.5" x2="430" y2="716.0" stroke="#000" stroke-width="3"/><line x1="112.5" y1="753.4" x2="122.0" y2="753.4" stroke="#000" stroke-width="3"/><line x1="112.5" y1="847.9" x2="122.0" y2="847.9" stroke="#000" stroke-width="3"/><line x1="112.5" y1="942.3" x2="122.0" y2="942.3" stroke="#000" stroke-width="3"/><line x1="465.3" y1="732" x2="455.8" y2="732" stroke="#000" stroke-width="3"/><line x1="465.3" y1="836.2" x2="455.8" y2="836.2" stroke="#000" stroke-width="3"/><line x1="465.3" y1="940.4" x2="455.8" y2="940.4" stroke="#000" stroke-width="3"/><text x="140.6" y="999.6" font-family="Liberation Serif" font-weight="bold" font-size="29" text-anchor="middle" >0.60</text><text x="199.56000000000006" y="999.6" font-family="Liberation Serif" font-weight="bold" font-size="29" text-anchor="middle" >0.61</text><text x="258.5200000000001" y="999.6" font-family="Liberation Serif" font-weight="bold" font-size="29" text-anchor="middle" >0.62</text><text x="317.48000000000013" y="999.6" font-family="Liberation Serif" font-weight="bold" font-size="29" text-anchor="middle" >0.63</text><text x="376.44000000000017" y="999.6" font-family="Liberation Serif" font-weight="bold" font-size="29" text-anchor="middle" >0.64</text><text x="435.4000000000002" y="999.6" font-family="Liberation Serif" font-weight="bold" font-size="29" text-anchor="middle" >0.65</text><text x="99.5" y="762.6999999999999" font-family="Liberation Serif" font-weight="bold" font-size="28" text-anchor="end" >0.02</text><text x="99.5" y="857.1999999999999" font-family="Liberation Serif" font-weight="bold" font-size="28" text-anchor="end" >0.01</text><text x="99.5" y="951.5999999999999" font-family="Liberation Serif" font-weight="bold" font-size="28" text-anchor="end" >0.00</text><text x="278.5" y="1024" font-family="Liberation Serif" font-weight="bold" font-size="34.5" text-anchor="middle" >ρ</text><text x="135" y="745.5" font-family="Liberation Serif" font-weight="bold" font-size="37.5" text-anchor="start" >(d)</text><text transform="translate(31.5,845) rotate(-90)" font-family="Liberation Serif" font-weight="bold" font-size="35" text-anchor="start">P</text><line x1="137.6" y1="774.6" x2="193.8" y2="774.6" stroke="#000000" stroke-width="6.5" stroke-linecap="round"/><rect x="159.3" y="768.1" width="13.0" height="13.0" fill="#000000"/><line x1="137.6" y1="806.8" x2="193.8" y2="806.8" stroke="#FF0000" stroke-width="6.5" stroke-linecap="round"/><circle cx="165.8" cy="806.8" r="7.5" fill="#FF0000"/><line x1="137.6" y1="838.4" x2="193.8" y2="838.4" stroke="#0000FF" stroke-width="6.5" stroke-linecap="round"/><polygon points="165.8,830.2 174.0,845.0 157.6,845.0" fill="#0000FF"/><line x1="137.6" y1="870" x2="193.8" y2="870" stroke="#008080" stroke-width="6.5" stroke-linecap="round"/><polygon points="165.8,878.2 174.0,863.4 157.6,863.4" fill="#008080"/><line x1="137.6" y1="901.4" x2="193.8" y2="901.4" stroke="#FF00FF" stroke-width="6.5" stroke-linecap="round"/><polygon points="165.8,892.9 174.3,901.4 165.8,909.9 157.3,901.4" fill="#FF00FF"/><text x="321.5" y="783.3" font-family="Liberation Serif" font-weight="bold" font-size="34" text-anchor="end">T<tspan font-size="23" dy="9">S</tspan><tspan dy="-9">=0.67</tspan></text><text x="321.5" y="816.9" font-family="Liberation Serif" font-weight="bold" font-size="34" text-anchor="end" >0.72</text><text x="321.5" y="848.9" font-family="Liberation Serif" font-weight="bold" font-size="34" text-anchor="end" >0.77</text><text x="321.5" y="879.2" font-family="Liberation Serif" font-weight="bold" font-size="34" text-anchor="end" >0.82</text><text x="321.5" y="912.8" font-family="Liberation Serif" font-weight="bold" font-size="34" text-anchor="end" >0.87</text><clipPath id="ce"><rect x="634" y="705.6" width="353.29999999999995" height="260.69999999999993"/></clipPath><g clip-path="url(#ce)"><polyline points="668.0,924.0 739.3,939.0 810.6,940.0 881.9,940.0 953.2,940.0" fill="none" stroke="#000000" stroke-width="6" stroke-linejoin="round" stroke-linecap="round"/><rect x="661.5" y="917.5" width="13.0" height="13.0" fill="#000000"/><rect x="732.8" y="932.5" width="13.0" height="13.0" fill="#000000"/><rect x="804.1" y="933.5" width="13.0" height="13.0" fill="#000000"/><rect x="875.4" y="933.5" width="13.0" height="13.0" fill="#000000"/><rect x="946.7" y="933.5" width="13.0" height="13.0" fill="#000000"/><polyline points="668.0,909.0 739.3,937.9 810.6,940.0 881.9,940.0 953.2,940.0" fill="none" stroke="#FF0000" stroke-width="6" stroke-linejoin="round" stroke-linecap="round"/><circle cx="668.0" cy="909.0" r="7.5" fill="#FF0000"/><circle cx="739.3" cy="937.9" r="7.5" fill="#FF0000"/><circle cx="810.6" cy="940.0" r="7.5" fill="#FF0000"/><circle cx="881.9" cy="940.0" r="7.5" fill="#FF0000"/><circle cx="953.2" cy="940.0" r="7.5" fill="#FF0000"/><polyline points="668.0,880.6 739.3,932.7 810.6,940.0 881.9,940.0 953.2,940.0" fill="none" stroke="#0000FF" stroke-width="6" stroke-linejoin="round" stroke-linecap="round"/><polygon points="668.0,872.4 676.2,887.1 659.8,887.1" fill="#0000FF"/><polygon points="739.3,924.5 747.5,939.3 731.1,939.3" fill="#0000FF"/><polygon points="810.6,931.8 818.8,946.6 802.4,946.6" fill="#0000FF"/><polygon points="881.9,931.8 890.1,946.6 873.7,946.6" fill="#0000FF"/><polygon points="953.2,931.8 961.4,946.6 945.0,946.6" fill="#0000FF"/><polyline points="668.0,829.5 739.3,922.3 810.6,940.0 881.9,940.0 953.2,940.0" fill="none" stroke="#008080" stroke-width="6" stroke-linejoin="round" stroke-linecap="round"/><polygon points="668.0,837.7 676.2,822.9 659.8,822.9" fill="#008080"/><polygon points="739.3,930.5 747.5,915.7 731.1,915.7" fill="#008080"/><polygon points="810.6,948.2 818.8,933.4 802.4,933.4" fill="#008080"/><polygon points="881.9,948.2 890.1,933.4 873.7,933.4" fill="#008080"/><polygon points="953.2,948.2 961.4,933.4 945.0,933.4" fill="#008080"/><polyline points="668.0,738.8 739.3,903.5 810.6,935.8 881.9,940.0 953.2,940.0" fill="none" stroke="#FF00FF" stroke-width="6" stroke-linejoin="round" stroke-linecap="round"/><polygon points="668.0,730.3 676.5,738.8 668.0,747.3 659.5,738.8" fill="#FF00FF"/><polygon points="739.3,895.0 747.8,903.5 739.3,912.0 730.8,903.5" fill="#FF00FF"/><polygon points="810.6,927.3 819.1,935.8 810.6,944.3 802.1,935.8" fill="#FF00FF"/><polygon points="881.9,931.5 890.4,940.0 881.9,948.5 873.4,940.0" fill="#FF00FF"/><polygon points="953.2,931.5 961.7,940.0 953.2,948.5 944.7,940.0" fill="#FF00FF"/></g><rect x="634" y="705.6" width="353.29999999999995" height="260.69999999999993" fill="none" stroke="#000" stroke-width="3.2"/><line x1="668.0" y1="966.3" x2="668.0" y2="956.8" stroke="#000" stroke-width="3"/><line x1="668.0" y1="705.6" x2="668.0" y2="715.1" stroke="#000" stroke-width="3"/><line x1="739.3000000000001" y1="966.3" x2="739.3000000000001" y2="956.8" stroke="#000" stroke-width="3"/><line x1="739.3000000000001" y1="705.6" x2="739.3000000000001" y2="715.1" stroke="#000" stroke-width="3"/><line x1="810.6000000000001" y1="966.3" x2="810.6000000000001" y2="956.8" stroke="#000" stroke-width="3"/><line x1="810.6000000000001" y1="705.6" x2="810.6000000000001" y2="715.1" stroke="#000" stroke-width="3"/><line x1="881.9000000000002" y1="966.3" x2="881.9000000000002" y2="956.8" stroke="#000" stroke-width="3"/><line x1="881.9000000000002" y1="705.6" x2="881.9000000000002" y2="715.1" stroke="#000" stroke-width="3"/><line x1="953.2000000000003" y1="966.3" x2="953.2000000000003" y2="956.8" stroke="#000" stroke-width="3"/><line x1="953.2000000000003" y1="705.6" x2="953.2000000000003" y2="715.1" stroke="#000" stroke-width="3"/><line x1="634" y1="731.5" x2="643.5" y2="731.5" stroke="#000" stroke-width="3"/><line x1="987.3" y1="731.5" x2="977.8" y2="731.5" stroke="#000" stroke-width="3"/><line x1="634" y1="835.7" x2="643.5" y2="835.7" stroke="#000" stroke-width="3"/><line x1="987.3" y1="835.7" x2="977.8" y2="835.7" stroke="#000" stroke-width="3"/><line x1="634" y1="940" x2="643.5" y2="940" stroke="#000" stroke-width="3"/><line x1="987.3" y1="940" x2="977.8" y2="940" stroke="#000" stroke-width="3"/><text x="668.0" y="999.6" font-family="Liberation Serif" font-weight="bold" font-size="29" text-anchor="middle" >0.78</text><text x="739.3000000000001" y="999.6" font-family="Liberation Serif" font-weight="bold" font-size="29" text-anchor="middle" >0.79</text><text x="810.6000000000001" y="999.6" font-family="Liberation Serif" font-weight="bold" font-size="29" text-anchor="middle" >0.80</text><text x="881.9000000000002" y="999.6" font-family="Liberation Serif" font-weight="bold" font-size="29" text-anchor="middle" >0.81</text><text x="953.2000000000003" y="999.6" font-family="Liberation Serif" font-weight="bold" font-size="29" text-anchor="middle" >0.82</text><text x="621" y="740.8" font-family="Liberation Serif" font-weight="bold" font-size="28" text-anchor="end" >0.02</text><text x="621" y="845.0" font-family="Liberation Serif" font-weight="bold" font-size="28" text-anchor="end" >0.01</text><text x="621" y="949.3" font-family="Liberation Serif" font-weight="bold" font-size="28" text-anchor="end" >0.00</text><text x="823.5" y="1024" font-family="Liberation Serif" font-weight="bold" font-size="34.5" text-anchor="middle" >ρ</text><text x="679.3" y="745.5" font-family="Liberation Serif" font-weight="bold" font-size="37.5" text-anchor="start" >(e)</text><text transform="translate(565.6,856) rotate(-90) scale(0.95,1)" font-family="Liberation Serif" font-weight="bold" font-size="35" text-anchor="start">N<tspan font-size="22" dy="4">D</tspan></text><line x1="775.3" y1="768" x2="831" y2="768" stroke="#000000" stroke-width="6.5" stroke-linecap="round"/><rect x="796.5" y="761.5" width="13.0" height="13.0" fill="#000000"/><line x1="775.3" y1="799.4" x2="831" y2="799.4" stroke="#FF0000" stroke-width="6.5" stroke-linecap="round"/><circle cx="803.0" cy="799.4" r="7.5" fill="#FF0000"/><line x1="775.3" y1="831.3" x2="831" y2="831.3" stroke="#0000FF" stroke-width="6.5" stroke-linecap="round"/><polygon points="803.0,823.1 811.2,837.9 794.8,837.9" fill="#0000FF"/><line x1="775.3" y1="863.2" x2="831" y2="863.2" stroke="#008080" stroke-width="6.5" stroke-linecap="round"/><polygon points="803.0,871.4 811.2,856.6 794.8,856.6" fill="#008080"/><line x1="775.3" y1="895.1" x2="831" y2="895.1" stroke="#FF00FF" stroke-width="6.5" stroke-linecap="round"/><polygon points="803.0,886.6 811.5,895.1 803.0,903.6 794.5,895.1" fill="#FF00FF"/><text x="959.5" y="779.1" font-family="Liberation Serif" font-weight="bold" font-size="34" text-anchor="end">T<tspan font-size="23" dy="9">D</tspan><tspan dy="-9">=0.82</tspan></text><text x="959.5" y="811.9" font-family="Liberation Serif" font-weight="bold" font-size="34" text-anchor="end" >0.83</text><text x="959.5" y="843.9" font-family="Liberation Serif" font-weight="bold" font-size="34" text-anchor="end" >0.84</text><text x="959.5" y="875.8" font-family="Liberation Serif" font-weight="bold" font-size="34" text-anchor="end" >0.85</text><text x="959.5" y="907.8" font-family="Liberation Serif" font-weight="bold" font-size="34" text-anchor="end" >0.86</text>
</svg>
</body></html>
